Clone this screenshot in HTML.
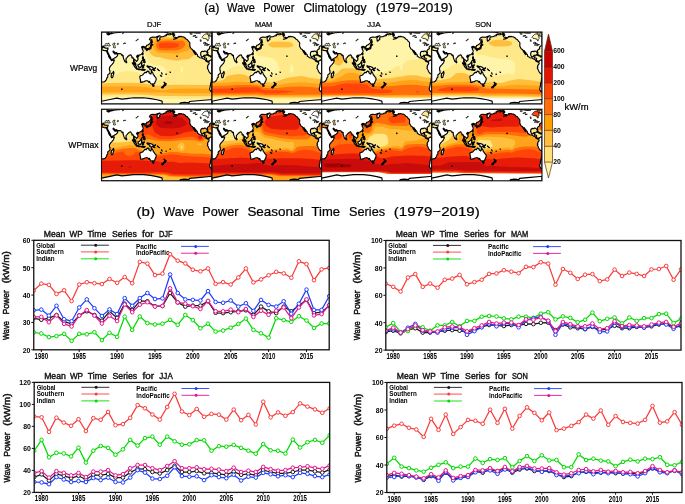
<!DOCTYPE html>
<html><head><meta charset="utf-8"><title>Wave Power</title>
<style>
html,body{margin:0;padding:0;background:#fff;}
body{width:685px;height:504px;overflow:hidden;font-family:"Liberation Sans",sans-serif;}
svg{will-change:transform;display:block;font-family:"Liberation Sans",sans-serif;fill:#000;}
</style></head><body>
<svg width="685" height="504" viewBox="0 0 685 504">
<rect width="685" height="504" fill="#fff"/>
<g style="filter:opacity(0.999)"><text x="204.2" y="12.1" font-size="12" font-weight="normal" textLength="15.3" lengthAdjust="spacingAndGlyphs" stroke="#000" stroke-width="0.22">(a)</text><text x="227.1" y="12.1" font-size="12" font-weight="normal" textLength="27.9" lengthAdjust="spacingAndGlyphs" stroke="#000" stroke-width="0.22">Wave</text><text x="263.2" y="12.1" font-size="12" font-weight="normal" textLength="31.1" lengthAdjust="spacingAndGlyphs" stroke="#000" stroke-width="0.22">Power</text><text x="303.4" y="12.1" font-size="12" font-weight="normal" textLength="63.1" lengthAdjust="spacingAndGlyphs" stroke="#000" stroke-width="0.22">Climatology</text><text x="375.7" y="12.1" font-size="12" font-weight="normal" textLength="77.1" lengthAdjust="spacingAndGlyphs" stroke="#000" stroke-width="0.22">(1979&#8722;2019)</text><text x="147.1" y="27.1" font-size="8" font-weight="normal" textLength="14.2" lengthAdjust="spacingAndGlyphs" stroke="#000" stroke-width="0.22">DJF</text><text x="255" y="27.1" font-size="8" font-weight="normal" textLength="17.3" lengthAdjust="spacingAndGlyphs" stroke="#000" stroke-width="0.22">MAM</text><text x="366.9" y="27.1" font-size="8" font-weight="normal" textLength="13.8" lengthAdjust="spacingAndGlyphs" stroke="#000" stroke-width="0.22">JJA</text><text x="475.3" y="27.1" font-size="8" font-weight="normal" textLength="16.2" lengthAdjust="spacingAndGlyphs" stroke="#000" stroke-width="0.22">SON</text><text x="70" y="71.2" font-size="8.5" font-weight="normal" textLength="27.1" lengthAdjust="spacingAndGlyphs" stroke="#000" stroke-width="0.22">WPavg</text><text x="68.3" y="148.1" font-size="8.5" font-weight="normal" textLength="30.2" lengthAdjust="spacingAndGlyphs" stroke="#000" stroke-width="0.22">WPmax</text><text x="553.2" y="164.2" font-size="7.6" font-weight="bold" textLength="7.7" lengthAdjust="spacingAndGlyphs">20</text><text x="553.2" y="148.4" font-size="7.6" font-weight="bold" textLength="7.7" lengthAdjust="spacingAndGlyphs">40</text><text x="553.2" y="132.5" font-size="7.6" font-weight="bold" textLength="7.7" lengthAdjust="spacingAndGlyphs">60</text><text x="553.2" y="116.69999999999999" font-size="7.6" font-weight="bold" textLength="7.7" lengthAdjust="spacingAndGlyphs">80</text><text x="553.2" y="100.8" font-size="7.6" font-weight="bold" textLength="11.5" lengthAdjust="spacingAndGlyphs">100</text><text x="553.2" y="85.0" font-size="7.6" font-weight="bold" textLength="11.5" lengthAdjust="spacingAndGlyphs">200</text><text x="553.2" y="69.1" font-size="7.6" font-weight="bold" textLength="11.5" lengthAdjust="spacingAndGlyphs">400</text><text x="553.2" y="53.300000000000004" font-size="7.6" font-weight="bold" textLength="11.5" lengthAdjust="spacingAndGlyphs">600</text><text x="564.5" y="109.8" font-size="8.7" font-weight="normal" textLength="24.1" lengthAdjust="spacingAndGlyphs" stroke="#000" stroke-width="0.22">kW/m</text><text x="136.6" y="215.8" font-size="13" font-weight="normal" textLength="18.4" lengthAdjust="spacingAndGlyphs" stroke="#000" stroke-width="0.22">(b)</text><text x="163.6" y="215.8" font-size="13" font-weight="normal" textLength="30.8" lengthAdjust="spacingAndGlyphs" stroke="#000" stroke-width="0.22">Wave</text><text x="202.3" y="215.8" font-size="13" font-weight="normal" textLength="36.2" lengthAdjust="spacingAndGlyphs" stroke="#000" stroke-width="0.22">Power</text><text x="247.4" y="215.8" font-size="13" font-weight="normal" textLength="56.0" lengthAdjust="spacingAndGlyphs" stroke="#000" stroke-width="0.22">Seasonal</text><text x="311.6" y="215.8" font-size="13" font-weight="normal" textLength="28.4" lengthAdjust="spacingAndGlyphs" stroke="#000" stroke-width="0.22">Time</text><text x="349.1" y="215.8" font-size="13" font-weight="normal" textLength="36.0" lengthAdjust="spacingAndGlyphs" stroke="#000" stroke-width="0.22">Series</text><text x="393.8" y="215.8" font-size="13" font-weight="normal" textLength="85.9" lengthAdjust="spacingAndGlyphs" stroke="#000" stroke-width="0.22">(1979&#8722;2019)</text><text x="22.75" y="352.7" font-size="8" font-weight="bold" textLength="7.7" lengthAdjust="spacingAndGlyphs">20</text><text x="22.75" y="325.32" font-size="8" font-weight="bold" textLength="7.7" lengthAdjust="spacingAndGlyphs">30</text><text x="22.75" y="297.95" font-size="8" font-weight="bold" textLength="7.7" lengthAdjust="spacingAndGlyphs">40</text><text x="22.75" y="270.57" font-size="8" font-weight="bold" textLength="7.7" lengthAdjust="spacingAndGlyphs">50</text><text x="22.75" y="243.2" font-size="8" font-weight="bold" textLength="7.7" lengthAdjust="spacingAndGlyphs">60</text><text x="34.53" y="358.8" font-size="8.5" font-weight="bold" textLength="13.6" lengthAdjust="spacingAndGlyphs">1980</text><text x="72.4" y="358.8" font-size="8.5" font-weight="bold" textLength="13.6" lengthAdjust="spacingAndGlyphs">1985</text><text x="110.28" y="358.8" font-size="8.5" font-weight="bold" textLength="13.6" lengthAdjust="spacingAndGlyphs">1990</text><text x="148.16" y="358.8" font-size="8.5" font-weight="bold" textLength="13.6" lengthAdjust="spacingAndGlyphs">1995</text><text x="186.04" y="358.8" font-size="8.5" font-weight="bold" textLength="13.6" lengthAdjust="spacingAndGlyphs">2000</text><text x="223.92" y="358.8" font-size="8.5" font-weight="bold" textLength="13.6" lengthAdjust="spacingAndGlyphs">2005</text><text x="261.79" y="358.8" font-size="8.5" font-weight="bold" textLength="13.6" lengthAdjust="spacingAndGlyphs">2010</text><text x="299.67" y="358.8" font-size="8.5" font-weight="bold" textLength="13.6" lengthAdjust="spacingAndGlyphs">2015</text><text x="43.7" y="236.6" font-size="8.8" font-weight="normal" textLength="21.6" lengthAdjust="spacingAndGlyphs" stroke="#1a1a1a" stroke-width="0.4">Mean</text><text x="69.5" y="236.6" font-size="8.8" font-weight="normal" textLength="13.1" lengthAdjust="spacingAndGlyphs" stroke="#1a1a1a" stroke-width="0.4">WP</text><text x="87.4" y="236.6" font-size="8.8" font-weight="normal" textLength="18.9" lengthAdjust="spacingAndGlyphs" stroke="#1a1a1a" stroke-width="0.4">Time</text><text x="112.0" y="236.6" font-size="8.8" font-weight="normal" textLength="24.8" lengthAdjust="spacingAndGlyphs" stroke="#1a1a1a" stroke-width="0.4">Series</text><text x="142.0" y="236.6" font-size="8.8" font-weight="normal" textLength="11.6" lengthAdjust="spacingAndGlyphs" stroke="#1a1a1a" stroke-width="0.4">for</text><text x="158.9" y="236.6" font-size="8.8" font-weight="normal" textLength="13.6" lengthAdjust="spacingAndGlyphs" stroke="#1a1a1a" stroke-width="0.4">DJF</text><text transform="translate(9.30,340.05) rotate(-90)" font-size="9.6" textLength="18.9" lengthAdjust="spacingAndGlyphs" stroke="#1a1a1a" stroke-width="0.5">Wave</text><text transform="translate(9.30,314.45) rotate(-90)" font-size="9.6" textLength="24.4" lengthAdjust="spacingAndGlyphs" stroke="#1a1a1a" stroke-width="0.5">Power</text><text transform="translate(9.30,283.35) rotate(-90)" font-size="9.6" textLength="32.2" lengthAdjust="spacingAndGlyphs" stroke="#1a1a1a" stroke-width="0.5">(kW/m)</text><text x="36.2" y="247.5" font-size="6.3" font-weight="bold" textLength="18.8" lengthAdjust="spacingAndGlyphs">Global</text><text x="36.2" y="254.2" font-size="6.3" font-weight="bold" textLength="27.6" lengthAdjust="spacingAndGlyphs">Southern</text><text x="36.2" y="261.1" font-size="6.3" font-weight="bold" textLength="18.4" lengthAdjust="spacingAndGlyphs">Indian</text><text x="135.9" y="248.6" font-size="6.3" font-weight="bold" textLength="21.0" lengthAdjust="spacingAndGlyphs">Pacific</text><text x="135.9" y="255.4" font-size="6.3" font-weight="bold" textLength="33.5" lengthAdjust="spacingAndGlyphs">IndoPacific</text><text x="374.8" y="353.0" font-size="8" font-weight="bold" textLength="7.7" lengthAdjust="spacingAndGlyphs">20</text><text x="374.8" y="325.6" font-size="8" font-weight="bold" textLength="7.7" lengthAdjust="spacingAndGlyphs">40</text><text x="374.8" y="298.2" font-size="8" font-weight="bold" textLength="7.7" lengthAdjust="spacingAndGlyphs">60</text><text x="374.8" y="270.8" font-size="8" font-weight="bold" textLength="7.7" lengthAdjust="spacingAndGlyphs">80</text><text x="370.95" y="243.4" font-size="8" font-weight="bold" textLength="11.6" lengthAdjust="spacingAndGlyphs">100</text><text x="386.38" y="359.1" font-size="8.5" font-weight="bold" textLength="13.6" lengthAdjust="spacingAndGlyphs">1980</text><text x="423.28" y="359.1" font-size="8.5" font-weight="bold" textLength="13.6" lengthAdjust="spacingAndGlyphs">1985</text><text x="460.18" y="359.1" font-size="8.5" font-weight="bold" textLength="13.6" lengthAdjust="spacingAndGlyphs">1990</text><text x="497.08" y="359.1" font-size="8.5" font-weight="bold" textLength="13.6" lengthAdjust="spacingAndGlyphs">1995</text><text x="533.98" y="359.1" font-size="8.5" font-weight="bold" textLength="13.6" lengthAdjust="spacingAndGlyphs">2000</text><text x="570.88" y="359.1" font-size="8.5" font-weight="bold" textLength="13.6" lengthAdjust="spacingAndGlyphs">2005</text><text x="607.78" y="359.1" font-size="8.5" font-weight="bold" textLength="13.6" lengthAdjust="spacingAndGlyphs">2010</text><text x="644.68" y="359.1" font-size="8.5" font-weight="bold" textLength="13.6" lengthAdjust="spacingAndGlyphs">2015</text><text x="395.75" y="236.8" font-size="8.8" font-weight="normal" textLength="21.6" lengthAdjust="spacingAndGlyphs" stroke="#1a1a1a" stroke-width="0.4">Mean</text><text x="421.55" y="236.8" font-size="8.8" font-weight="normal" textLength="13.1" lengthAdjust="spacingAndGlyphs" stroke="#1a1a1a" stroke-width="0.4">WP</text><text x="439.45" y="236.8" font-size="8.8" font-weight="normal" textLength="18.9" lengthAdjust="spacingAndGlyphs" stroke="#1a1a1a" stroke-width="0.4">Time</text><text x="464.05" y="236.8" font-size="8.8" font-weight="normal" textLength="24.8" lengthAdjust="spacingAndGlyphs" stroke="#1a1a1a" stroke-width="0.4">Series</text><text x="494.05" y="236.8" font-size="8.8" font-weight="normal" textLength="11.6" lengthAdjust="spacingAndGlyphs" stroke="#1a1a1a" stroke-width="0.4">for</text><text x="510.95" y="236.8" font-size="8.8" font-weight="normal" textLength="17.3" lengthAdjust="spacingAndGlyphs" stroke="#1a1a1a" stroke-width="0.4">MAM</text><text transform="translate(359.85,340.30) rotate(-90)" font-size="9.6" textLength="18.9" lengthAdjust="spacingAndGlyphs" stroke="#1a1a1a" stroke-width="0.5">Wave</text><text transform="translate(359.85,314.70) rotate(-90)" font-size="9.6" textLength="24.4" lengthAdjust="spacingAndGlyphs" stroke="#1a1a1a" stroke-width="0.5">Power</text><text transform="translate(359.85,283.60) rotate(-90)" font-size="9.6" textLength="32.2" lengthAdjust="spacingAndGlyphs" stroke="#1a1a1a" stroke-width="0.5">(kW/m)</text><text x="388.25" y="247.7" font-size="6.3" font-weight="bold" textLength="18.8" lengthAdjust="spacingAndGlyphs">Global</text><text x="388.25" y="254.4" font-size="6.3" font-weight="bold" textLength="27.6" lengthAdjust="spacingAndGlyphs">Southern</text><text x="388.25" y="261.3" font-size="6.3" font-weight="bold" textLength="18.4" lengthAdjust="spacingAndGlyphs">Indian</text><text x="487.95" y="248.8" font-size="6.3" font-weight="bold" textLength="21.0" lengthAdjust="spacingAndGlyphs">Pacific</text><text x="487.95" y="255.6" font-size="6.3" font-weight="bold" textLength="33.5" lengthAdjust="spacingAndGlyphs">IndoPacific</text><text x="23.2" y="495.3" font-size="8" font-weight="bold" textLength="7.7" lengthAdjust="spacingAndGlyphs">20</text><text x="23.2" y="473.3" font-size="8" font-weight="bold" textLength="7.7" lengthAdjust="spacingAndGlyphs">40</text><text x="23.2" y="451.3" font-size="8" font-weight="bold" textLength="7.7" lengthAdjust="spacingAndGlyphs">60</text><text x="23.2" y="429.3" font-size="8" font-weight="bold" textLength="7.7" lengthAdjust="spacingAndGlyphs">80</text><text x="19.35" y="407.3" font-size="8" font-weight="bold" textLength="11.6" lengthAdjust="spacingAndGlyphs">100</text><text x="19.35" y="385.3" font-size="8" font-weight="bold" textLength="11.6" lengthAdjust="spacingAndGlyphs">120</text><text x="34.79" y="501.4" font-size="8.5" font-weight="bold" textLength="13.6" lengthAdjust="spacingAndGlyphs">1980</text><text x="71.73" y="501.4" font-size="8.5" font-weight="bold" textLength="13.6" lengthAdjust="spacingAndGlyphs">1985</text><text x="108.66" y="501.4" font-size="8.5" font-weight="bold" textLength="13.6" lengthAdjust="spacingAndGlyphs">1990</text><text x="145.6" y="501.4" font-size="8.5" font-weight="bold" textLength="13.6" lengthAdjust="spacingAndGlyphs">1995</text><text x="182.54" y="501.4" font-size="8.5" font-weight="bold" textLength="13.6" lengthAdjust="spacingAndGlyphs">2000</text><text x="219.48" y="501.4" font-size="8.5" font-weight="bold" textLength="13.6" lengthAdjust="spacingAndGlyphs">2005</text><text x="256.41" y="501.4" font-size="8.5" font-weight="bold" textLength="13.6" lengthAdjust="spacingAndGlyphs">2010</text><text x="293.35" y="501.4" font-size="8.5" font-weight="bold" textLength="13.6" lengthAdjust="spacingAndGlyphs">2015</text><text x="44.15" y="378.7" font-size="8.8" font-weight="normal" textLength="21.6" lengthAdjust="spacingAndGlyphs" stroke="#1a1a1a" stroke-width="0.4">Mean</text><text x="69.95" y="378.7" font-size="8.8" font-weight="normal" textLength="13.1" lengthAdjust="spacingAndGlyphs" stroke="#1a1a1a" stroke-width="0.4">WP</text><text x="87.85" y="378.7" font-size="8.8" font-weight="normal" textLength="18.9" lengthAdjust="spacingAndGlyphs" stroke="#1a1a1a" stroke-width="0.4">Time</text><text x="112.45" y="378.7" font-size="8.8" font-weight="normal" textLength="24.8" lengthAdjust="spacingAndGlyphs" stroke="#1a1a1a" stroke-width="0.4">Series</text><text x="142.45" y="378.7" font-size="8.8" font-weight="normal" textLength="11.6" lengthAdjust="spacingAndGlyphs" stroke="#1a1a1a" stroke-width="0.4">for</text><text x="159.35" y="378.7" font-size="8.8" font-weight="normal" textLength="13.4" lengthAdjust="spacingAndGlyphs" stroke="#1a1a1a" stroke-width="0.4">JJA</text><text transform="translate(9.75,482.40) rotate(-90)" font-size="9.6" textLength="18.9" lengthAdjust="spacingAndGlyphs" stroke="#1a1a1a" stroke-width="0.5">Wave</text><text transform="translate(9.75,456.80) rotate(-90)" font-size="9.6" textLength="24.4" lengthAdjust="spacingAndGlyphs" stroke="#1a1a1a" stroke-width="0.5">Power</text><text transform="translate(9.75,425.70) rotate(-90)" font-size="9.6" textLength="32.2" lengthAdjust="spacingAndGlyphs" stroke="#1a1a1a" stroke-width="0.5">(kW/m)</text><text x="36.65" y="389.6" font-size="6.3" font-weight="bold" textLength="18.8" lengthAdjust="spacingAndGlyphs">Global</text><text x="36.65" y="396.3" font-size="6.3" font-weight="bold" textLength="27.6" lengthAdjust="spacingAndGlyphs">Southern</text><text x="36.65" y="403.2" font-size="6.3" font-weight="bold" textLength="18.4" lengthAdjust="spacingAndGlyphs">Indian</text><text x="136.35" y="390.7" font-size="6.3" font-weight="bold" textLength="21.0" lengthAdjust="spacingAndGlyphs">Pacific</text><text x="136.35" y="397.5" font-size="6.3" font-weight="bold" textLength="33.5" lengthAdjust="spacingAndGlyphs">IndoPacific</text><text x="375.8" y="495.4" font-size="8" font-weight="bold" textLength="7.7" lengthAdjust="spacingAndGlyphs">20</text><text x="375.8" y="467.9" font-size="8" font-weight="bold" textLength="7.7" lengthAdjust="spacingAndGlyphs">40</text><text x="375.8" y="440.4" font-size="8" font-weight="bold" textLength="7.7" lengthAdjust="spacingAndGlyphs">60</text><text x="375.8" y="412.9" font-size="8" font-weight="bold" textLength="7.7" lengthAdjust="spacingAndGlyphs">80</text><text x="371.95" y="385.4" font-size="8" font-weight="bold" textLength="11.6" lengthAdjust="spacingAndGlyphs">100</text><text x="387.38" y="501.5" font-size="8.5" font-weight="bold" textLength="13.6" lengthAdjust="spacingAndGlyphs">1980</text><text x="424.28" y="501.5" font-size="8.5" font-weight="bold" textLength="13.6" lengthAdjust="spacingAndGlyphs">1985</text><text x="461.18" y="501.5" font-size="8.5" font-weight="bold" textLength="13.6" lengthAdjust="spacingAndGlyphs">1990</text><text x="498.08" y="501.5" font-size="8.5" font-weight="bold" textLength="13.6" lengthAdjust="spacingAndGlyphs">1995</text><text x="534.98" y="501.5" font-size="8.5" font-weight="bold" textLength="13.6" lengthAdjust="spacingAndGlyphs">2000</text><text x="571.88" y="501.5" font-size="8.5" font-weight="bold" textLength="13.6" lengthAdjust="spacingAndGlyphs">2005</text><text x="608.78" y="501.5" font-size="8.5" font-weight="bold" textLength="13.6" lengthAdjust="spacingAndGlyphs">2010</text><text x="645.68" y="501.5" font-size="8.5" font-weight="bold" textLength="13.6" lengthAdjust="spacingAndGlyphs">2015</text><text x="396.75" y="378.8" font-size="8.8" font-weight="normal" textLength="21.6" lengthAdjust="spacingAndGlyphs" stroke="#1a1a1a" stroke-width="0.4">Mean</text><text x="422.55" y="378.8" font-size="8.8" font-weight="normal" textLength="13.1" lengthAdjust="spacingAndGlyphs" stroke="#1a1a1a" stroke-width="0.4">WP</text><text x="440.45" y="378.8" font-size="8.8" font-weight="normal" textLength="18.9" lengthAdjust="spacingAndGlyphs" stroke="#1a1a1a" stroke-width="0.4">Time</text><text x="465.05" y="378.8" font-size="8.8" font-weight="normal" textLength="24.8" lengthAdjust="spacingAndGlyphs" stroke="#1a1a1a" stroke-width="0.4">Series</text><text x="495.05" y="378.8" font-size="8.8" font-weight="normal" textLength="11.6" lengthAdjust="spacingAndGlyphs" stroke="#1a1a1a" stroke-width="0.4">for</text><text x="511.95" y="378.8" font-size="8.8" font-weight="normal" textLength="16.0" lengthAdjust="spacingAndGlyphs" stroke="#1a1a1a" stroke-width="0.4">SON</text><text transform="translate(360.85,482.50) rotate(-90)" font-size="9.6" textLength="18.9" lengthAdjust="spacingAndGlyphs" stroke="#1a1a1a" stroke-width="0.5">Wave</text><text transform="translate(360.85,456.90) rotate(-90)" font-size="9.6" textLength="24.4" lengthAdjust="spacingAndGlyphs" stroke="#1a1a1a" stroke-width="0.5">Power</text><text transform="translate(360.85,425.80) rotate(-90)" font-size="9.6" textLength="32.2" lengthAdjust="spacingAndGlyphs" stroke="#1a1a1a" stroke-width="0.5">(kW/m)</text><text x="389.25" y="389.7" font-size="6.3" font-weight="bold" textLength="18.8" lengthAdjust="spacingAndGlyphs">Global</text><text x="389.25" y="396.4" font-size="6.3" font-weight="bold" textLength="27.6" lengthAdjust="spacingAndGlyphs">Southern</text><text x="389.25" y="403.3" font-size="6.3" font-weight="bold" textLength="18.4" lengthAdjust="spacingAndGlyphs">Indian</text><text x="488.95" y="390.8" font-size="6.3" font-weight="bold" textLength="21.0" lengthAdjust="spacingAndGlyphs">Pacific</text><text x="488.95" y="397.6" font-size="6.3" font-weight="bold" textLength="33.5" lengthAdjust="spacingAndGlyphs">IndoPacific</text></g>











<defs><path id="land" d="M58.9,43.3 60.2,44.3 60.0,44.4 58.9,43.5ZM55.9,37.0 57.3,38.2 57.9,38.6 57.1,38.3ZM60.0,40.8 60.4,41.5 60.7,42.1 60.2,41.3ZM64.4,42.0 64.9,42.0 64.9,42.3 64.4,42.3ZM52.6,36.2 53.6,36.0 54.1,35.7 53.8,36.5 52.8,36.6ZM68.5,40.1 69.0,40.3 68.6,40.3ZM20.0,57.0 20.7,57.1 20.5,57.5 20.1,57.4ZM0.0,0.0 4.5,0.0 5.3,0.3 6.5,0.5 8.6,1.4 8.6,1.8 7.4,1.8 6.1,1.7 5.3,1.6 5.9,2.4 7.0,2.9 7.4,2.6 8.4,2.5 8.2,1.9 9.0,1.7 9.8,1.8 9.9,1.0 9.6,0.7 10.6,1.0 10.8,1.5 11.5,1.2 13.5,0.7 15.1,0.7 16.6,0.2 18.4,0.4 19.2,0.0 61.4,0.0 63.8,0.1 65.5,0.5 67.1,1.0 68.8,1.4 69.7,1.9 69.6,2.2 68.6,2.7 67.1,2.6 65.9,2.1 64.9,2.5 64.5,2.7 65.1,3.6 63.0,3.9 61.4,4.8 58.9,4.9 58.5,5.8 58.1,6.7 58.5,7.2 57.3,8.2 56.7,8.9 55.9,9.1 55.7,7.7 55.5,6.2 56.9,4.6 58.5,3.8 57.3,4.1 55.7,4.6 54.0,5.3 51.2,5.1 49.5,5.5 48.3,6.7 47.9,7.7 49.5,8.0 49.3,9.6 49.1,10.6 47.9,12.0 46.2,13.1 45.2,13.3 44.8,14.4 44.0,14.7 44.7,15.8 44.7,16.7 43.6,17.1 43.5,16.1 43.0,15.4 42.8,14.5 41.5,14.9 41.7,14.2 40.5,14.8 40.0,15.1 40.5,15.7 41.9,15.7 41.0,16.3 40.6,16.9 41.3,18.0 41.7,19.0 41.5,19.9 40.8,21.2 39.9,22.2 38.6,22.9 37.0,23.4 36.7,23.9 36.2,23.2 35.5,23.8 35.1,24.5 35.6,25.4 36.4,26.4 36.5,27.6 35.8,28.6 34.8,29.5 34.7,28.8 33.9,28.1 33.1,27.5 32.9,27.2 32.7,28.1 32.5,29.0 32.9,30.1 33.6,30.6 34.1,31.4 34.2,32.4 34.5,32.9 33.8,32.6 33.3,32.2 32.9,31.0 32.7,30.4 32.0,29.8 32.1,28.8 32.2,27.8 31.8,26.4 31.6,25.7 30.9,26.0 30.4,25.9 30.5,24.7 29.7,23.7 29.3,22.8 28.6,23.0 28.0,23.2 27.4,23.4 27.2,24.0 26.6,24.2 25.5,25.6 24.6,26.3 24.6,27.4 24.5,28.7 24.1,29.2 23.5,29.7 23.0,28.9 22.5,27.6 22.0,26.2 21.7,25.0 21.6,24.0 21.6,23.3 20.7,23.6 20.1,22.9 20.5,22.7 19.8,22.3 19.2,21.7 18.2,21.5 17.0,21.6 15.6,21.3 15.1,20.6 14.8,20.6 14.1,20.8 13.3,20.4 12.6,19.7 11.9,19.1 11.5,19.3 11.8,20.3 12.4,20.9 12.8,21.1 12.9,21.6 13.3,22.0 14.1,22.0 14.9,21.0 14.9,21.8 15.8,22.3 16.3,22.8 15.8,23.8 15.4,24.5 14.4,25.2 13.2,25.9 11.9,26.8 10.2,27.5 9.6,27.5 9.3,26.6 9.2,25.7 8.5,24.5 7.8,23.3 7.2,22.0 6.3,20.4 6.1,19.4 5.9,20.2 5.4,19.9 5.2,19.2 5.2,19.5 5.6,20.6 6.3,22.1 7.0,23.3 7.1,24.5 7.6,25.0 8.1,26.3 8.7,26.6 9.5,27.7 9.5,28.1 10.0,28.6 11.1,28.2 12.8,27.9 12.6,29.0 12.1,30.2 11.5,31.4 10.6,32.4 9.6,33.4 8.8,34.4 8.2,35.3 7.9,36.0 8.0,37.0 7.9,37.9 8.4,38.6 8.4,39.8 8.5,40.8 7.8,41.8 7.0,42.2 6.2,43.2 6.3,44.2 6.3,45.1 5.3,46.0 5.2,46.8 4.9,47.5 4.3,48.5 3.5,49.3 2.7,49.9 1.2,50.0 0.0,50.3 0.0,18.0 0.8,17.9 1.3,18.0 2.0,18.4 3.7,18.8 4.5,18.5 5.1,18.6 5.9,18.6 6.1,17.9 6.5,16.8 6.6,16.0 5.7,16.1 4.9,16.2 4.3,15.9 3.7,16.1 3.1,15.8 2.7,15.1 2.6,14.6 2.5,14.3 2.0,14.0 1.4,14.2 1.1,14.3 1.3,14.9 1.6,15.4 1.2,15.6 1.1,16.1 0.7,15.8 0.5,15.2 0.0,14.6ZM72.4,0.0 110.5,0.0 110.5,13.6 109.7,13.8 108.9,14.2 108.2,14.9 108.0,15.8 108.2,16.7 107.2,17.3 106.4,18.0 105.9,18.7 106.0,19.4 106.4,20.6 106.3,21.4 106.0,21.5 105.6,21.1 105.3,20.2 104.8,19.7 104.4,19.2 103.5,19.1 102.7,19.1 102.3,19.6 101.1,19.3 100.3,19.5 99.4,20.4 99.2,21.6 99.2,23.0 99.9,24.5 100.5,24.8 101.5,24.7 102.1,24.2 102.3,23.4 103.5,23.4 103.3,24.7 103.1,25.2 102.9,25.9 103.1,26.0 104.0,26.0 105.1,26.4 104.9,27.4 104.9,28.3 105.2,28.8 105.8,29.3 106.4,29.0 106.8,29.0 107.5,29.5 107.8,29.3 108.2,28.5 108.7,28.3 109.5,27.9 109.7,28.3 109.9,27.7 110.5,27.8 110.5,60.1 109.3,59.3 108.7,58.6 108.3,57.6 108.2,56.2 108.6,55.2 108.9,53.8 109.0,52.3 109.3,50.9 109.8,49.4 109.9,48.0 110.1,46.6 110.3,45.1 110.4,43.7 110.4,42.4 109.7,41.9 108.5,41.0 107.8,40.1 107.2,38.9 106.6,37.4 105.9,36.5 105.9,35.8 106.4,35.2 106.0,34.7 106.1,34.1 106.4,33.4 106.9,32.6 107.6,31.8 107.5,31.2 107.4,30.2 107.0,29.8 106.6,29.4 106.2,30.1 105.6,29.6 105.0,29.5 104.2,28.8 104.0,28.1 103.3,27.4 102.3,27.1 101.3,26.5 100.3,25.8 99.7,26.0 98.4,25.7 97.6,25.1 96.6,24.5 96.0,24.0 96.1,23.3 95.8,22.6 94.9,21.6 94.3,20.6 93.3,19.7 92.9,18.7 92.3,18.6 92.9,19.9 93.5,20.9 94.3,22.0 94.2,22.6 93.3,21.8 93.1,21.1 92.3,20.2 91.7,19.0 91.2,18.0 90.8,17.4 89.8,17.0 89.3,16.1 89.0,15.5 88.3,14.2 88.3,13.0 88.4,11.4 88.2,10.4 88.0,10.1 87.0,9.4 86.6,8.6 85.7,7.5 84.7,7.2 83.9,6.2 83.1,5.5 81.9,4.9 80.6,4.8 79.4,4.4 78.6,4.7 77.6,4.9 77.8,4.3 77.1,4.6 76.5,5.3 75.7,6.0 74.5,6.8 72.4,7.3 72.0,7.2 73.3,6.7 74.5,6.1 74.9,5.5 74.3,5.4 72.8,5.3 72.0,4.6 71.6,3.6 73.1,3.4 73.3,2.7 72.2,2.6 71.2,2.6 70.4,2.1 72.0,1.8 72.8,1.7 71.8,1.2 70.9,0.8 72.4,0.1ZM38.3,44.2 38.5,46.1 38.9,48.0 39.2,49.0 38.9,50.1 40.1,50.4 41.3,49.9 42.6,49.7 43.4,49.1 44.6,48.8 45.6,48.7 46.7,49.3 47.3,50.3 48.1,49.4 48.3,50.6 49.0,51.1 49.4,51.8 50.5,52.2 51.2,51.9 51.7,52.4 52.4,51.8 53.2,51.5 53.3,50.6 53.7,49.8 54.3,48.7 54.7,47.3 54.5,45.8 53.6,44.9 53.0,44.2 52.6,43.2 51.8,42.7 51.6,41.8 51.3,40.8 50.7,40.5 50.4,39.4 50.1,38.7 49.8,39.6 49.7,40.8 49.4,42.0 48.9,42.0 48.2,41.3 47.4,40.8 47.5,39.5 47.1,39.4 46.0,39.1 45.4,39.5 44.9,40.7 44.3,40.7 43.8,40.3 43.2,40.6 42.6,41.4 41.9,42.0 41.5,42.7 40.5,43.2 39.6,43.5 38.7,44.1ZM51.0,53.1 51.8,53.3 52.5,53.2 52.5,53.9 52.2,54.3 51.6,54.5 51.3,54.0ZM45.4,34.0 46.0,33.8 46.7,34.0 46.9,34.8 47.3,35.2 48.1,34.4 49.5,34.8 51.0,35.4 51.5,36.1 52.2,36.5 52.0,36.9 52.6,37.7 53.4,38.5 53.0,38.6 52.2,38.4 51.6,37.5 50.7,37.3 50.3,38.0 49.5,38.0 48.7,37.5 48.3,37.6 48.6,37.0 48.3,36.2 47.3,35.8 46.5,35.4 46.2,34.9 46.6,34.7 45.8,34.6 45.4,34.2ZM36.4,32.9 37.0,32.8 37.4,32.4 38.1,32.1 38.9,31.2 39.6,30.3 40.0,30.6 40.6,31.1 40.1,31.5 40.0,32.4 40.5,33.1 39.9,33.8 39.5,34.6 39.3,35.4 38.7,35.5 38.1,35.1 37.4,35.1 36.9,34.9 36.8,34.2 36.4,33.5ZM30.8,30.9 31.7,31.1 32.3,31.9 33.1,32.5 34.0,33.3 34.4,34.1 35.2,35.0 35.1,36.4 34.6,36.3 33.7,35.5 33.1,34.6 32.4,33.5 31.9,32.4 31.1,31.7ZM34.9,36.7 36.0,36.7 37.1,36.7 37.9,36.9 38.7,37.3 38.6,37.7 37.2,37.6 36.0,37.3 35.4,37.2 34.9,36.9ZM39.1,37.5 40.5,37.6 42.2,37.6 43.0,37.6 43.8,37.6 43.0,38.2 42.4,38.5 40.9,38.2 39.7,37.9 39.1,37.8ZM40.7,36.2 41.1,35.0 40.7,34.1 40.9,33.2 41.7,33.1 43.0,32.9 42.8,33.4 41.3,33.4 41.3,34.2 42.3,34.0 41.6,34.5 41.9,35.2 42.3,36.0 41.7,35.9 41.3,34.9 41.1,36.2ZM41.1,24.7 41.8,24.8 41.9,25.8 41.5,26.4 41.9,26.8 42.6,27.4 42.4,27.5 41.7,27.0 41.2,27.0 41.0,26.5 40.9,25.8 41.1,25.2ZM41.7,30.2 42.4,29.5 43.2,28.9 43.6,29.8 43.5,30.6 43.1,30.9 42.6,30.5 42.2,30.0ZM41.7,27.9 42.6,28.1 43.2,27.6 43.2,28.7 42.4,29.1 41.9,28.8ZM39.8,29.5 40.7,28.6 40.8,28.2 40.4,28.8ZM41.3,21.5 41.7,21.6 41.5,22.3 41.3,23.0 41.0,22.6 41.0,22.0ZM36.3,24.4 36.7,24.0 37.2,24.2 37.0,24.7 36.5,24.9ZM24.5,28.9 24.8,29.3 25.3,30.0 25.2,30.5 24.7,30.8 24.5,30.2 24.4,29.6ZM12.0,39.4 12.4,41.0 12.2,41.8 11.7,43.2 11.3,45.1 10.8,45.7 10.2,45.8 9.7,44.9 9.6,43.9 9.9,43.0 9.8,41.8 10.6,41.2 11.4,40.6 11.8,39.6ZM45.0,17.7 44.9,17.9 45.1,18.6 45.5,18.6 45.8,17.8 46.2,17.9 46.7,17.5 47.4,17.5 47.8,17.1 48.5,17.0 49.0,16.8 49.4,16.5 49.5,15.4 49.9,14.6 49.7,13.7 49.2,13.8 49.1,14.4 49.0,15.0 48.5,15.6 47.9,15.7 47.7,16.1 47.4,16.5 46.2,16.6 45.4,17.1 45.3,17.3ZM49.1,13.7 49.5,13.2 50.4,13.4 51.4,12.8 50.9,12.5 50.3,12.2 49.8,11.8 49.8,12.7 49.2,12.8 49.1,13.3ZM49.9,11.5 50.5,11.3 50.3,10.1 51.0,10.1 50.3,8.9 50.5,8.2 50.2,7.5 49.9,8.2 49.8,9.6 49.9,10.6ZM62.5,50.2 63.1,50.5 63.6,51.2 63.8,51.6 64.7,51.6 64.8,52.1 64.3,52.6 64.2,53.0 63.6,53.6 63.4,53.4 63.5,52.9 62.9,52.5 63.3,51.9 63.3,51.4 62.6,50.4ZM62.5,53.0 63.1,53.4 63.0,53.8 62.5,54.5 61.9,54.9 61.7,55.6 61.2,56.0 60.6,55.9 60.0,55.6 60.6,54.8 61.6,54.2 62.0,53.7 62.2,53.2ZM104.4,23.1 105.4,22.6 106.4,22.5 107.6,23.3 108.8,23.9 107.4,24.0 107.0,23.7 106.0,23.2 105.2,22.9ZM108.7,24.7 109.1,24.1 110.5,24.1 110.5,24.9 109.7,24.8 109.1,24.9ZM75.3,24.2 75.5,23.9 75.8,24.2 75.5,24.5ZM0.0,72.0 0.0,69.3 8.5,67.5 15.3,66.1 20.3,67.1 25.3,66.6 32.0,65.8 42.0,65.8 49.0,66.6 55.5,67.8 60.5,69.1 61.0,72.0ZM78.0,72.0 79.0,70.8 83.0,70.3 87.5,70.8 88.0,69.5 99.0,68.5 108.5,67.7 110.5,67.5 110.5,72.0Z"/><path id="water" d="M88.4,1.7 90.0,1.4 90.9,1.9 89.6,2.4 88.8,2.2ZM91.3,4.3 92.5,3.5 94.5,3.6 93.3,4.1 92.1,4.4ZM93.5,5.4 94.9,5.0 95.8,5.1 94.5,5.5ZM98.6,7.8 99.0,9.4 99.7,9.4 99.5,7.8ZM3.3,13.8 4.7,13.8 5.5,13.4 6.5,13.8 7.6,13.9 8.8,13.7 8.7,13.1 7.8,12.5 7.2,12.0 7.6,11.1 6.3,11.5 6.1,12.1 5.5,12.2 5.3,11.5 4.5,11.3 4.0,11.9 3.5,12.7ZM11.9,15.6 12.7,15.9 13.9,15.8 13.8,14.9 13.5,14.4 13.7,13.9 13.4,13.4 13.1,13.0 12.7,12.2 13.5,11.9 13.5,11.1 12.7,11.0 11.9,11.3 11.3,12.0 11.3,13.0 11.7,13.4 12.1,14.2 11.9,14.9ZM15.8,12.6 16.4,12.7 17.0,12.2 16.9,11.4 16.2,11.2 15.8,11.8ZM21.9,11.9 22.9,11.4 24.1,11.4 24.1,11.1 22.9,11.1 22.0,11.4ZM34.4,8.9 35.2,8.6 36.2,7.9 36.8,7.0 36.5,6.8 35.8,7.7 35.0,8.3 34.3,8.7ZM101.5,11.1 102.3,11.0 103.1,10.2 104.6,10.8 104.4,11.3 103.3,11.3 102.3,11.3ZM103.2,13.5 103.7,13.6 104.0,12.5 104.4,11.6 103.7,11.6 103.3,12.5ZM104.7,11.6 105.8,11.6 106.4,12.1 105.7,12.9 105.3,12.8 105.4,12.2 104.8,12.2ZM105.0,13.6 105.8,13.7 106.8,13.1 106.6,13.0 105.6,13.2 105.1,13.4ZM106.5,12.8 107.4,12.8 108.0,12.5 107.7,12.4 106.7,12.6Z"/><path id="watern" d="M21.3,0.0 22.1,0.0 22.1,1.2 20.9,1.7 21.5,0.7ZM87.2,0.0 92.1,0.0 94.9,0.7 99.0,0.8 99.0,1.2 94.1,1.2 91.3,0.6 88.4,0.3ZM105.6,0.0 108.5,0.0 108.9,1.4 107.6,2.2 106.0,1.7ZM107.2,3.6 108.9,4.3 110.5,4.7 110.5,3.8 108.9,3.1 107.2,2.9ZM104.4,1.9 103.1,2.4 101.1,4.3 100.5,5.4 101.3,6.2 103.1,6.5 105.4,7.1 105.8,8.2 106.2,9.0 106.8,8.6 106.8,7.4 107.6,6.5 107.4,5.0 107.2,3.6 106.0,2.6 105.6,1.9Z"/><clipPath id="mclip"><rect x="0" y="0" width="110.5" height="72"/></clipPath></defs>
<g transform="translate(101.5,32.0) scale(1.0000,1.0000)"><g clip-path="url(#mclip)"><rect width="110.5" height="72.0" fill="#FFF5AA"/><path fill="#FFE888" fill-rule="evenodd" d="M40.0,0.0 106.2,0.0 106.2,12.5 106.1,14.0 105.6,14.5 105.0,14.7 102.5,14.9 100.5,15.2 100.0,15.5 99.6,16.0 99.3,17.5 99.3,22.5 99.5,23.5 100.0,24.1 102.5,24.8 103.0,25.2 103.7,26.5 105.0,27.8 106.0,29.3 107.0,29.7 110.5,29.8 110.5,66.9 64.0,66.9 53.5,66.3 47.0,65.1 38.0,64.7 0.0,64.6 0.0,47.5 3.4,47.0 7.5,46.0 8.3,45.5 10.0,43.9 11.5,43.1 20.0,40.1 23.5,39.3 25.5,39.0 31.5,39.4 35.5,40.1 36.5,40.4 37.5,41.1 42.0,45.7 43.0,46.4 48.0,47.6 52.0,49.2 53.0,49.4 54.0,49.3 57.0,48.1 61.5,47.3 62.9,46.5 63.5,45.6 64.6,43.0 64.9,41.5 65.0,40.0 64.4,38.0 63.0,35.7 61.5,34.4 60.0,33.8 58.5,33.5 55.0,33.4 53.0,33.2 51.5,32.6 49.5,31.2 47.6,29.5 46.5,28.0 45.7,26.5 44.7,23.5 44.2,22.5 43.5,21.6 41.0,19.5 40.4,18.5 40.0,16.5ZM80.0,34.6 79.5,35.3 79.3,36.0 79.1,38.5 79.5,40.3 80.0,41.0 80.5,41.0 81.0,40.5 81.4,39.5 81.5,37.0 81.0,35.1 80.5,34.6Z"/><path fill="#FFBF3C" fill-rule="evenodd" d="M46.3,0.0 61.0,0.0 61.1,3.0 61.3,3.5 62.0,4.2 63.0,4.6 64.5,5.0 70.0,5.4 73.5,5.0 75.2,4.5 75.7,4.0 75.9,3.5 76.0,0.0 93.3,0.0 93.4,15.0 93.2,21.0 92.8,22.5 92.0,23.5 88.5,26.3 87.4,27.0 86.0,27.3 81.0,27.5 76.0,28.7 73.7,28.5 64.5,26.9 58.5,25.3 54.0,25.0 52.5,24.5 50.4,23.0 48.8,21.5 48.0,20.2 46.8,17.0 46.3,13.5ZM11.7,51.0 24.5,50.7 36.5,51.0 47.0,52.2 52.5,53.4 54.0,53.5 59.5,53.4 71.5,52.8 110.5,52.9 110.5,64.2 65.5,64.1 53.5,63.8 47.5,63.0 37.0,62.4 0.0,62.4 0.0,51.2Z"/><path fill="#FFA418" fill-rule="evenodd" d="M83.5,4.0 84.0,3.5 84.5,3.5 85.5,4.7 86.5,6.3 87.3,10.0 88.7,13.5 88.7,15.0 88.0,17.0 87.0,18.5 86.0,19.1 82.0,19.7 78.0,21.2 75.5,21.7 58.5,20.7 56.0,20.0 54.0,18.7 52.7,17.0 51.3,14.0 51.2,12.5 52.0,11.0 53.1,10.0 55.5,8.3 57.0,7.3 58.0,6.9 59.0,6.8 64.5,7.1 76.2,7.0 78.9,6.5 80.4,6.0 82.3,5.0ZM17.2,54.5 26.0,54.2 36.5,54.5 42.0,54.9 47.5,55.6 53.0,57.3 59.0,58.2 63.5,58.0 70.0,57.0 77.0,56.7 91.5,56.6 110.5,56.7 110.5,61.3 71.0,61.3 64.0,60.6 59.0,60.4 52.5,60.8 37.0,60.2 0.0,60.2 0.0,54.6Z"/><path fill="#FF6E0A" fill-rule="evenodd" d="M69.0,8.5 76.0,8.8 80.5,8.6 81.5,8.7 82.6,9.5 83.4,11.0 83.6,12.0 83.4,13.5 82.4,15.0 80.4,16.5 77.0,18.0 75.0,18.4 65.5,18.6 58.5,18.3 57.5,18.0 56.6,17.5 55.3,16.0 54.5,14.0 54.5,12.5 55.5,10.7 57.0,9.4 58.0,9.0 59.0,8.8Z"/><path fill="#FF4608" fill-rule="evenodd" d="M67.3,10.5 70.5,10.5 76.0,11.4 77.0,12.0 77.3,12.5 77.3,13.5 76.7,14.5 75.5,15.3 71.7,16.0 69.5,16.2 64.0,16.3 59.0,16.0 58.0,15.6 57.3,14.5 57.1,13.5 57.3,12.5 57.9,11.5 58.5,11.1 60.0,10.8Z"/><use href="#land" fill="#fff" stroke="#000" stroke-width="1.15" stroke-linejoin="round"/><use href="#water" fill="#FFF5AA" stroke="#000" stroke-width="0.75"/><use href="#watern" fill="#FFF5AA" stroke="#000" stroke-width="0.75"/></g></g>
<rect x="101.5" y="32.0" width="110.5" height="72.0" fill="none" stroke="#111" stroke-width="1.1"/>
<g transform="translate(212.0,32.0) scale(0.9919,1.0000)"><g clip-path="url(#mclip)"><rect width="110.5" height="72.0" fill="#FFF5AA"/><path fill="#FFE888" fill-rule="evenodd" d="M43.3,0.0 106.2,0.0 106.2,12.5 106.1,14.0 105.6,14.5 105.0,14.7 100.5,14.8 99.9,15.0 99.3,15.5 98.8,17.0 98.8,22.5 99.0,23.5 99.5,24.3 100.5,24.7 102.5,24.9 103.0,25.3 103.6,26.5 105.0,27.8 106.0,29.3 107.0,29.7 110.5,29.8 110.5,67.3 54.5,67.3 52.5,67.1 47.2,66.0 45.0,65.8 0.0,65.8 0.0,45.0 2.2,45.5 5.0,45.6 6.2,45.5 7.0,44.6 8.3,42.0 9.5,40.8 11.5,39.8 15.7,38.5 18.5,36.3 21.0,35.1 24.0,34.2 26.0,34.0 32.0,34.9 35.0,35.9 36.5,36.8 38.2,38.5 41.0,40.4 42.5,41.7 43.9,43.5 45.8,47.0 46.5,47.6 53.0,46.4 60.5,46.1 61.5,45.5 64.0,43.1 68.1,41.0 68.7,40.5 68.9,40.0 68.8,39.5 67.5,36.2 66.2,31.0 65.1,29.5 63.0,27.6 61.5,26.7 60.5,26.3 53.5,24.7 46.5,23.9 45.5,23.3 45.0,22.7 44.3,20.0 43.4,14.0ZM80.0,32.4 79.3,33.0 78.7,34.5 78.3,36.5 78.3,38.0 78.4,39.0 78.8,40.0 79.5,40.8 80.5,41.0 81.3,40.5 81.9,39.5 82.2,38.5 82.2,36.5 81.9,34.5 81.5,33.4 81.0,32.7 80.5,32.4Z"/><path fill="#FFBF3C" fill-rule="evenodd" d="M60.3,10.0 62.0,9.7 69.5,9.6 78.0,10.1 79.5,10.5 81.1,11.5 81.9,12.5 82.1,13.5 81.7,14.0 80.9,14.5 79.0,15.1 77.5,15.4 70.0,15.6 61.5,15.5 60.0,15.1 58.5,14.3 57.3,13.5 56.6,12.5 56.7,12.0 57.5,11.3ZM22.9,42.5 26.0,42.1 31.5,42.5 33.0,42.7 38.5,45.8 41.2,48.5 42.4,49.5 44.0,50.2 46.0,50.6 48.5,50.6 53.5,50.1 60.0,50.6 61.5,50.6 65.1,49.5 70.5,47.4 77.5,45.5 80.5,45.3 83.5,44.7 89.5,44.0 91.5,44.2 99.0,45.7 110.5,47.6 110.5,65.5 54.5,65.5 45.0,64.6 0.0,64.6 0.0,49.1 6.5,49.0 9.3,48.5 11.0,47.9 12.5,47.0 14.9,44.5 16.0,43.7Z"/><path fill="#FFA418" fill-rule="evenodd" d="M20.5,50.0 26.0,49.7 36.5,50.1 42.5,51.6 49.5,52.4 54.0,53.3 60.5,53.8 64.0,53.4 78.0,50.9 88.5,50.3 91.0,50.3 99.5,50.9 110.5,51.9 110.5,64.2 54.5,64.2 45.0,63.6 0.0,63.6 0.0,51.1 9.5,50.9Z"/><path fill="#FF6E0A" fill-rule="evenodd" d="M19.7,53.5 25.0,53.1 32.5,53.0 38.0,53.1 45.5,53.5 48.5,54.1 53.0,55.9 59.5,56.3 62.5,56.2 78.0,54.8 89.0,54.6 98.5,55.0 110.5,55.9 110.5,62.4 78.5,62.7 67.5,63.0 53.5,63.0 45.0,62.3 0.0,62.5 0.0,54.0 14.5,53.8Z"/><path fill="#FF4608" fill-rule="evenodd" d="M27.0,55.5 33.5,55.3 45.0,55.3 46.5,55.6 50.5,57.7 53.0,58.3 71.0,58.4 84.3,59.5 79.0,59.9 72.0,61.0 68.0,61.3 53.5,61.4 47.5,60.3 45.5,60.1 37.5,60.6 26.0,60.8 0.0,60.7 0.0,56.7 15.5,56.4Z"/><use href="#land" fill="#fff" stroke="#000" stroke-width="1.15" stroke-linejoin="round"/><use href="#water" fill="#FFF5AA" stroke="#000" stroke-width="0.75"/><use href="#watern" fill="#FFF5AA" stroke="#000" stroke-width="0.75"/></g></g>
<rect x="212.0" y="32.0" width="109.6" height="72.0" fill="none" stroke="#111" stroke-width="1.1"/>
<g transform="translate(321.6,32.0) scale(0.9955,1.0000)"><g clip-path="url(#mclip)"><rect width="110.5" height="72.0" fill="#FFF5AA"/><path fill="#FFE888" fill-rule="evenodd" d="M0.0,0.0 19.7,0.0 19.8,11.5 20.0,13.5 20.7,15.5 21.5,16.4 22.5,17.1 25.0,18.2 29.0,19.4 30.5,20.3 31.2,21.0 32.3,22.5 33.2,24.5 33.8,26.5 34.5,30.7 35.4,31.5 37.0,32.3 40.2,34.5 41.7,37.0 43.5,39.2 46.0,44.0 46.5,44.5 47.5,44.4 50.1,43.0 53.0,41.9 63.5,39.5 69.2,38.0 70.5,37.4 74.5,34.7 77.0,33.6 78.0,33.7 78.3,34.0 79.5,37.9 80.0,38.5 80.5,38.5 81.0,37.7 81.2,37.0 81.6,33.0 82.2,31.5 83.0,30.6 84.0,29.9 86.0,28.8 87.5,28.2 96.5,27.2 98.0,26.7 100.0,25.5 102.0,25.0 102.5,25.1 103.0,25.4 103.6,26.5 105.0,27.8 106.0,29.3 107.0,29.7 110.5,29.8 110.5,72.0 0.0,72.0ZM100.0,0.0 106.2,0.0 106.2,13.0 106.1,14.0 105.5,14.6 104.0,14.7 102.0,14.5 100.6,14.0 100.2,13.5 100.0,12.5Z"/><path fill="#FFBF3C" fill-rule="evenodd" d="M14.5,21.0 16.0,20.8 17.0,20.9 19.0,21.8 21.3,24.0 22.3,25.5 22.7,26.5 22.7,28.0 22.0,29.5 20.0,32.4 19.5,32.9 18.5,33.4 17.5,33.5 16.0,33.4 14.0,32.5 11.7,30.5 10.5,28.5 10.3,27.5 10.3,26.0 11.0,23.8 12.5,22.0ZM21.4,36.5 25.0,36.3 32.5,36.5 34.0,36.8 37.0,37.9 38.5,38.9 41.5,42.0 42.6,43.5 43.7,45.5 44.5,46.5 45.5,47.1 47.0,47.5 53.5,47.6 62.0,46.5 69.5,46.2 77.0,44.8 80.5,44.6 83.5,43.8 87.5,43.3 96.5,43.6 103.0,45.2 110.5,46.0 110.5,65.5 54.5,65.5 45.0,64.5 0.0,64.5 0.0,45.3 2.0,46.0 5.5,46.5 7.6,46.5 10.0,44.8 12.3,43.5 14.5,41.8 16.5,40.5 20.0,37.1Z"/><path fill="#FFA418" fill-rule="evenodd" d="M15.3,25.5 16.0,25.1 16.5,25.1 17.5,25.6 18.0,26.5 18.0,27.0 17.5,28.0 17.0,28.3 16.0,28.3 15.0,27.7 14.7,27.0 14.7,26.5ZM26.2,41.0 32.0,40.8 33.5,41.0 38.0,43.0 40.5,45.0 42.5,47.2 44.0,48.3 45.5,48.8 49.5,49.6 53.5,50.8 70.0,50.4 78.0,48.9 87.5,48.0 96.5,48.3 103.0,49.5 110.5,50.0 110.5,64.3 54.5,64.3 45.0,63.7 0.0,63.7 0.0,48.9 7.5,49.2 10.0,48.8 17.8,45.5 21.4,43.5 24.5,41.5Z"/><path fill="#FF6E0A" fill-rule="evenodd" d="M23.7,48.5 26.0,48.3 32.5,48.3 38.5,48.6 43.0,49.9 48.0,51.2 49.8,52.0 52.5,53.7 54.0,54.1 63.5,54.3 72.0,53.9 79.0,53.2 87.5,52.7 96.5,52.9 103.0,53.9 110.5,54.4 110.5,62.7 96.5,63.0 78.5,62.7 70.5,63.1 61.0,63.2 53.5,63.2 45.0,62.9 0.0,62.9 0.0,50.8 7.5,50.9 10.0,50.7Z"/><path fill="#FF4608" fill-rule="evenodd" d="M24.4,51.5 37.5,51.4 44.5,52.5 46.0,53.0 48.0,54.9 49.0,55.6 52.0,56.8 54.0,57.1 63.5,57.5 69.0,58.0 70.6,58.5 71.2,59.0 71.3,59.5 71.0,60.0 69.5,60.6 66.7,61.0 61.5,61.3 0.0,61.4 0.0,54.4 12.0,54.3 14.0,53.8 17.5,52.4ZM94.8,59.5 96.0,59.2 97.0,59.1 98.2,59.5 98.2,60.0 97.2,60.5 96.1,60.5 94.7,60.0Z"/><path fill="#fff" d="M0.0,73.0 0.0,65.3 20.0,64.8 45.0,64.6 55.0,65.0 61.0,65.8 75.0,66.6 95.0,66.6 110.5,66.4 110.5,73.0Z"/><use href="#land" fill="#fff" stroke="#000" stroke-width="1.15" stroke-linejoin="round"/><use href="#water" fill="#FFF5AA" stroke="#000" stroke-width="0.75"/><use href="#watern" fill="#FFF5AA" stroke="#000" stroke-width="0.75"/></g></g>
<rect x="321.6" y="32.0" width="110.0" height="72.0" fill="none" stroke="#111" stroke-width="1.1"/>
<g transform="translate(431.6,32.0) scale(0.9991,1.0000)"><g clip-path="url(#mclip)"><rect width="110.5" height="72.0" fill="#FFF5AA"/><path fill="#FFE888" fill-rule="evenodd" d="M44.0,0.0 106.2,0.0 106.2,12.5 106.1,14.0 105.6,14.5 105.0,14.7 100.5,14.8 99.8,15.0 99.2,15.5 98.8,17.0 98.8,22.5 98.9,23.5 99.5,24.3 100.5,24.7 102.5,24.9 103.0,25.3 103.6,26.5 105.0,27.8 106.0,29.3 107.0,29.7 110.5,29.8 110.5,72.0 0.0,72.0 0.0,41.9 6.5,41.9 8.0,41.5 10.2,39.5 11.5,38.6 16.1,36.5 20.0,33.6 23.0,32.2 25.0,31.7 27.0,32.0 32.0,33.3 35.5,34.9 36.8,36.0 38.4,38.0 41.5,39.8 43.0,41.1 44.1,42.5 46.0,46.5 47.0,46.9 55.5,45.2 66.8,43.5 76.5,41.4 77.5,41.4 79.5,42.4 80.5,42.4 81.5,41.9 82.3,41.0 82.9,40.0 83.5,38.0 83.8,32.0 83.2,30.5 82.1,29.5 81.0,28.8 79.5,28.3 75.0,27.3 61.5,25.8 55.4,24.0 50.5,22.8 49.5,22.8 46.5,23.5 45.4,23.0 45.0,22.5 44.8,21.5 44.1,14.5Z"/><path fill="#FFBF3C" fill-rule="evenodd" d="M63.6,8.0 70.0,7.7 77.1,9.0 78.9,9.5 79.8,10.0 80.4,10.5 80.7,11.5 80.5,12.1 79.7,13.0 78.0,13.9 76.0,14.3 69.5,14.6 63.0,14.4 61.5,14.1 58.9,13.0 57.5,12.0 57.2,11.5 57.1,11.0 57.4,10.5 59.0,9.4 61.0,8.4ZM26.5,41.0 32.0,40.9 33.5,41.3 38.0,43.5 40.6,47.0 42.1,48.5 44.0,49.5 46.5,50.2 54.0,50.6 62.0,50.3 70.0,51.0 77.5,48.8 85.5,47.3 87.5,47.1 101.5,48.4 110.5,49.9 110.5,65.1 86.5,64.6 51.0,64.6 49.5,64.4 46.0,63.5 44.5,63.4 0.0,63.4 0.0,48.4 8.0,48.2 17.5,46.4 18.8,46.0 19.7,45.5 21.7,43.5 24.0,41.7 25.0,41.3Z"/><path fill="#FFA418" fill-rule="evenodd" d="M32.7,50.0 37.5,49.6 41.7,51.0 49.5,52.4 54.0,53.7 61.0,54.2 70.0,54.3 78.5,53.3 87.0,52.8 110.5,54.1 110.5,63.8 86.0,63.3 52.5,63.2 50.5,63.1 47.0,62.5 45.0,62.3 0.0,62.3 0.0,51.3 8.0,51.2 17.5,50.3Z"/><path fill="#FF6E0A" fill-rule="evenodd" d="M14.2,53.0 18.0,52.7 38.5,52.7 47.5,53.9 49.5,54.5 53.0,56.2 55.0,56.5 110.5,57.6 110.5,62.3 78.0,61.4 54.5,61.6 47.5,61.1 16.0,61.2 7.0,61.1 0.0,60.7 0.0,54.1 8.0,53.8Z"/><path fill="#FF4608" fill-rule="evenodd" d="M16.6,55.0 25.5,54.8 38.5,54.8 45.5,55.7 46.4,56.0 47.1,56.5 47.6,57.5 47.4,58.0 46.8,58.5 45.5,59.0 37.0,59.5 15.5,59.4 8.5,59.0 6.9,58.5 6.4,58.0 6.6,57.5 8.0,56.9Z"/><path fill="#fff" d="M0.0,73.0 0.0,65.1 30.0,64.8 50.0,65.0 58.0,65.9 70.0,66.5 95.0,66.5 110.5,66.5 110.5,73.0Z"/><use href="#land" fill="#fff" stroke="#000" stroke-width="1.15" stroke-linejoin="round"/><use href="#water" fill="#FFF5AA" stroke="#000" stroke-width="0.75"/><use href="#watern" fill="#FFF5AA" stroke="#000" stroke-width="0.75"/></g></g>
<rect x="431.6" y="32.0" width="110.4" height="72.0" fill="none" stroke="#111" stroke-width="1.1"/>
<g transform="translate(101.5,109.2) scale(1.0000,0.9944)"><g clip-path="url(#mclip)"><rect width="110.5" height="72.0" fill="#FFF5AA"/><path fill="#FFE888" fill-rule="evenodd" d="M0.0,0.0 110.5,0.0 110.5,72.0 0.0,72.0Z"/><path fill="#FFBF3C" fill-rule="evenodd" d="M0.0,0.0 6.1,0.0 6.1,23.0 7.0,28.5 8.0,32.0 8.9,33.0 10.0,33.3 12.5,33.5 18.5,33.6 32.8,32.0 34.0,31.7 34.5,31.2 35.3,23.0 35.3,0.0 110.5,0.0 110.5,72.0 0.0,72.0ZM40.0,34.4 39.5,35.0 39.5,35.5 40.0,36.5 41.0,37.7 41.5,37.9 42.0,37.8 42.5,37.4 43.0,36.5 43.1,35.5 42.8,35.0 41.5,34.3 40.5,34.2ZM80.0,36.6 79.5,37.2 79.3,38.0 79.5,38.8 80.0,39.5 80.5,39.5 80.9,38.0 80.5,36.8Z"/><path fill="#FFA418" fill-rule="evenodd" d="M0.0,0.0 3.6,0.0 3.6,22.0 4.0,27.0 4.9,33.5 6.0,35.7 7.5,37.5 9.5,38.6 11.0,39.1 12.0,39.2 21.0,37.5 27.5,36.0 30.0,35.9 34.0,36.6 36.0,37.2 37.5,38.1 39.7,40.0 41.0,40.8 48.5,42.0 50.0,41.8 51.5,41.4 52.5,40.8 53.2,40.0 53.3,39.5 53.0,38.5 51.3,36.0 50.1,35.0 46.0,32.9 42.7,32.0 38.0,31.3 37.0,30.7 36.2,29.5 36.0,28.0 36.2,0.0 110.5,0.0 110.5,21.8 108.0,21.7 106.9,21.0 106.4,20.0 106.2,16.5 106.0,16.0 105.5,15.6 104.5,15.4 100.5,15.9 100.0,16.5 99.8,18.5 99.9,22.0 100.2,23.0 101.0,23.5 102.5,23.8 103.4,24.5 104.2,26.0 105.4,27.5 106.0,29.0 106.5,29.5 107.5,29.8 110.5,30.2 110.5,68.6 87.0,68.6 72.5,68.2 67.5,67.8 61.5,66.4 53.0,66.4 50.5,66.6 48.2,67.0 46.3,68.0 45.5,68.7 44.5,69.0 44.5,72.0 0.0,72.0ZM80.0,33.5 78.7,34.0 76.5,36.0 75.8,37.0 75.7,38.0 76.3,39.0 79.0,41.5 79.9,42.0 80.5,42.1 81.5,41.6 82.4,40.5 82.9,39.5 83.1,38.0 82.8,36.0 82.0,34.5 81.0,33.6ZM96.0,34.5 95.6,35.0 95.9,35.5 98.0,36.4 99.5,36.4 100.4,36.0 100.7,35.5 100.4,35.0 99.0,34.5 97.5,34.4Z"/><path fill="#FF6E0A" fill-rule="evenodd" d="M0.0,0.0 1.2,0.0 1.2,23.0 1.7,34.0 2.2,36.5 3.1,39.0 4.0,40.5 5.5,41.8 7.0,42.5 8.5,42.5 12.5,41.9 19.5,40.1 28.0,38.9 29.5,38.9 34.0,39.3 36.0,39.9 40.5,42.7 44.2,44.5 47.0,46.6 48.0,47.0 52.5,46.0 58.0,45.1 69.0,42.8 70.5,42.7 77.0,43.2 80.5,44.1 83.5,43.9 88.0,44.5 100.5,44.9 110.5,45.5 110.5,67.9 87.0,67.9 71.0,67.4 68.5,67.1 63.5,65.9 61.0,65.6 0.0,65.5ZM37.0,0.0 99.5,0.0 99.4,13.0 98.6,15.5 98.4,16.5 98.5,22.0 98.7,23.0 99.4,24.0 101.8,25.0 102.5,25.5 103.7,28.0 103.7,29.0 103.4,30.0 102.7,31.0 101.5,31.9 100.5,32.3 99.0,32.5 97.5,32.3 94.0,31.5 92.0,31.2 80.5,30.9 70.0,32.2 58.0,32.1 53.5,31.6 47.5,30.3 41.0,30.2 39.0,30.0 38.0,29.7 37.3,29.0 37.0,27.5ZM106.3,0.0 110.5,0.0 110.5,21.0 108.5,20.9 107.8,20.5 107.5,20.0 107.3,16.5 106.5,14.0 106.4,13.0Z"/><path fill="#FF4608" fill-rule="evenodd" d="M38.6,0.0 96.0,0.0 96.0,19.5 96.3,23.0 96.5,23.6 97.0,24.1 100.5,25.8 101.4,26.5 102.0,28.0 101.7,29.5 101.0,30.4 100.1,31.0 99.0,31.2 98.0,31.2 96.4,30.5 93.5,28.2 91.5,27.8 89.0,27.7 78.5,28.6 70.0,30.1 59.0,30.1 57.0,29.8 53.5,28.7 47.5,25.6 46.5,25.6 45.0,25.9 41.5,27.2 40.5,27.1 40.0,26.6 39.5,25.6 39.0,24.0 38.7,21.5ZM107.9,0.0 110.5,0.0 110.5,19.9 109.0,19.7 108.6,19.0 108.5,16.0 107.9,13.5ZM20.3,42.5 21.1,42.5 22.0,42.8 23.3,45.0 24.5,45.9 26.0,46.5 27.5,46.7 29.5,46.6 31.3,46.0 32.7,45.0 34.0,42.9 34.5,42.7 35.5,42.9 37.0,43.5 44.0,48.5 46.0,49.4 47.5,49.7 49.5,49.5 54.0,48.0 62.0,46.3 70.0,45.4 77.2,46.0 80.5,46.7 86.5,47.3 99.0,47.9 110.5,48.8 110.5,67.2 87.0,67.2 71.0,66.7 69.3,66.5 64.5,65.2 61.0,64.8 0.0,64.7 0.0,46.8 8.0,45.8 12.5,44.2 17.0,43.4Z"/><path fill="#E61C08" fill-rule="evenodd" d="M53.8,0.0 92.6,0.0 92.7,16.0 92.5,20.0 92.2,21.5 91.5,22.1 87.0,22.6 85.0,23.0 82.5,23.7 78.3,25.5 70.0,27.2 62.0,26.9 59.0,26.6 58.0,26.2 54.0,23.8 53.0,22.8 51.5,19.5 50.1,14.5 50.1,12.0 50.6,8.0 51.3,6.5 53.0,4.5 53.6,3.5ZM97.1,27.0 97.5,26.7 98.5,26.6 99.8,27.0 100.5,28.0 100.3,29.0 100.0,29.5 99.0,29.9 98.5,29.9 97.5,29.5 97.0,29.0 96.7,28.0ZM16.7,51.5 28.5,51.3 39.5,51.4 47.0,52.1 55.0,52.4 62.0,53.4 70.0,52.5 78.5,54.0 88.0,53.6 110.5,54.5 110.5,65.7 87.5,65.7 71.5,65.3 70.0,65.0 68.0,64.2 66.5,63.9 61.0,63.3 54.0,63.4 47.5,63.7 29.0,63.8 0.0,63.6 0.0,51.9Z"/><path fill="#C80C0C" fill-rule="evenodd" d="M64.5,6.5 69.0,6.1 70.5,6.1 80.0,8.7 81.9,10.0 84.4,12.5 85.3,14.0 85.2,15.0 84.9,15.5 83.4,16.5 79.9,18.0 77.5,18.6 71.0,19.4 69.0,19.5 62.0,19.0 59.0,18.6 57.5,18.0 55.4,16.0 54.7,15.0 54.4,14.0 54.6,12.5 55.8,10.0 57.0,8.4 58.3,7.5 60.5,7.0ZM27.5,57.5 28.5,57.3 29.4,57.5 30.1,58.0 30.0,58.5 29.0,59.0 27.5,58.8 26.9,58.5 26.7,58.0Z"/><path fill="#A80000" fill-rule="evenodd" d="M64.3,12.5 66.5,12.3 69.0,12.4 70.5,12.9 71.0,13.5 70.7,14.0 69.5,14.5 67.0,14.7 64.0,14.4 62.7,14.0 62.3,13.5 62.7,13.0Z"/><use href="#land" fill="#fff" stroke="#000" stroke-width="1.15" stroke-linejoin="round"/><use href="#water" fill="#FFE888" stroke="#000" stroke-width="0.75"/><use href="#watern" fill="#fff" stroke="#000" stroke-width="0.75"/></g></g>
<rect x="101.5" y="109.2" width="110.5" height="71.6" fill="none" stroke="#111" stroke-width="1.1"/>
<g transform="translate(212.0,109.2) scale(0.9919,0.9944)"><g clip-path="url(#mclip)"><rect width="110.5" height="72.0" fill="#FFF5AA"/><path fill="#FFE888" fill-rule="evenodd" d="M0.0,0.0 110.5,0.0 110.5,72.0 0.0,72.0Z"/><path fill="#FFBF3C" fill-rule="evenodd" d="M32.6,0.0 110.5,0.0 110.5,22.0 108.0,21.9 107.0,21.3 106.5,20.0 106.3,16.5 106.0,16.1 105.5,15.8 102.0,15.9 101.0,16.0 100.5,16.2 100.0,17.5 100.0,20.5 100.1,22.5 100.5,23.3 101.0,23.5 103.0,23.9 103.5,24.2 104.5,25.7 105.8,27.0 106.8,28.5 107.5,28.7 110.5,28.8 110.5,72.0 0.0,72.0 0.0,39.0 1.4,38.5 2.3,38.0 3.3,37.0 5.0,34.5 6.5,33.2 7.5,32.7 19.5,31.5 27.2,30.5 29.0,30.1 29.8,29.5 31.8,25.5 32.6,22.5ZM38.0,31.5 37.6,32.0 37.6,32.5 38.5,33.8 39.5,34.5 42.5,35.2 44.0,35.8 45.0,37.0 46.0,39.0 47.5,40.4 48.5,40.6 49.5,40.5 51.9,39.5 52.4,39.0 52.4,38.0 50.6,34.5 49.1,32.5 48.0,31.6 46.5,31.2 41.0,31.0 39.0,31.1ZM80.0,37.4 80.0,38.2 80.5,38.1 80.5,37.4Z"/><path fill="#FFA418" fill-rule="evenodd" d="M39.1,0.0 110.5,0.0 110.5,21.2 108.5,21.2 108.0,21.0 107.5,20.5 107.3,19.5 107.1,16.0 106.5,15.2 106.0,14.8 105.0,14.5 101.5,14.9 100.5,15.1 99.9,15.5 99.3,16.5 99.2,20.5 99.3,22.5 99.5,23.6 100.0,24.2 100.5,24.4 102.6,25.0 103.1,25.5 103.5,26.5 104.9,28.0 105.8,29.5 107.0,30.0 110.5,30.2 110.5,72.0 0.0,72.0 0.0,40.7 2.0,40.3 4.4,39.5 9.0,37.1 15.0,35.4 20.0,34.4 27.5,33.5 31.5,34.0 35.0,34.6 36.5,35.2 39.5,38.0 44.5,41.3 47.0,43.3 48.0,43.7 51.5,42.3 55.0,41.3 59.5,40.4 72.5,39.6 76.5,39.1 77.5,39.3 79.5,40.9 80.5,41.1 81.0,40.9 81.8,40.0 82.6,37.5 82.7,35.5 82.2,34.0 81.5,33.1 81.0,32.8 80.0,32.6 78.0,33.1 77.0,33.2 69.0,31.8 59.5,29.6 53.5,28.7 52.0,28.0 50.6,27.0 48.0,23.8 47.0,23.0 41.9,22.0 40.5,21.5 40.0,21.1 39.5,19.9 39.1,15.5Z"/><path fill="#FF6E0A" fill-rule="evenodd" d="M45.0,0.0 100.9,0.0 100.9,13.0 100.7,13.5 99.0,15.1 98.6,16.0 98.5,17.0 98.6,23.5 99.0,24.7 100.0,26.0 99.9,27.0 99.0,28.3 98.0,29.2 96.5,29.9 95.0,30.4 83.5,30.4 70.0,29.3 60.5,27.2 54.0,26.1 53.0,25.7 52.0,24.9 51.0,23.7 48.5,18.3 47.5,16.9 45.6,15.0 45.1,14.0ZM106.8,0.0 110.5,0.0 110.5,20.5 109.0,20.4 108.3,20.0 108.1,19.0 107.9,16.0 106.9,13.5ZM24.6,36.0 28.5,35.8 32.1,36.5 36.0,37.6 37.0,38.2 39.0,40.2 42.3,42.5 45.9,46.0 47.5,46.8 48.5,46.6 50.5,44.8 52.0,43.9 57.7,42.0 59.5,41.6 69.5,41.2 75.5,41.3 77.5,41.5 79.5,42.3 80.5,42.5 81.5,42.2 82.7,41.5 85.2,38.5 86.0,37.9 87.0,37.7 94.5,37.1 102.0,37.1 104.0,37.3 107.0,38.2 110.5,39.6 110.5,67.4 70.0,67.4 66.5,67.1 59.5,66.0 53.0,65.9 48.9,66.5 46.8,67.5 45.0,68.9 44.5,69.0 44.5,72.0 0.0,72.0 0.0,42.4 3.0,42.0 6.0,41.4 11.5,39.0 18.0,37.0 20.5,36.5Z"/><path fill="#FF4608" fill-rule="evenodd" d="M51.6,0.0 96.8,0.0 96.7,21.5 96.6,23.0 96.0,24.5 95.0,25.7 93.5,26.3 86.5,26.8 81.5,27.3 70.0,26.3 65.0,25.1 58.3,24.0 54.5,23.1 53.5,22.7 52.5,21.7 51.7,20.0 49.9,15.0 49.6,13.5 50.0,8.0 51.5,3.5ZM26.5,38.5 28.1,38.5 31.0,39.2 35.5,40.0 39.0,43.0 41.5,46.2 42.9,47.5 44.8,48.5 47.5,49.1 48.5,49.0 49.6,48.5 53.0,45.4 57.0,44.4 59.5,43.4 61.0,43.1 70.5,42.8 77.0,43.4 80.5,44.3 84.0,43.2 87.0,41.7 95.0,40.7 102.5,41.7 107.0,43.3 110.5,44.1 110.5,66.6 70.5,66.6 67.5,66.3 61.0,65.3 58.5,65.1 46.5,65.3 0.0,65.3 0.0,44.4 5.5,44.3 7.5,44.1 9.0,43.6 12.0,41.9 16.5,40.8 20.0,39.3 21.3,39.0Z"/><path fill="#E61C08" fill-rule="evenodd" d="M81.8,0.0 89.3,0.0 89.2,14.0 88.6,16.0 87.5,18.5 86.9,19.5 86.0,20.2 85.0,20.5 82.5,20.7 70.5,20.7 60.5,19.8 59.0,19.4 56.4,18.0 55.0,16.9 54.0,15.7 53.5,14.7 53.2,13.5 53.3,12.0 54.2,10.5 56.1,9.0 58.0,8.0 60.0,7.3 68.5,6.0 80.5,5.4 81.2,5.0 81.6,4.0ZM21.6,49.0 28.0,48.8 36.0,48.9 41.5,50.2 47.5,50.8 50.5,50.4 53.0,49.2 54.0,49.0 60.5,49.9 70.0,49.4 88.0,49.4 102.0,50.1 110.5,51.0 110.5,65.8 70.5,65.8 62.5,64.6 58.5,64.3 47.0,64.5 0.0,64.5 0.0,49.9 9.0,49.8Z"/><path fill="#C80C0C" fill-rule="evenodd" d="M40.9,54.5 48.0,54.1 53.5,55.8 59.5,56.8 70.0,56.1 81.0,56.4 86.5,56.7 102.0,57.9 110.5,58.3 110.5,64.1 102.5,64.4 71.5,64.5 70.0,64.4 65.5,63.6 59.0,63.1 53.0,63.1 46.5,63.3 0.0,63.2 0.0,56.6 7.5,56.5 20.5,55.1 35.5,55.0Z"/><use href="#land" fill="#fff" stroke="#000" stroke-width="1.15" stroke-linejoin="round"/><use href="#water" fill="#FFE888" stroke="#000" stroke-width="0.75"/><use href="#watern" fill="#fff" stroke="#000" stroke-width="0.75"/></g></g>
<rect x="212.0" y="109.2" width="109.6" height="71.6" fill="none" stroke="#111" stroke-width="1.1"/>
<g transform="translate(321.6,109.2) scale(0.9955,0.9944)"><g clip-path="url(#mclip)"><rect width="110.5" height="72.0" fill="#FFF5AA"/><path fill="#FFE888" fill-rule="evenodd" d="M0.0,0.0 110.5,0.0 110.5,72.0 0.0,72.0Z"/><path fill="#FFBF3C" fill-rule="evenodd" d="M0.6,0.0 107.0,0.0 107.0,13.0 106.8,14.5 106.5,15.0 105.5,15.5 101.0,15.6 99.9,16.0 99.6,17.0 99.5,22.0 99.7,23.0 100.0,23.6 101.0,24.0 102.5,24.1 103.5,24.5 104.4,26.0 105.6,27.0 106.5,28.5 107.5,28.9 110.5,28.9 110.5,72.0 0.0,72.0 0.0,38.4 0.5,37.5 0.6,36.0ZM53.5,24.8 48.2,28.0 46.5,30.9 45.5,31.8 43.6,33.0 43.4,33.5 44.6,35.5 46.1,39.0 47.0,40.4 48.0,41.2 49.0,41.0 51.0,40.0 53.0,39.3 63.5,37.0 65.3,36.0 66.3,35.0 67.0,34.0 67.1,33.0 65.9,27.5 65.4,26.5 65.0,26.0 63.5,25.2 61.5,24.7 55.0,24.6Z"/><path fill="#FFA418" fill-rule="evenodd" d="M1.8,0.0 103.0,0.0 103.0,11.5 98.5,11.5 98.0,11.9 97.5,12.7 96.7,15.0 96.3,19.5 95.9,21.0 95.0,21.3 93.5,21.5 84.5,21.5 78.1,20.5 69.0,19.8 66.0,19.2 61.0,17.7 54.5,17.7 54.0,17.9 53.5,18.6 52.1,22.5 51.5,23.5 50.4,24.5 48.6,25.5 45.0,26.5 44.0,27.3 42.8,29.0 42.3,29.5 41.0,30.1 38.5,30.5 37.5,30.9 36.7,31.5 36.5,32.5 37.1,33.5 40.0,35.7 41.8,38.0 44.5,40.5 47.0,44.2 47.5,44.6 48.0,44.7 48.5,44.5 51.0,42.4 53.0,41.3 56.0,40.3 60.5,39.3 70.5,37.4 76.0,37.0 77.5,37.1 79.0,38.0 80.0,38.3 80.5,38.1 81.1,37.5 82.4,34.5 83.0,33.6 84.0,32.9 85.5,32.3 95.0,31.3 100.1,30.0 103.5,28.9 106.0,30.3 110.5,30.4 110.5,72.0 0.0,72.0 0.0,40.1 0.9,39.5 1.5,38.5 1.8,36.5Z"/><path fill="#FF6E0A" fill-rule="evenodd" d="M3.0,0.0 7.9,0.0 7.9,11.0 8.1,15.0 8.8,18.0 9.3,19.0 10.0,19.9 10.5,20.2 11.5,20.4 14.5,19.9 19.0,20.1 21.0,20.5 24.0,21.5 24.5,21.5 25.0,21.2 25.5,20.5 26.1,19.0 26.5,17.0 26.8,12.5 26.8,0.0 90.0,0.0 90.0,13.0 89.4,14.5 87.5,16.0 86.0,16.7 84.5,17.0 70.5,16.6 61.5,14.7 55.0,14.0 54.0,14.1 52.5,15.1 51.3,16.5 50.9,17.5 50.0,21.5 49.1,23.0 48.0,23.8 47.0,24.0 46.0,24.0 43.0,23.5 41.3,22.5 39.0,20.4 38.5,20.3 37.0,21.1 35.5,22.7 34.7,25.0 32.4,30.0 32.3,31.5 32.9,32.5 34.0,33.5 36.5,35.5 38.5,36.6 39.5,37.4 40.9,39.5 43.0,41.5 45.4,45.5 46.5,46.3 47.5,46.6 48.5,46.6 49.5,46.1 51.5,44.0 53.0,43.1 58.5,41.2 61.5,40.5 70.5,39.1 76.0,39.5 79.5,40.2 80.5,40.1 81.5,39.4 83.0,37.3 83.8,36.5 85.0,35.9 86.0,35.6 95.0,34.9 102.5,35.1 104.5,35.4 110.5,37.1 110.5,65.7 70.5,65.7 66.5,65.3 62.5,64.2 60.5,64.0 0.0,63.9 0.0,41.7 1.0,41.2 2.0,40.3 2.7,39.0 2.9,37.5 2.8,26.5Z"/><path fill="#FF4608" fill-rule="evenodd" d="M46.4,0.0 49.2,0.0 49.2,4.5 49.5,8.5 49.2,13.0 49.0,14.5 48.5,15.8 48.0,16.8 47.5,17.3 47.0,16.6 46.4,14.0ZM81.4,3.5 81.5,3.2 82.5,4.1 83.5,5.7 84.0,7.1 84.3,9.0 84.4,11.0 84.1,12.5 83.7,13.0 81.6,13.5 79.0,13.7 71.0,13.9 70.0,13.7 69.0,13.2 67.5,11.5 67.1,10.5 67.1,9.5 67.6,8.5 69.0,7.3 70.5,6.8 75.5,6.4 77.6,6.0 79.6,5.0ZM28.9,23.0 29.5,23.1 30.0,23.8 30.4,25.0 30.5,26.0 30.4,27.0 30.0,28.4 29.5,29.1 29.0,29.4 28.5,29.3 27.9,28.5 27.5,27.5 27.3,26.5 27.5,25.2 28.0,24.0 28.5,23.2ZM14.7,23.5 16.0,23.4 18.0,23.7 19.5,24.5 20.2,25.5 20.5,26.5 20.3,28.0 19.7,29.0 18.5,30.0 17.0,30.6 15.5,30.6 14.5,30.3 13.5,29.7 12.3,28.5 11.7,27.0 12.0,25.5 13.0,24.3ZM5.0,25.0 5.0,24.9 5.3,25.5 5.5,26.5 5.4,27.5 5.0,28.6 4.7,27.0ZM26.6,35.0 29.0,34.7 32.0,35.3 33.0,35.8 35.0,37.4 38.0,38.5 41.0,42.2 43.2,46.0 45.0,47.2 47.5,47.9 49.0,47.7 50.5,47.1 51.4,46.5 53.0,44.9 53.8,44.5 58.5,43.7 62.5,42.2 70.0,41.0 79.5,42.2 80.5,42.2 81.5,41.8 85.5,39.4 94.5,37.6 96.0,37.6 102.5,37.9 107.5,39.2 110.5,39.6 110.5,65.1 70.5,65.1 68.0,64.7 63.0,63.6 60.5,63.4 0.0,63.3 0.0,43.3 1.5,42.9 3.0,42.0 5.5,38.9 11.0,38.7 12.5,38.1 15.5,36.3 18.0,35.6Z"/><path fill="#E61C08" fill-rule="evenodd" d="M26.2,44.5 32.5,44.2 37.5,45.1 39.0,45.6 41.6,47.5 43.0,48.2 45.5,48.9 48.0,49.2 51.0,48.9 53.5,47.8 54.5,47.6 56.5,48.0 60.5,49.3 62.0,49.5 70.5,47.5 85.5,46.5 102.5,46.9 110.5,47.7 110.5,64.5 71.0,64.5 69.0,64.2 64.5,63.1 60.5,62.8 0.0,62.8 0.0,46.4 8.9,46.0 17.5,45.1Z"/><path fill="#C80C0C" fill-rule="evenodd" d="M21.8,50.0 25.5,49.8 31.5,49.8 38.5,50.2 48.1,52.0 49.5,52.5 53.5,54.6 61.5,56.3 63.5,56.1 70.0,55.2 78.0,54.8 85.0,54.1 110.5,56.4 110.5,63.4 71.5,63.5 70.0,63.3 66.0,62.3 60.5,61.8 28.0,62.1 0.0,62.0 0.0,50.7Z"/><path fill="#A80000" fill-rule="evenodd" d="M5.0,54.5 17.5,54.5 24.5,55.3 28.5,55.4 29.5,55.9 29.7,56.5 29.5,57.3 29.0,58.0 27.5,58.5 5.0,58.6 4.0,58.4 3.3,58.0 2.4,57.0 2.3,56.5 2.5,56.0 3.5,55.0Z"/><path fill="#fff" d="M0.0,73.0 0.0,63.6 20.0,63.4 45.0,63.3 57.0,63.4 62.0,64.3 66.0,65.2 110.5,65.2 110.5,73.0Z"/><use href="#land" fill="#fff" stroke="#000" stroke-width="1.15" stroke-linejoin="round"/><use href="#water" fill="#FFE888" stroke="#000" stroke-width="0.75"/><use href="#watern" fill="#FFE888" stroke="#000" stroke-width="0.75"/></g></g>
<rect x="321.6" y="109.2" width="110.0" height="71.6" fill="none" stroke="#111" stroke-width="1.1"/>
<g transform="translate(431.6,109.2) scale(0.9991,0.9944)"><g clip-path="url(#mclip)"><rect width="110.5" height="72.0" fill="#FFF5AA"/><path fill="#FFE888" fill-rule="evenodd" d="M0.0,0.0 110.5,0.0 110.5,72.0 0.0,72.0Z"/><path fill="#FFBF3C" fill-rule="evenodd" d="M22.6,0.0 110.5,0.0 110.5,22.2 108.5,22.1 107.5,21.8 107.0,21.5 106.7,21.0 106.4,20.0 106.2,16.5 105.8,16.0 105.0,15.7 101.5,15.9 100.5,16.2 100.1,17.0 100.0,20.5 100.1,22.5 100.5,23.4 102.5,23.8 103.5,24.2 104.5,25.9 105.7,27.0 106.7,28.5 107.5,28.8 110.5,28.8 110.5,72.0 0.0,72.0 0.0,38.9 3.6,38.0 9.0,35.8 10.0,35.3 13.0,33.2 16.5,31.5 18.1,30.0 21.7,24.5 22.4,23.0 22.6,21.5ZM48.0,30.9 44.9,33.0 44.7,33.5 45.7,35.5 46.6,39.0 47.2,40.0 48.0,40.6 49.0,40.7 53.0,39.6 58.5,38.7 60.1,38.0 60.8,37.5 61.1,37.0 60.9,36.0 59.8,33.5 59.0,32.1 58.2,31.5 57.0,31.2 53.5,31.1 49.5,30.7Z"/><path fill="#FFA418" fill-rule="evenodd" d="M27.7,0.0 110.5,0.0 110.5,21.4 108.5,21.3 107.5,20.8 107.2,20.0 106.9,16.0 106.0,14.8 105.0,14.3 104.5,14.3 101.0,14.9 99.8,15.5 99.4,16.0 99.2,17.0 99.2,21.0 99.3,23.0 99.7,24.0 100.5,24.5 102.5,25.1 103.5,26.9 104.6,28.0 105.5,29.5 106.0,29.9 107.0,30.2 110.5,30.3 110.5,72.0 0.0,72.0 0.0,40.5 9.5,38.4 17.0,35.2 24.6,33.5 25.7,33.0 26.6,32.0 27.1,31.0 27.4,30.0 27.7,24.5ZM52.0,28.0 46.0,28.5 40.5,30.2 35.5,30.5 34.5,30.9 34.3,31.5 34.9,33.0 35.8,34.0 37.0,34.8 40.0,36.2 41.0,36.9 45.5,41.5 47.0,43.3 48.0,44.0 49.0,43.8 52.5,42.3 56.0,41.4 76.0,38.4 77.5,38.5 79.5,39.8 80.5,39.9 81.1,39.5 81.8,38.5 83.7,34.5 83.7,33.0 83.3,32.0 82.9,31.5 81.5,30.5 80.0,30.0 69.5,28.2 57.5,27.8Z"/><path fill="#FF6E0A" fill-rule="evenodd" d="M39.4,0.0 100.5,0.0 100.5,12.5 100.2,13.5 98.9,15.0 98.5,16.5 98.4,23.0 98.8,25.5 98.6,26.0 98.0,26.5 96.5,27.3 94.5,27.8 88.0,27.2 76.5,25.8 70.0,25.3 54.5,25.3 53.0,25.6 49.9,26.5 48.0,26.8 45.5,26.6 43.5,26.1 42.1,25.0 39.6,21.0 39.4,20.5ZM106.5,0.0 110.5,0.0 110.5,20.8 108.5,20.7 107.8,20.0 107.6,16.0 106.6,13.5ZM25.3,35.5 29.5,35.2 32.5,35.3 38.0,37.4 39.0,38.0 43.0,41.8 46.2,46.0 47.0,46.5 48.0,46.8 49.0,46.5 52.5,44.4 55.0,43.6 58.0,43.1 62.0,42.7 71.0,41.4 77.0,40.9 78.0,41.0 79.5,41.5 80.5,41.5 81.5,41.0 83.0,39.8 84.0,39.3 87.0,38.5 91.0,37.8 95.5,37.4 102.5,37.5 104.5,37.8 107.0,38.6 110.5,40.4 110.5,72.0 0.0,72.0 0.0,42.0 2.5,41.6 10.0,40.0 12.0,39.4 17.0,37.4 22.4,36.0Z"/><path fill="#FF4608" fill-rule="evenodd" d="M44.9,0.0 96.2,0.0 96.2,21.0 95.9,23.0 95.0,23.9 94.0,24.1 86.5,23.3 77.5,22.8 70.0,22.6 54.5,22.6 52.5,23.0 49.0,24.8 48.0,25.0 47.0,24.7 46.0,24.0 45.4,23.0 44.9,21.5 44.6,19.5 44.9,12.5ZM107.9,0.0 110.5,0.0 110.5,19.8 109.0,19.5 108.8,19.0 108.6,16.0 108.0,13.9ZM24.3,38.0 26.5,37.7 32.0,37.9 37.0,39.5 37.8,40.0 41.0,43.0 42.9,46.0 43.9,47.0 46.0,48.0 48.0,48.4 49.0,48.2 50.5,47.8 53.0,46.3 54.5,45.8 62.5,45.1 71.0,43.6 77.0,43.3 80.5,43.7 83.2,42.5 86.5,41.5 94.5,40.2 96.5,40.1 103.0,40.8 106.5,42.5 110.5,43.4 110.5,64.5 86.0,64.5 47.5,63.9 33.5,63.9 24.0,63.1 0.0,63.1 0.0,43.7 4.5,43.3 7.5,42.8 14.0,41.1 17.5,39.6 22.0,38.7Z"/><path fill="#E61C08" fill-rule="evenodd" d="M57.0,0.0 89.2,0.0 89.2,12.5 89.0,14.0 88.7,15.0 88.0,16.2 87.3,17.0 86.5,17.5 85.5,17.6 77.5,17.5 59.0,18.4 55.0,18.0 52.0,17.5 51.0,17.2 50.5,16.8 50.1,16.0 49.7,12.5 49.8,10.0 50.4,7.5 51.0,6.4 52.0,5.2 55.7,2.0 56.0,1.6 56.3,1.5 56.5,1.1 57.0,1.0ZM28.9,47.0 33.0,46.8 36.0,47.2 39.0,47.9 43.5,49.4 48.0,50.0 54.0,49.5 62.0,50.5 70.5,49.5 87.5,48.6 102.5,49.4 110.5,50.6 110.5,63.6 86.5,63.6 61.5,63.2 34.0,63.1 24.5,62.2 0.0,62.2 0.0,49.0 9.5,48.7 17.0,47.8Z"/><path fill="#C80C0C" fill-rule="evenodd" d="M67.1,9.5 70.0,9.4 71.2,10.0 71.4,10.5 71.2,11.0 70.5,11.5 69.0,11.9 61.5,12.1 60.3,12.0 59.3,11.5 59.5,11.0 60.5,10.5ZM16.5,53.5 18.5,53.3 47.0,53.2 48.5,53.5 52.5,56.2 53.5,56.7 54.5,56.8 63.0,57.1 78.5,58.1 95.0,58.4 110.5,59.4 110.5,62.1 78.5,62.1 61.5,61.8 34.0,61.6 24.5,60.7 0.0,60.7 0.0,56.5 8.5,56.5 10.0,56.4Z"/><path fill="#fff" d="M0.0,73.0 0.0,63.8 25.0,63.8 33.0,64.4 110.5,65.0 110.5,73.0Z"/><use href="#land" fill="#fff" stroke="#000" stroke-width="1.15" stroke-linejoin="round"/><use href="#water" fill="#FFE888" stroke="#000" stroke-width="0.75"/><use href="#watern" fill="#FF4608" stroke="#000" stroke-width="0.75"/></g></g>
<rect x="431.6" y="109.2" width="110.4" height="71.6" fill="none" stroke="#111" stroke-width="1.1"/>
<polygon points="544.5,162.1 552.5,162.1 548.5,178" fill="#FFF5AA"/>
<rect x="544.5" y="146.3" width="8.0" height="15.799999999999983" fill="#FFE178"/>
<rect x="544.5" y="130.4" width="8.0" height="15.900000000000006" fill="#FFBE3C"/>
<rect x="544.5" y="114.6" width="8.0" height="15.800000000000011" fill="#FFA000"/>
<rect x="544.5" y="98.7" width="8.0" height="15.899999999999991" fill="#FF6E0A"/>
<rect x="544.5" y="82.9" width="8.0" height="15.799999999999997" fill="#FF4600"/>
<rect x="544.5" y="67" width="8.0" height="15.900000000000006" fill="#E61400"/>
<rect x="544.5" y="51.2" width="8.0" height="15.799999999999997" fill="#C80000"/>
<polygon points="544.5,51.2 552.5,51.2 548.5,34" fill="#AA0000"/>
<line x1="544.5" x2="552.5" y1="162.1" y2="162.1" stroke="#5a2a10" stroke-width="0.7"/>
<line x1="544.5" x2="552.5" y1="146.3" y2="146.3" stroke="#5a2a10" stroke-width="0.7"/>
<line x1="544.5" x2="552.5" y1="130.4" y2="130.4" stroke="#5a2a10" stroke-width="0.7"/>
<line x1="544.5" x2="552.5" y1="114.6" y2="114.6" stroke="#5a2a10" stroke-width="0.7"/>
<line x1="544.5" x2="552.5" y1="98.7" y2="98.7" stroke="#5a2a10" stroke-width="0.7"/>
<line x1="544.5" x2="552.5" y1="82.9" y2="82.9" stroke="#5a2a10" stroke-width="0.7"/>
<line x1="544.5" x2="552.5" y1="67" y2="67" stroke="#5a2a10" stroke-width="0.7"/>
<line x1="544.5" x2="552.5" y1="51.2" y2="51.2" stroke="#5a2a10" stroke-width="0.7"/>
<polygon points="544.5,162.1 548.5,178 552.5,162.1 552.5,51.2 548.5,34 544.5,51.2" fill="none" stroke="#5a2a10" stroke-width="0.7"/>
















<clipPath id="clipDJF"><rect x="33.75" y="240.3" width="295.45" height="109.5"/></clipPath>
<g clip-path="url(#clipDJF)"><polyline fill="none" stroke="#1a1a1a" stroke-width="1.25" points="33.8,318.2 41.3,319.8 48.9,318.2 56.5,315.0 64.1,321.6 71.6,323.9 79.2,315.4 86.8,311.3 94.4,315.0 101.9,320.7 109.5,311.3 117.1,317.9 124.7,303.7 132.2,310.3 139.8,300.9 147.4,301.3 155.0,306.2 162.5,306.0 170.1,293.0 177.7,302.4 185.3,306.6 192.8,305.6 200.4,305.6 208.0,301.3 215.6,312.8 223.1,313.1 230.7,312.2 238.3,311.3 245.9,310.3 253.4,315.0 261.0,306.6 268.6,311.3 276.2,313.1 283.7,306.6 291.3,311.3 298.9,305.6 306.5,299.9 314.0,313.1 321.6,312.2 329.2,305.6"/><circle cx="33.8" cy="318.2" r="1.8" fill="#fff" stroke="#1a1a1a" stroke-width="1.0"/><circle cx="41.3" cy="319.8" r="1.8" fill="#fff" stroke="#1a1a1a" stroke-width="1.0"/><circle cx="48.9" cy="318.2" r="1.8" fill="#fff" stroke="#1a1a1a" stroke-width="1.0"/><circle cx="56.5" cy="315.0" r="1.8" fill="#fff" stroke="#1a1a1a" stroke-width="1.0"/><circle cx="64.1" cy="321.6" r="1.8" fill="#fff" stroke="#1a1a1a" stroke-width="1.0"/><circle cx="71.6" cy="323.9" r="1.8" fill="#fff" stroke="#1a1a1a" stroke-width="1.0"/><circle cx="79.2" cy="315.4" r="1.8" fill="#fff" stroke="#1a1a1a" stroke-width="1.0"/><circle cx="86.8" cy="311.3" r="1.8" fill="#fff" stroke="#1a1a1a" stroke-width="1.0"/><circle cx="94.4" cy="315.0" r="1.8" fill="#fff" stroke="#1a1a1a" stroke-width="1.0"/><circle cx="101.9" cy="320.7" r="1.8" fill="#fff" stroke="#1a1a1a" stroke-width="1.0"/><circle cx="109.5" cy="311.3" r="1.8" fill="#fff" stroke="#1a1a1a" stroke-width="1.0"/><circle cx="117.1" cy="317.9" r="1.8" fill="#fff" stroke="#1a1a1a" stroke-width="1.0"/><circle cx="124.7" cy="303.7" r="1.8" fill="#fff" stroke="#1a1a1a" stroke-width="1.0"/><circle cx="132.2" cy="310.3" r="1.8" fill="#fff" stroke="#1a1a1a" stroke-width="1.0"/><circle cx="139.8" cy="300.9" r="1.8" fill="#fff" stroke="#1a1a1a" stroke-width="1.0"/><circle cx="147.4" cy="301.3" r="1.8" fill="#fff" stroke="#1a1a1a" stroke-width="1.0"/><circle cx="155.0" cy="306.2" r="1.8" fill="#fff" stroke="#1a1a1a" stroke-width="1.0"/><circle cx="162.5" cy="306.0" r="1.8" fill="#fff" stroke="#1a1a1a" stroke-width="1.0"/><circle cx="170.1" cy="293.0" r="1.8" fill="#fff" stroke="#1a1a1a" stroke-width="1.0"/><circle cx="177.7" cy="302.4" r="1.8" fill="#fff" stroke="#1a1a1a" stroke-width="1.0"/><circle cx="185.3" cy="306.6" r="1.8" fill="#fff" stroke="#1a1a1a" stroke-width="1.0"/><circle cx="192.8" cy="305.6" r="1.8" fill="#fff" stroke="#1a1a1a" stroke-width="1.0"/><circle cx="200.4" cy="305.6" r="1.8" fill="#fff" stroke="#1a1a1a" stroke-width="1.0"/><circle cx="208.0" cy="301.3" r="1.8" fill="#fff" stroke="#1a1a1a" stroke-width="1.0"/><circle cx="215.6" cy="312.8" r="1.8" fill="#fff" stroke="#1a1a1a" stroke-width="1.0"/><circle cx="223.1" cy="313.1" r="1.8" fill="#fff" stroke="#1a1a1a" stroke-width="1.0"/><circle cx="230.7" cy="312.2" r="1.8" fill="#fff" stroke="#1a1a1a" stroke-width="1.0"/><circle cx="238.3" cy="311.3" r="1.8" fill="#fff" stroke="#1a1a1a" stroke-width="1.0"/><circle cx="245.9" cy="310.3" r="1.8" fill="#fff" stroke="#1a1a1a" stroke-width="1.0"/><circle cx="253.4" cy="315.0" r="1.8" fill="#fff" stroke="#1a1a1a" stroke-width="1.0"/><circle cx="261.0" cy="306.6" r="1.8" fill="#fff" stroke="#1a1a1a" stroke-width="1.0"/><circle cx="268.6" cy="311.3" r="1.8" fill="#fff" stroke="#1a1a1a" stroke-width="1.0"/><circle cx="276.2" cy="313.1" r="1.8" fill="#fff" stroke="#1a1a1a" stroke-width="1.0"/><circle cx="283.7" cy="306.6" r="1.8" fill="#fff" stroke="#1a1a1a" stroke-width="1.0"/><circle cx="291.3" cy="311.3" r="1.8" fill="#fff" stroke="#1a1a1a" stroke-width="1.0"/><circle cx="298.9" cy="305.6" r="1.8" fill="#fff" stroke="#1a1a1a" stroke-width="1.0"/><circle cx="306.5" cy="299.9" r="1.8" fill="#fff" stroke="#1a1a1a" stroke-width="1.0"/><circle cx="314.0" cy="313.1" r="1.8" fill="#fff" stroke="#1a1a1a" stroke-width="1.0"/><circle cx="321.6" cy="312.2" r="1.8" fill="#fff" stroke="#1a1a1a" stroke-width="1.0"/><circle cx="329.2" cy="305.6" r="1.8" fill="#fff" stroke="#1a1a1a" stroke-width="1.0"/><polyline fill="none" stroke="#FA3C3C" stroke-width="1.25" points="33.8,290.5 41.3,283.6 48.9,284.9 56.5,293.9 64.1,290.3 71.6,301.1 79.2,284.5 86.8,282.2 94.4,283.2 101.9,284.1 109.5,279.0 117.1,282.8 124.7,277.1 132.2,283.2 139.8,261.9 147.4,263.6 155.0,275.1 162.5,273.6 170.1,254.2 177.7,260.7 185.3,263.4 192.8,269.8 200.4,271.3 208.0,268.5 215.6,283.9 223.1,282.1 230.7,284.5 238.3,277.5 245.9,268.5 253.4,282.4 261.0,279.4 268.6,275.3 276.2,271.9 283.7,273.4 291.3,277.7 298.9,261.3 306.5,264.1 314.0,280.2 321.6,269.4 329.2,267.9"/><circle cx="33.8" cy="290.5" r="1.8" fill="#fff" stroke="#FA3C3C" stroke-width="1.0"/><circle cx="41.3" cy="283.6" r="1.8" fill="#fff" stroke="#FA3C3C" stroke-width="1.0"/><circle cx="48.9" cy="284.9" r="1.8" fill="#fff" stroke="#FA3C3C" stroke-width="1.0"/><circle cx="56.5" cy="293.9" r="1.8" fill="#fff" stroke="#FA3C3C" stroke-width="1.0"/><circle cx="64.1" cy="290.3" r="1.8" fill="#fff" stroke="#FA3C3C" stroke-width="1.0"/><circle cx="71.6" cy="301.1" r="1.8" fill="#fff" stroke="#FA3C3C" stroke-width="1.0"/><circle cx="79.2" cy="284.5" r="1.8" fill="#fff" stroke="#FA3C3C" stroke-width="1.0"/><circle cx="86.8" cy="282.2" r="1.8" fill="#fff" stroke="#FA3C3C" stroke-width="1.0"/><circle cx="94.4" cy="283.2" r="1.8" fill="#fff" stroke="#FA3C3C" stroke-width="1.0"/><circle cx="101.9" cy="284.1" r="1.8" fill="#fff" stroke="#FA3C3C" stroke-width="1.0"/><circle cx="109.5" cy="279.0" r="1.8" fill="#fff" stroke="#FA3C3C" stroke-width="1.0"/><circle cx="117.1" cy="282.8" r="1.8" fill="#fff" stroke="#FA3C3C" stroke-width="1.0"/><circle cx="124.7" cy="277.1" r="1.8" fill="#fff" stroke="#FA3C3C" stroke-width="1.0"/><circle cx="132.2" cy="283.2" r="1.8" fill="#fff" stroke="#FA3C3C" stroke-width="1.0"/><circle cx="139.8" cy="261.9" r="1.8" fill="#fff" stroke="#FA3C3C" stroke-width="1.0"/><circle cx="147.4" cy="263.6" r="1.8" fill="#fff" stroke="#FA3C3C" stroke-width="1.0"/><circle cx="155.0" cy="275.1" r="1.8" fill="#fff" stroke="#FA3C3C" stroke-width="1.0"/><circle cx="162.5" cy="273.6" r="1.8" fill="#fff" stroke="#FA3C3C" stroke-width="1.0"/><circle cx="170.1" cy="254.2" r="1.8" fill="#fff" stroke="#FA3C3C" stroke-width="1.0"/><circle cx="177.7" cy="260.7" r="1.8" fill="#fff" stroke="#FA3C3C" stroke-width="1.0"/><circle cx="185.3" cy="263.4" r="1.8" fill="#fff" stroke="#FA3C3C" stroke-width="1.0"/><circle cx="192.8" cy="269.8" r="1.8" fill="#fff" stroke="#FA3C3C" stroke-width="1.0"/><circle cx="200.4" cy="271.3" r="1.8" fill="#fff" stroke="#FA3C3C" stroke-width="1.0"/><circle cx="208.0" cy="268.5" r="1.8" fill="#fff" stroke="#FA3C3C" stroke-width="1.0"/><circle cx="215.6" cy="283.9" r="1.8" fill="#fff" stroke="#FA3C3C" stroke-width="1.0"/><circle cx="223.1" cy="282.1" r="1.8" fill="#fff" stroke="#FA3C3C" stroke-width="1.0"/><circle cx="230.7" cy="284.5" r="1.8" fill="#fff" stroke="#FA3C3C" stroke-width="1.0"/><circle cx="238.3" cy="277.5" r="1.8" fill="#fff" stroke="#FA3C3C" stroke-width="1.0"/><circle cx="245.9" cy="268.5" r="1.8" fill="#fff" stroke="#FA3C3C" stroke-width="1.0"/><circle cx="253.4" cy="282.4" r="1.8" fill="#fff" stroke="#FA3C3C" stroke-width="1.0"/><circle cx="261.0" cy="279.4" r="1.8" fill="#fff" stroke="#FA3C3C" stroke-width="1.0"/><circle cx="268.6" cy="275.3" r="1.8" fill="#fff" stroke="#FA3C3C" stroke-width="1.0"/><circle cx="276.2" cy="271.9" r="1.8" fill="#fff" stroke="#FA3C3C" stroke-width="1.0"/><circle cx="283.7" cy="273.4" r="1.8" fill="#fff" stroke="#FA3C3C" stroke-width="1.0"/><circle cx="291.3" cy="277.7" r="1.8" fill="#fff" stroke="#FA3C3C" stroke-width="1.0"/><circle cx="298.9" cy="261.3" r="1.8" fill="#fff" stroke="#FA3C3C" stroke-width="1.0"/><circle cx="306.5" cy="264.1" r="1.8" fill="#fff" stroke="#FA3C3C" stroke-width="1.0"/><circle cx="314.0" cy="280.2" r="1.8" fill="#fff" stroke="#FA3C3C" stroke-width="1.0"/><circle cx="321.6" cy="269.4" r="1.8" fill="#fff" stroke="#FA3C3C" stroke-width="1.0"/><circle cx="329.2" cy="267.9" r="1.8" fill="#fff" stroke="#FA3C3C" stroke-width="1.0"/><polyline fill="none" stroke="#00DC00" stroke-width="1.25" points="33.8,332.4 41.3,333.5 48.9,337.1 56.5,336.1 64.1,333.9 71.6,340.9 79.2,333.9 86.8,334.3 94.4,332.2 101.9,340.1 109.5,332.8 117.1,336.9 124.7,316.7 132.2,329.9 139.8,316.5 147.4,323.1 155.0,324.5 162.5,323.7 170.1,319.9 177.7,324.8 185.3,315.0 192.8,320.1 200.4,328.2 208.0,323.7 215.6,331.6 223.1,330.5 230.7,327.7 238.3,323.9 245.9,318.6 253.4,329.9 261.0,333.3 268.6,337.6 276.2,318.2 283.7,320.1 291.3,321.8 298.9,316.2 306.5,320.5 314.0,327.9 321.6,323.5 329.2,323.5"/><circle cx="33.8" cy="332.4" r="1.8" fill="#fff" stroke="#00DC00" stroke-width="1.0"/><circle cx="41.3" cy="333.5" r="1.8" fill="#fff" stroke="#00DC00" stroke-width="1.0"/><circle cx="48.9" cy="337.1" r="1.8" fill="#fff" stroke="#00DC00" stroke-width="1.0"/><circle cx="56.5" cy="336.1" r="1.8" fill="#fff" stroke="#00DC00" stroke-width="1.0"/><circle cx="64.1" cy="333.9" r="1.8" fill="#fff" stroke="#00DC00" stroke-width="1.0"/><circle cx="71.6" cy="340.9" r="1.8" fill="#fff" stroke="#00DC00" stroke-width="1.0"/><circle cx="79.2" cy="333.9" r="1.8" fill="#fff" stroke="#00DC00" stroke-width="1.0"/><circle cx="86.8" cy="334.3" r="1.8" fill="#fff" stroke="#00DC00" stroke-width="1.0"/><circle cx="94.4" cy="332.2" r="1.8" fill="#fff" stroke="#00DC00" stroke-width="1.0"/><circle cx="101.9" cy="340.1" r="1.8" fill="#fff" stroke="#00DC00" stroke-width="1.0"/><circle cx="109.5" cy="332.8" r="1.8" fill="#fff" stroke="#00DC00" stroke-width="1.0"/><circle cx="117.1" cy="336.9" r="1.8" fill="#fff" stroke="#00DC00" stroke-width="1.0"/><circle cx="124.7" cy="316.7" r="1.8" fill="#fff" stroke="#00DC00" stroke-width="1.0"/><circle cx="132.2" cy="329.9" r="1.8" fill="#fff" stroke="#00DC00" stroke-width="1.0"/><circle cx="139.8" cy="316.5" r="1.8" fill="#fff" stroke="#00DC00" stroke-width="1.0"/><circle cx="147.4" cy="323.1" r="1.8" fill="#fff" stroke="#00DC00" stroke-width="1.0"/><circle cx="155.0" cy="324.5" r="1.8" fill="#fff" stroke="#00DC00" stroke-width="1.0"/><circle cx="162.5" cy="323.7" r="1.8" fill="#fff" stroke="#00DC00" stroke-width="1.0"/><circle cx="170.1" cy="319.9" r="1.8" fill="#fff" stroke="#00DC00" stroke-width="1.0"/><circle cx="177.7" cy="324.8" r="1.8" fill="#fff" stroke="#00DC00" stroke-width="1.0"/><circle cx="185.3" cy="315.0" r="1.8" fill="#fff" stroke="#00DC00" stroke-width="1.0"/><circle cx="192.8" cy="320.1" r="1.8" fill="#fff" stroke="#00DC00" stroke-width="1.0"/><circle cx="200.4" cy="328.2" r="1.8" fill="#fff" stroke="#00DC00" stroke-width="1.0"/><circle cx="208.0" cy="323.7" r="1.8" fill="#fff" stroke="#00DC00" stroke-width="1.0"/><circle cx="215.6" cy="331.6" r="1.8" fill="#fff" stroke="#00DC00" stroke-width="1.0"/><circle cx="223.1" cy="330.5" r="1.8" fill="#fff" stroke="#00DC00" stroke-width="1.0"/><circle cx="230.7" cy="327.7" r="1.8" fill="#fff" stroke="#00DC00" stroke-width="1.0"/><circle cx="238.3" cy="323.9" r="1.8" fill="#fff" stroke="#00DC00" stroke-width="1.0"/><circle cx="245.9" cy="318.6" r="1.8" fill="#fff" stroke="#00DC00" stroke-width="1.0"/><circle cx="253.4" cy="329.9" r="1.8" fill="#fff" stroke="#00DC00" stroke-width="1.0"/><circle cx="261.0" cy="333.3" r="1.8" fill="#fff" stroke="#00DC00" stroke-width="1.0"/><circle cx="268.6" cy="337.6" r="1.8" fill="#fff" stroke="#00DC00" stroke-width="1.0"/><circle cx="276.2" cy="318.2" r="1.8" fill="#fff" stroke="#00DC00" stroke-width="1.0"/><circle cx="283.7" cy="320.1" r="1.8" fill="#fff" stroke="#00DC00" stroke-width="1.0"/><circle cx="291.3" cy="321.8" r="1.8" fill="#fff" stroke="#00DC00" stroke-width="1.0"/><circle cx="298.9" cy="316.2" r="1.8" fill="#fff" stroke="#00DC00" stroke-width="1.0"/><circle cx="306.5" cy="320.5" r="1.8" fill="#fff" stroke="#00DC00" stroke-width="1.0"/><circle cx="314.0" cy="327.9" r="1.8" fill="#fff" stroke="#00DC00" stroke-width="1.0"/><circle cx="321.6" cy="323.5" r="1.8" fill="#fff" stroke="#00DC00" stroke-width="1.0"/><circle cx="329.2" cy="323.5" r="1.8" fill="#fff" stroke="#00DC00" stroke-width="1.0"/><polyline fill="none" stroke="#1E3CFF" stroke-width="1.25" points="33.8,310.3 41.3,309.6 48.9,315.6 56.5,305.8 64.1,319.2 71.6,321.2 79.2,307.5 86.8,299.4 94.4,308.2 101.9,316.0 109.5,309.4 117.1,314.1 124.7,298.1 132.2,305.8 139.8,298.1 147.4,293.0 155.0,299.0 162.5,298.4 170.1,274.5 177.7,293.0 185.3,299.4 192.8,299.9 200.4,300.5 208.0,291.1 215.6,302.0 223.1,302.8 230.7,300.5 238.3,306.6 245.9,303.2 253.4,310.9 261.0,299.9 268.6,304.9 276.2,306.6 283.7,301.3 291.3,313.7 298.9,303.7 306.5,289.6 314.0,309.9 321.6,309.9 329.2,296.2"/><circle cx="33.8" cy="310.3" r="1.8" fill="#fff" stroke="#1E3CFF" stroke-width="1.0"/><circle cx="41.3" cy="309.6" r="1.8" fill="#fff" stroke="#1E3CFF" stroke-width="1.0"/><circle cx="48.9" cy="315.6" r="1.8" fill="#fff" stroke="#1E3CFF" stroke-width="1.0"/><circle cx="56.5" cy="305.8" r="1.8" fill="#fff" stroke="#1E3CFF" stroke-width="1.0"/><circle cx="64.1" cy="319.2" r="1.8" fill="#fff" stroke="#1E3CFF" stroke-width="1.0"/><circle cx="71.6" cy="321.2" r="1.8" fill="#fff" stroke="#1E3CFF" stroke-width="1.0"/><circle cx="79.2" cy="307.5" r="1.8" fill="#fff" stroke="#1E3CFF" stroke-width="1.0"/><circle cx="86.8" cy="299.4" r="1.8" fill="#fff" stroke="#1E3CFF" stroke-width="1.0"/><circle cx="94.4" cy="308.2" r="1.8" fill="#fff" stroke="#1E3CFF" stroke-width="1.0"/><circle cx="101.9" cy="316.0" r="1.8" fill="#fff" stroke="#1E3CFF" stroke-width="1.0"/><circle cx="109.5" cy="309.4" r="1.8" fill="#fff" stroke="#1E3CFF" stroke-width="1.0"/><circle cx="117.1" cy="314.1" r="1.8" fill="#fff" stroke="#1E3CFF" stroke-width="1.0"/><circle cx="124.7" cy="298.1" r="1.8" fill="#fff" stroke="#1E3CFF" stroke-width="1.0"/><circle cx="132.2" cy="305.8" r="1.8" fill="#fff" stroke="#1E3CFF" stroke-width="1.0"/><circle cx="139.8" cy="298.1" r="1.8" fill="#fff" stroke="#1E3CFF" stroke-width="1.0"/><circle cx="147.4" cy="293.0" r="1.8" fill="#fff" stroke="#1E3CFF" stroke-width="1.0"/><circle cx="155.0" cy="299.0" r="1.8" fill="#fff" stroke="#1E3CFF" stroke-width="1.0"/><circle cx="162.5" cy="298.4" r="1.8" fill="#fff" stroke="#1E3CFF" stroke-width="1.0"/><circle cx="170.1" cy="274.5" r="1.8" fill="#fff" stroke="#1E3CFF" stroke-width="1.0"/><circle cx="177.7" cy="293.0" r="1.8" fill="#fff" stroke="#1E3CFF" stroke-width="1.0"/><circle cx="185.3" cy="299.4" r="1.8" fill="#fff" stroke="#1E3CFF" stroke-width="1.0"/><circle cx="192.8" cy="299.9" r="1.8" fill="#fff" stroke="#1E3CFF" stroke-width="1.0"/><circle cx="200.4" cy="300.5" r="1.8" fill="#fff" stroke="#1E3CFF" stroke-width="1.0"/><circle cx="208.0" cy="291.1" r="1.8" fill="#fff" stroke="#1E3CFF" stroke-width="1.0"/><circle cx="215.6" cy="302.0" r="1.8" fill="#fff" stroke="#1E3CFF" stroke-width="1.0"/><circle cx="223.1" cy="302.8" r="1.8" fill="#fff" stroke="#1E3CFF" stroke-width="1.0"/><circle cx="230.7" cy="300.5" r="1.8" fill="#fff" stroke="#1E3CFF" stroke-width="1.0"/><circle cx="238.3" cy="306.6" r="1.8" fill="#fff" stroke="#1E3CFF" stroke-width="1.0"/><circle cx="245.9" cy="303.2" r="1.8" fill="#fff" stroke="#1E3CFF" stroke-width="1.0"/><circle cx="253.4" cy="310.9" r="1.8" fill="#fff" stroke="#1E3CFF" stroke-width="1.0"/><circle cx="261.0" cy="299.9" r="1.8" fill="#fff" stroke="#1E3CFF" stroke-width="1.0"/><circle cx="268.6" cy="304.9" r="1.8" fill="#fff" stroke="#1E3CFF" stroke-width="1.0"/><circle cx="276.2" cy="306.6" r="1.8" fill="#fff" stroke="#1E3CFF" stroke-width="1.0"/><circle cx="283.7" cy="301.3" r="1.8" fill="#fff" stroke="#1E3CFF" stroke-width="1.0"/><circle cx="291.3" cy="313.7" r="1.8" fill="#fff" stroke="#1E3CFF" stroke-width="1.0"/><circle cx="298.9" cy="303.7" r="1.8" fill="#fff" stroke="#1E3CFF" stroke-width="1.0"/><circle cx="306.5" cy="289.6" r="1.8" fill="#fff" stroke="#1E3CFF" stroke-width="1.0"/><circle cx="314.0" cy="309.9" r="1.8" fill="#fff" stroke="#1E3CFF" stroke-width="1.0"/><circle cx="321.6" cy="309.9" r="1.8" fill="#fff" stroke="#1E3CFF" stroke-width="1.0"/><circle cx="329.2" cy="296.2" r="1.8" fill="#fff" stroke="#1E3CFF" stroke-width="1.0"/><polyline fill="none" stroke="#E6148C" stroke-width="1.25" points="33.8,316.9 41.3,316.9 48.9,322.2 56.5,315.4 64.1,323.9 71.6,326.5 79.2,315.6 86.8,310.1 94.4,315.6 101.9,323.5 109.5,315.8 117.1,321.1 124.7,304.5 132.2,312.2 139.8,304.7 147.4,302.2 155.0,306.6 162.5,306.0 170.1,288.3 177.7,302.4 185.3,303.7 192.8,306.2 200.4,309.0 208.0,300.9 215.6,311.3 223.1,311.3 230.7,309.6 238.3,312.2 245.9,309.0 253.4,316.9 261.0,310.7 268.6,314.8 276.2,310.7 283.7,307.5 291.3,318.2 298.9,307.5 306.5,299.4 314.0,315.4 321.6,314.1 329.2,305.0"/><circle cx="33.8" cy="316.9" r="1.8" fill="#fff" stroke="#E6148C" stroke-width="1.0"/><circle cx="41.3" cy="316.9" r="1.8" fill="#fff" stroke="#E6148C" stroke-width="1.0"/><circle cx="48.9" cy="322.2" r="1.8" fill="#fff" stroke="#E6148C" stroke-width="1.0"/><circle cx="56.5" cy="315.4" r="1.8" fill="#fff" stroke="#E6148C" stroke-width="1.0"/><circle cx="64.1" cy="323.9" r="1.8" fill="#fff" stroke="#E6148C" stroke-width="1.0"/><circle cx="71.6" cy="326.5" r="1.8" fill="#fff" stroke="#E6148C" stroke-width="1.0"/><circle cx="79.2" cy="315.6" r="1.8" fill="#fff" stroke="#E6148C" stroke-width="1.0"/><circle cx="86.8" cy="310.1" r="1.8" fill="#fff" stroke="#E6148C" stroke-width="1.0"/><circle cx="94.4" cy="315.6" r="1.8" fill="#fff" stroke="#E6148C" stroke-width="1.0"/><circle cx="101.9" cy="323.5" r="1.8" fill="#fff" stroke="#E6148C" stroke-width="1.0"/><circle cx="109.5" cy="315.8" r="1.8" fill="#fff" stroke="#E6148C" stroke-width="1.0"/><circle cx="117.1" cy="321.1" r="1.8" fill="#fff" stroke="#E6148C" stroke-width="1.0"/><circle cx="124.7" cy="304.5" r="1.8" fill="#fff" stroke="#E6148C" stroke-width="1.0"/><circle cx="132.2" cy="312.2" r="1.8" fill="#fff" stroke="#E6148C" stroke-width="1.0"/><circle cx="139.8" cy="304.7" r="1.8" fill="#fff" stroke="#E6148C" stroke-width="1.0"/><circle cx="147.4" cy="302.2" r="1.8" fill="#fff" stroke="#E6148C" stroke-width="1.0"/><circle cx="155.0" cy="306.6" r="1.8" fill="#fff" stroke="#E6148C" stroke-width="1.0"/><circle cx="162.5" cy="306.0" r="1.8" fill="#fff" stroke="#E6148C" stroke-width="1.0"/><circle cx="170.1" cy="288.3" r="1.8" fill="#fff" stroke="#E6148C" stroke-width="1.0"/><circle cx="177.7" cy="302.4" r="1.8" fill="#fff" stroke="#E6148C" stroke-width="1.0"/><circle cx="185.3" cy="303.7" r="1.8" fill="#fff" stroke="#E6148C" stroke-width="1.0"/><circle cx="192.8" cy="306.2" r="1.8" fill="#fff" stroke="#E6148C" stroke-width="1.0"/><circle cx="200.4" cy="309.0" r="1.8" fill="#fff" stroke="#E6148C" stroke-width="1.0"/><circle cx="208.0" cy="300.9" r="1.8" fill="#fff" stroke="#E6148C" stroke-width="1.0"/><circle cx="215.6" cy="311.3" r="1.8" fill="#fff" stroke="#E6148C" stroke-width="1.0"/><circle cx="223.1" cy="311.3" r="1.8" fill="#fff" stroke="#E6148C" stroke-width="1.0"/><circle cx="230.7" cy="309.6" r="1.8" fill="#fff" stroke="#E6148C" stroke-width="1.0"/><circle cx="238.3" cy="312.2" r="1.8" fill="#fff" stroke="#E6148C" stroke-width="1.0"/><circle cx="245.9" cy="309.0" r="1.8" fill="#fff" stroke="#E6148C" stroke-width="1.0"/><circle cx="253.4" cy="316.9" r="1.8" fill="#fff" stroke="#E6148C" stroke-width="1.0"/><circle cx="261.0" cy="310.7" r="1.8" fill="#fff" stroke="#E6148C" stroke-width="1.0"/><circle cx="268.6" cy="314.8" r="1.8" fill="#fff" stroke="#E6148C" stroke-width="1.0"/><circle cx="276.2" cy="310.7" r="1.8" fill="#fff" stroke="#E6148C" stroke-width="1.0"/><circle cx="283.7" cy="307.5" r="1.8" fill="#fff" stroke="#E6148C" stroke-width="1.0"/><circle cx="291.3" cy="318.2" r="1.8" fill="#fff" stroke="#E6148C" stroke-width="1.0"/><circle cx="298.9" cy="307.5" r="1.8" fill="#fff" stroke="#E6148C" stroke-width="1.0"/><circle cx="306.5" cy="299.4" r="1.8" fill="#fff" stroke="#E6148C" stroke-width="1.0"/><circle cx="314.0" cy="315.4" r="1.8" fill="#fff" stroke="#E6148C" stroke-width="1.0"/><circle cx="321.6" cy="314.1" r="1.8" fill="#fff" stroke="#E6148C" stroke-width="1.0"/><circle cx="329.2" cy="305.0" r="1.8" fill="#fff" stroke="#E6148C" stroke-width="1.0"/></g>
<rect x="33.75" y="240.3" width="295.45" height="109.5" fill="none" stroke="#111" stroke-width="1.3"/>
<line x1="31.35" x2="33.75" y1="349.80" y2="349.80" stroke="#111" stroke-width="1"/>

<line x1="31.35" x2="33.75" y1="322.43" y2="322.43" stroke="#111" stroke-width="1"/>

<line x1="31.35" x2="33.75" y1="295.05" y2="295.05" stroke="#111" stroke-width="1"/>

<line x1="31.35" x2="33.75" y1="267.68" y2="267.68" stroke="#111" stroke-width="1"/>

<line x1="31.35" x2="33.75" y1="240.30" y2="240.30" stroke="#111" stroke-width="1"/>

<line x1="41.33" x2="41.33" y1="349.8" y2="352.0" stroke="#111" stroke-width="1"/>

<line x1="79.20" x2="79.20" y1="349.8" y2="352.0" stroke="#111" stroke-width="1"/>

<line x1="117.08" x2="117.08" y1="349.8" y2="352.0" stroke="#111" stroke-width="1"/>

<line x1="154.96" x2="154.96" y1="349.8" y2="352.0" stroke="#111" stroke-width="1"/>

<line x1="192.84" x2="192.84" y1="349.8" y2="352.0" stroke="#111" stroke-width="1"/>

<line x1="230.72" x2="230.72" y1="349.8" y2="352.0" stroke="#111" stroke-width="1"/>

<line x1="268.59" x2="268.59" y1="349.8" y2="352.0" stroke="#111" stroke-width="1"/>

<line x1="306.47" x2="306.47" y1="349.8" y2="352.0" stroke="#111" stroke-width="1"/>











<line x1="80.90" x2="108.90" y1="245.20" y2="245.20" stroke="#1a1a1a" stroke-width="0.9"/>
<circle cx="95.70" cy="245.20" r="1.5" fill="#1a1a1a"/>

<line x1="80.90" x2="108.90" y1="251.90" y2="251.90" stroke="#FA3C3C" stroke-width="0.9"/>
<circle cx="95.70" cy="251.90" r="1.5" fill="#FA3C3C"/>

<line x1="80.90" x2="108.90" y1="258.80" y2="258.80" stroke="#00DC00" stroke-width="0.9"/>
<circle cx="95.70" cy="258.80" r="1.5" fill="#00DC00"/>

<line x1="181.00" x2="208.80" y1="246.40" y2="246.40" stroke="#1E3CFF" stroke-width="0.9"/>
<circle cx="195.70" cy="246.40" r="1.5" fill="#1E3CFF"/>

<line x1="181.00" x2="208.80" y1="253.20" y2="253.20" stroke="#E6148C" stroke-width="0.9"/>
<circle cx="195.70" cy="253.20" r="1.5" fill="#E6148C"/>
<clipPath id="clipMAM"><rect x="385.8" y="240.5" width="295.2" height="109.60000000000002"/></clipPath>
<g clip-path="url(#clipMAM)"><polyline fill="none" stroke="#1a1a1a" stroke-width="1.25" points="385.8,332.0 393.2,330.7 400.6,333.3 407.9,330.1 415.3,328.2 422.7,332.6 430.1,332.6 437.5,332.0 444.8,330.7 452.2,330.1 459.6,330.7 467.0,332.0 474.4,330.1 481.7,326.9 489.1,325.0 496.5,325.4 503.9,326.0 511.3,325.0 518.6,325.4 526.0,323.9 533.4,324.1 540.8,322.8 548.2,322.6 555.5,330.1 562.9,324.5 570.3,327.3 577.7,328.2 585.1,329.2 592.4,326.9 599.8,330.1 607.2,329.2 614.6,325.8 622.0,328.2 629.3,328.2 636.7,326.9 644.1,327.3 651.5,326.3 658.9,324.5 666.2,323.5 673.6,327.3 681.0,326.0"/><circle cx="385.8" cy="332.0" r="1.8" fill="#fff" stroke="#1a1a1a" stroke-width="1.0"/><circle cx="393.2" cy="330.7" r="1.8" fill="#fff" stroke="#1a1a1a" stroke-width="1.0"/><circle cx="400.6" cy="333.3" r="1.8" fill="#fff" stroke="#1a1a1a" stroke-width="1.0"/><circle cx="407.9" cy="330.1" r="1.8" fill="#fff" stroke="#1a1a1a" stroke-width="1.0"/><circle cx="415.3" cy="328.2" r="1.8" fill="#fff" stroke="#1a1a1a" stroke-width="1.0"/><circle cx="422.7" cy="332.6" r="1.8" fill="#fff" stroke="#1a1a1a" stroke-width="1.0"/><circle cx="430.1" cy="332.6" r="1.8" fill="#fff" stroke="#1a1a1a" stroke-width="1.0"/><circle cx="437.5" cy="332.0" r="1.8" fill="#fff" stroke="#1a1a1a" stroke-width="1.0"/><circle cx="444.8" cy="330.7" r="1.8" fill="#fff" stroke="#1a1a1a" stroke-width="1.0"/><circle cx="452.2" cy="330.1" r="1.8" fill="#fff" stroke="#1a1a1a" stroke-width="1.0"/><circle cx="459.6" cy="330.7" r="1.8" fill="#fff" stroke="#1a1a1a" stroke-width="1.0"/><circle cx="467.0" cy="332.0" r="1.8" fill="#fff" stroke="#1a1a1a" stroke-width="1.0"/><circle cx="474.4" cy="330.1" r="1.8" fill="#fff" stroke="#1a1a1a" stroke-width="1.0"/><circle cx="481.7" cy="326.9" r="1.8" fill="#fff" stroke="#1a1a1a" stroke-width="1.0"/><circle cx="489.1" cy="325.0" r="1.8" fill="#fff" stroke="#1a1a1a" stroke-width="1.0"/><circle cx="496.5" cy="325.4" r="1.8" fill="#fff" stroke="#1a1a1a" stroke-width="1.0"/><circle cx="503.9" cy="326.0" r="1.8" fill="#fff" stroke="#1a1a1a" stroke-width="1.0"/><circle cx="511.3" cy="325.0" r="1.8" fill="#fff" stroke="#1a1a1a" stroke-width="1.0"/><circle cx="518.6" cy="325.4" r="1.8" fill="#fff" stroke="#1a1a1a" stroke-width="1.0"/><circle cx="526.0" cy="323.9" r="1.8" fill="#fff" stroke="#1a1a1a" stroke-width="1.0"/><circle cx="533.4" cy="324.1" r="1.8" fill="#fff" stroke="#1a1a1a" stroke-width="1.0"/><circle cx="540.8" cy="322.8" r="1.8" fill="#fff" stroke="#1a1a1a" stroke-width="1.0"/><circle cx="548.2" cy="322.6" r="1.8" fill="#fff" stroke="#1a1a1a" stroke-width="1.0"/><circle cx="555.5" cy="330.1" r="1.8" fill="#fff" stroke="#1a1a1a" stroke-width="1.0"/><circle cx="562.9" cy="324.5" r="1.8" fill="#fff" stroke="#1a1a1a" stroke-width="1.0"/><circle cx="570.3" cy="327.3" r="1.8" fill="#fff" stroke="#1a1a1a" stroke-width="1.0"/><circle cx="577.7" cy="328.2" r="1.8" fill="#fff" stroke="#1a1a1a" stroke-width="1.0"/><circle cx="585.1" cy="329.2" r="1.8" fill="#fff" stroke="#1a1a1a" stroke-width="1.0"/><circle cx="592.4" cy="326.9" r="1.8" fill="#fff" stroke="#1a1a1a" stroke-width="1.0"/><circle cx="599.8" cy="330.1" r="1.8" fill="#fff" stroke="#1a1a1a" stroke-width="1.0"/><circle cx="607.2" cy="329.2" r="1.8" fill="#fff" stroke="#1a1a1a" stroke-width="1.0"/><circle cx="614.6" cy="325.8" r="1.8" fill="#fff" stroke="#1a1a1a" stroke-width="1.0"/><circle cx="622.0" cy="328.2" r="1.8" fill="#fff" stroke="#1a1a1a" stroke-width="1.0"/><circle cx="629.3" cy="328.2" r="1.8" fill="#fff" stroke="#1a1a1a" stroke-width="1.0"/><circle cx="636.7" cy="326.9" r="1.8" fill="#fff" stroke="#1a1a1a" stroke-width="1.0"/><circle cx="644.1" cy="327.3" r="1.8" fill="#fff" stroke="#1a1a1a" stroke-width="1.0"/><circle cx="651.5" cy="326.3" r="1.8" fill="#fff" stroke="#1a1a1a" stroke-width="1.0"/><circle cx="658.9" cy="324.5" r="1.8" fill="#fff" stroke="#1a1a1a" stroke-width="1.0"/><circle cx="666.2" cy="323.5" r="1.8" fill="#fff" stroke="#1a1a1a" stroke-width="1.0"/><circle cx="673.6" cy="327.3" r="1.8" fill="#fff" stroke="#1a1a1a" stroke-width="1.0"/><circle cx="681.0" cy="326.0" r="1.8" fill="#fff" stroke="#1a1a1a" stroke-width="1.0"/><polyline fill="none" stroke="#FA3C3C" stroke-width="1.25" points="385.8,283.6 393.2,286.8 400.6,291.5 407.9,277.5 415.3,274.1 422.7,286.9 430.1,283.6 437.5,287.7 444.8,279.8 452.2,278.6 459.6,274.9 467.0,284.3 474.4,282.1 481.7,279.8 489.1,273.9 496.5,273.4 503.9,270.2 511.3,271.7 518.6,273.2 526.0,266.8 533.4,267.1 540.8,262.2 548.2,263.6 555.5,284.7 562.9,269.0 570.3,272.8 577.7,279.0 585.1,274.7 592.4,274.1 599.8,281.1 607.2,279.4 614.6,269.6 622.0,276.0 629.3,272.6 636.7,273.9 644.1,276.0 651.5,269.4 658.9,269.0 666.2,266.0 673.6,279.8 681.0,269.4"/><circle cx="385.8" cy="283.6" r="1.8" fill="#fff" stroke="#FA3C3C" stroke-width="1.0"/><circle cx="393.2" cy="286.8" r="1.8" fill="#fff" stroke="#FA3C3C" stroke-width="1.0"/><circle cx="400.6" cy="291.5" r="1.8" fill="#fff" stroke="#FA3C3C" stroke-width="1.0"/><circle cx="407.9" cy="277.5" r="1.8" fill="#fff" stroke="#FA3C3C" stroke-width="1.0"/><circle cx="415.3" cy="274.1" r="1.8" fill="#fff" stroke="#FA3C3C" stroke-width="1.0"/><circle cx="422.7" cy="286.9" r="1.8" fill="#fff" stroke="#FA3C3C" stroke-width="1.0"/><circle cx="430.1" cy="283.6" r="1.8" fill="#fff" stroke="#FA3C3C" stroke-width="1.0"/><circle cx="437.5" cy="287.7" r="1.8" fill="#fff" stroke="#FA3C3C" stroke-width="1.0"/><circle cx="444.8" cy="279.8" r="1.8" fill="#fff" stroke="#FA3C3C" stroke-width="1.0"/><circle cx="452.2" cy="278.6" r="1.8" fill="#fff" stroke="#FA3C3C" stroke-width="1.0"/><circle cx="459.6" cy="274.9" r="1.8" fill="#fff" stroke="#FA3C3C" stroke-width="1.0"/><circle cx="467.0" cy="284.3" r="1.8" fill="#fff" stroke="#FA3C3C" stroke-width="1.0"/><circle cx="474.4" cy="282.1" r="1.8" fill="#fff" stroke="#FA3C3C" stroke-width="1.0"/><circle cx="481.7" cy="279.8" r="1.8" fill="#fff" stroke="#FA3C3C" stroke-width="1.0"/><circle cx="489.1" cy="273.9" r="1.8" fill="#fff" stroke="#FA3C3C" stroke-width="1.0"/><circle cx="496.5" cy="273.4" r="1.8" fill="#fff" stroke="#FA3C3C" stroke-width="1.0"/><circle cx="503.9" cy="270.2" r="1.8" fill="#fff" stroke="#FA3C3C" stroke-width="1.0"/><circle cx="511.3" cy="271.7" r="1.8" fill="#fff" stroke="#FA3C3C" stroke-width="1.0"/><circle cx="518.6" cy="273.2" r="1.8" fill="#fff" stroke="#FA3C3C" stroke-width="1.0"/><circle cx="526.0" cy="266.8" r="1.8" fill="#fff" stroke="#FA3C3C" stroke-width="1.0"/><circle cx="533.4" cy="267.1" r="1.8" fill="#fff" stroke="#FA3C3C" stroke-width="1.0"/><circle cx="540.8" cy="262.2" r="1.8" fill="#fff" stroke="#FA3C3C" stroke-width="1.0"/><circle cx="548.2" cy="263.6" r="1.8" fill="#fff" stroke="#FA3C3C" stroke-width="1.0"/><circle cx="555.5" cy="284.7" r="1.8" fill="#fff" stroke="#FA3C3C" stroke-width="1.0"/><circle cx="562.9" cy="269.0" r="1.8" fill="#fff" stroke="#FA3C3C" stroke-width="1.0"/><circle cx="570.3" cy="272.8" r="1.8" fill="#fff" stroke="#FA3C3C" stroke-width="1.0"/><circle cx="577.7" cy="279.0" r="1.8" fill="#fff" stroke="#FA3C3C" stroke-width="1.0"/><circle cx="585.1" cy="274.7" r="1.8" fill="#fff" stroke="#FA3C3C" stroke-width="1.0"/><circle cx="592.4" cy="274.1" r="1.8" fill="#fff" stroke="#FA3C3C" stroke-width="1.0"/><circle cx="599.8" cy="281.1" r="1.8" fill="#fff" stroke="#FA3C3C" stroke-width="1.0"/><circle cx="607.2" cy="279.4" r="1.8" fill="#fff" stroke="#FA3C3C" stroke-width="1.0"/><circle cx="614.6" cy="269.6" r="1.8" fill="#fff" stroke="#FA3C3C" stroke-width="1.0"/><circle cx="622.0" cy="276.0" r="1.8" fill="#fff" stroke="#FA3C3C" stroke-width="1.0"/><circle cx="629.3" cy="272.6" r="1.8" fill="#fff" stroke="#FA3C3C" stroke-width="1.0"/><circle cx="636.7" cy="273.9" r="1.8" fill="#fff" stroke="#FA3C3C" stroke-width="1.0"/><circle cx="644.1" cy="276.0" r="1.8" fill="#fff" stroke="#FA3C3C" stroke-width="1.0"/><circle cx="651.5" cy="269.4" r="1.8" fill="#fff" stroke="#FA3C3C" stroke-width="1.0"/><circle cx="658.9" cy="269.0" r="1.8" fill="#fff" stroke="#FA3C3C" stroke-width="1.0"/><circle cx="666.2" cy="266.0" r="1.8" fill="#fff" stroke="#FA3C3C" stroke-width="1.0"/><circle cx="673.6" cy="279.8" r="1.8" fill="#fff" stroke="#FA3C3C" stroke-width="1.0"/><circle cx="681.0" cy="269.4" r="1.8" fill="#fff" stroke="#FA3C3C" stroke-width="1.0"/><polyline fill="none" stroke="#00DC00" stroke-width="1.25" points="385.8,327.3 393.2,323.1 400.6,332.2 407.9,331.1 415.3,325.0 422.7,327.3 430.1,330.7 437.5,325.4 444.8,325.4 452.2,322.0 459.6,326.3 467.0,320.9 474.4,320.9 481.7,316.7 489.1,316.0 496.5,316.5 503.9,318.4 511.3,319.4 518.6,316.7 526.0,316.7 533.4,317.9 540.8,313.7 548.2,312.2 555.5,319.4 562.9,316.4 570.3,317.9 577.7,322.2 585.1,319.8 592.4,312.6 599.8,321.2 607.2,318.8 614.6,317.5 622.0,323.5 629.3,317.5 636.7,320.9 644.1,318.1 651.5,318.1 658.9,314.1 666.2,313.7 673.6,323.1 681.0,318.8"/><circle cx="385.8" cy="327.3" r="1.8" fill="#fff" stroke="#00DC00" stroke-width="1.0"/><circle cx="393.2" cy="323.1" r="1.8" fill="#fff" stroke="#00DC00" stroke-width="1.0"/><circle cx="400.6" cy="332.2" r="1.8" fill="#fff" stroke="#00DC00" stroke-width="1.0"/><circle cx="407.9" cy="331.1" r="1.8" fill="#fff" stroke="#00DC00" stroke-width="1.0"/><circle cx="415.3" cy="325.0" r="1.8" fill="#fff" stroke="#00DC00" stroke-width="1.0"/><circle cx="422.7" cy="327.3" r="1.8" fill="#fff" stroke="#00DC00" stroke-width="1.0"/><circle cx="430.1" cy="330.7" r="1.8" fill="#fff" stroke="#00DC00" stroke-width="1.0"/><circle cx="437.5" cy="325.4" r="1.8" fill="#fff" stroke="#00DC00" stroke-width="1.0"/><circle cx="444.8" cy="325.4" r="1.8" fill="#fff" stroke="#00DC00" stroke-width="1.0"/><circle cx="452.2" cy="322.0" r="1.8" fill="#fff" stroke="#00DC00" stroke-width="1.0"/><circle cx="459.6" cy="326.3" r="1.8" fill="#fff" stroke="#00DC00" stroke-width="1.0"/><circle cx="467.0" cy="320.9" r="1.8" fill="#fff" stroke="#00DC00" stroke-width="1.0"/><circle cx="474.4" cy="320.9" r="1.8" fill="#fff" stroke="#00DC00" stroke-width="1.0"/><circle cx="481.7" cy="316.7" r="1.8" fill="#fff" stroke="#00DC00" stroke-width="1.0"/><circle cx="489.1" cy="316.0" r="1.8" fill="#fff" stroke="#00DC00" stroke-width="1.0"/><circle cx="496.5" cy="316.5" r="1.8" fill="#fff" stroke="#00DC00" stroke-width="1.0"/><circle cx="503.9" cy="318.4" r="1.8" fill="#fff" stroke="#00DC00" stroke-width="1.0"/><circle cx="511.3" cy="319.4" r="1.8" fill="#fff" stroke="#00DC00" stroke-width="1.0"/><circle cx="518.6" cy="316.7" r="1.8" fill="#fff" stroke="#00DC00" stroke-width="1.0"/><circle cx="526.0" cy="316.7" r="1.8" fill="#fff" stroke="#00DC00" stroke-width="1.0"/><circle cx="533.4" cy="317.9" r="1.8" fill="#fff" stroke="#00DC00" stroke-width="1.0"/><circle cx="540.8" cy="313.7" r="1.8" fill="#fff" stroke="#00DC00" stroke-width="1.0"/><circle cx="548.2" cy="312.2" r="1.8" fill="#fff" stroke="#00DC00" stroke-width="1.0"/><circle cx="555.5" cy="319.4" r="1.8" fill="#fff" stroke="#00DC00" stroke-width="1.0"/><circle cx="562.9" cy="316.4" r="1.8" fill="#fff" stroke="#00DC00" stroke-width="1.0"/><circle cx="570.3" cy="317.9" r="1.8" fill="#fff" stroke="#00DC00" stroke-width="1.0"/><circle cx="577.7" cy="322.2" r="1.8" fill="#fff" stroke="#00DC00" stroke-width="1.0"/><circle cx="585.1" cy="319.8" r="1.8" fill="#fff" stroke="#00DC00" stroke-width="1.0"/><circle cx="592.4" cy="312.6" r="1.8" fill="#fff" stroke="#00DC00" stroke-width="1.0"/><circle cx="599.8" cy="321.2" r="1.8" fill="#fff" stroke="#00DC00" stroke-width="1.0"/><circle cx="607.2" cy="318.8" r="1.8" fill="#fff" stroke="#00DC00" stroke-width="1.0"/><circle cx="614.6" cy="317.5" r="1.8" fill="#fff" stroke="#00DC00" stroke-width="1.0"/><circle cx="622.0" cy="323.5" r="1.8" fill="#fff" stroke="#00DC00" stroke-width="1.0"/><circle cx="629.3" cy="317.5" r="1.8" fill="#fff" stroke="#00DC00" stroke-width="1.0"/><circle cx="636.7" cy="320.9" r="1.8" fill="#fff" stroke="#00DC00" stroke-width="1.0"/><circle cx="644.1" cy="318.1" r="1.8" fill="#fff" stroke="#00DC00" stroke-width="1.0"/><circle cx="651.5" cy="318.1" r="1.8" fill="#fff" stroke="#00DC00" stroke-width="1.0"/><circle cx="658.9" cy="314.1" r="1.8" fill="#fff" stroke="#00DC00" stroke-width="1.0"/><circle cx="666.2" cy="313.7" r="1.8" fill="#fff" stroke="#00DC00" stroke-width="1.0"/><circle cx="673.6" cy="323.1" r="1.8" fill="#fff" stroke="#00DC00" stroke-width="1.0"/><circle cx="681.0" cy="318.8" r="1.8" fill="#fff" stroke="#00DC00" stroke-width="1.0"/><polyline fill="none" stroke="#1E3CFF" stroke-width="1.25" points="385.8,331.1 393.2,329.2 400.6,332.6 407.9,327.7 415.3,323.9 422.7,330.7 430.1,332.0 437.5,332.6 444.8,329.2 452.2,327.7 459.6,327.3 467.0,334.8 474.4,331.1 481.7,327.3 489.1,323.5 496.5,326.3 503.9,323.5 511.3,323.5 518.6,327.3 526.0,320.1 533.4,318.2 540.8,316.9 548.2,321.2 555.5,334.8 562.9,323.5 570.3,325.4 577.7,326.9 585.1,328.8 592.4,326.3 599.8,332.0 607.2,331.4 614.6,322.6 622.0,326.9 629.3,326.9 636.7,326.3 644.1,327.7 651.5,325.4 658.9,323.9 666.2,324.5 673.6,328.8 681.0,324.5"/><circle cx="385.8" cy="331.1" r="1.8" fill="#fff" stroke="#1E3CFF" stroke-width="1.0"/><circle cx="393.2" cy="329.2" r="1.8" fill="#fff" stroke="#1E3CFF" stroke-width="1.0"/><circle cx="400.6" cy="332.6" r="1.8" fill="#fff" stroke="#1E3CFF" stroke-width="1.0"/><circle cx="407.9" cy="327.7" r="1.8" fill="#fff" stroke="#1E3CFF" stroke-width="1.0"/><circle cx="415.3" cy="323.9" r="1.8" fill="#fff" stroke="#1E3CFF" stroke-width="1.0"/><circle cx="422.7" cy="330.7" r="1.8" fill="#fff" stroke="#1E3CFF" stroke-width="1.0"/><circle cx="430.1" cy="332.0" r="1.8" fill="#fff" stroke="#1E3CFF" stroke-width="1.0"/><circle cx="437.5" cy="332.6" r="1.8" fill="#fff" stroke="#1E3CFF" stroke-width="1.0"/><circle cx="444.8" cy="329.2" r="1.8" fill="#fff" stroke="#1E3CFF" stroke-width="1.0"/><circle cx="452.2" cy="327.7" r="1.8" fill="#fff" stroke="#1E3CFF" stroke-width="1.0"/><circle cx="459.6" cy="327.3" r="1.8" fill="#fff" stroke="#1E3CFF" stroke-width="1.0"/><circle cx="467.0" cy="334.8" r="1.8" fill="#fff" stroke="#1E3CFF" stroke-width="1.0"/><circle cx="474.4" cy="331.1" r="1.8" fill="#fff" stroke="#1E3CFF" stroke-width="1.0"/><circle cx="481.7" cy="327.3" r="1.8" fill="#fff" stroke="#1E3CFF" stroke-width="1.0"/><circle cx="489.1" cy="323.5" r="1.8" fill="#fff" stroke="#1E3CFF" stroke-width="1.0"/><circle cx="496.5" cy="326.3" r="1.8" fill="#fff" stroke="#1E3CFF" stroke-width="1.0"/><circle cx="503.9" cy="323.5" r="1.8" fill="#fff" stroke="#1E3CFF" stroke-width="1.0"/><circle cx="511.3" cy="323.5" r="1.8" fill="#fff" stroke="#1E3CFF" stroke-width="1.0"/><circle cx="518.6" cy="327.3" r="1.8" fill="#fff" stroke="#1E3CFF" stroke-width="1.0"/><circle cx="526.0" cy="320.1" r="1.8" fill="#fff" stroke="#1E3CFF" stroke-width="1.0"/><circle cx="533.4" cy="318.2" r="1.8" fill="#fff" stroke="#1E3CFF" stroke-width="1.0"/><circle cx="540.8" cy="316.9" r="1.8" fill="#fff" stroke="#1E3CFF" stroke-width="1.0"/><circle cx="548.2" cy="321.2" r="1.8" fill="#fff" stroke="#1E3CFF" stroke-width="1.0"/><circle cx="555.5" cy="334.8" r="1.8" fill="#fff" stroke="#1E3CFF" stroke-width="1.0"/><circle cx="562.9" cy="323.5" r="1.8" fill="#fff" stroke="#1E3CFF" stroke-width="1.0"/><circle cx="570.3" cy="325.4" r="1.8" fill="#fff" stroke="#1E3CFF" stroke-width="1.0"/><circle cx="577.7" cy="326.9" r="1.8" fill="#fff" stroke="#1E3CFF" stroke-width="1.0"/><circle cx="585.1" cy="328.8" r="1.8" fill="#fff" stroke="#1E3CFF" stroke-width="1.0"/><circle cx="592.4" cy="326.3" r="1.8" fill="#fff" stroke="#1E3CFF" stroke-width="1.0"/><circle cx="599.8" cy="332.0" r="1.8" fill="#fff" stroke="#1E3CFF" stroke-width="1.0"/><circle cx="607.2" cy="331.4" r="1.8" fill="#fff" stroke="#1E3CFF" stroke-width="1.0"/><circle cx="614.6" cy="322.6" r="1.8" fill="#fff" stroke="#1E3CFF" stroke-width="1.0"/><circle cx="622.0" cy="326.9" r="1.8" fill="#fff" stroke="#1E3CFF" stroke-width="1.0"/><circle cx="629.3" cy="326.9" r="1.8" fill="#fff" stroke="#1E3CFF" stroke-width="1.0"/><circle cx="636.7" cy="326.3" r="1.8" fill="#fff" stroke="#1E3CFF" stroke-width="1.0"/><circle cx="644.1" cy="327.7" r="1.8" fill="#fff" stroke="#1E3CFF" stroke-width="1.0"/><circle cx="651.5" cy="325.4" r="1.8" fill="#fff" stroke="#1E3CFF" stroke-width="1.0"/><circle cx="658.9" cy="323.9" r="1.8" fill="#fff" stroke="#1E3CFF" stroke-width="1.0"/><circle cx="666.2" cy="324.5" r="1.8" fill="#fff" stroke="#1E3CFF" stroke-width="1.0"/><circle cx="673.6" cy="328.8" r="1.8" fill="#fff" stroke="#1E3CFF" stroke-width="1.0"/><circle cx="681.0" cy="324.5" r="1.8" fill="#fff" stroke="#1E3CFF" stroke-width="1.0"/><polyline fill="none" stroke="#E6148C" stroke-width="1.25" points="385.8,330.7 393.2,327.7 400.6,332.6 407.9,329.2 415.3,325.4 422.7,330.1 430.1,331.4 437.5,331.4 444.8,327.3 452.2,326.5 459.6,326.9 467.0,331.4 474.4,328.2 481.7,325.4 489.1,322.0 496.5,323.5 503.9,322.6 511.3,322.6 518.6,325.0 526.0,319.4 533.4,319.8 540.8,317.5 548.2,320.7 555.5,331.1 562.9,322.0 570.3,324.1 577.7,326.3 585.1,326.3 592.4,323.5 599.8,329.2 607.2,328.2 614.6,321.2 622.0,326.0 629.3,325.0 636.7,325.4 644.1,326.3 651.5,324.5 658.9,322.6 666.2,322.0 673.6,326.9 681.0,323.1"/><circle cx="385.8" cy="330.7" r="1.8" fill="#fff" stroke="#E6148C" stroke-width="1.0"/><circle cx="393.2" cy="327.7" r="1.8" fill="#fff" stroke="#E6148C" stroke-width="1.0"/><circle cx="400.6" cy="332.6" r="1.8" fill="#fff" stroke="#E6148C" stroke-width="1.0"/><circle cx="407.9" cy="329.2" r="1.8" fill="#fff" stroke="#E6148C" stroke-width="1.0"/><circle cx="415.3" cy="325.4" r="1.8" fill="#fff" stroke="#E6148C" stroke-width="1.0"/><circle cx="422.7" cy="330.1" r="1.8" fill="#fff" stroke="#E6148C" stroke-width="1.0"/><circle cx="430.1" cy="331.4" r="1.8" fill="#fff" stroke="#E6148C" stroke-width="1.0"/><circle cx="437.5" cy="331.4" r="1.8" fill="#fff" stroke="#E6148C" stroke-width="1.0"/><circle cx="444.8" cy="327.3" r="1.8" fill="#fff" stroke="#E6148C" stroke-width="1.0"/><circle cx="452.2" cy="326.5" r="1.8" fill="#fff" stroke="#E6148C" stroke-width="1.0"/><circle cx="459.6" cy="326.9" r="1.8" fill="#fff" stroke="#E6148C" stroke-width="1.0"/><circle cx="467.0" cy="331.4" r="1.8" fill="#fff" stroke="#E6148C" stroke-width="1.0"/><circle cx="474.4" cy="328.2" r="1.8" fill="#fff" stroke="#E6148C" stroke-width="1.0"/><circle cx="481.7" cy="325.4" r="1.8" fill="#fff" stroke="#E6148C" stroke-width="1.0"/><circle cx="489.1" cy="322.0" r="1.8" fill="#fff" stroke="#E6148C" stroke-width="1.0"/><circle cx="496.5" cy="323.5" r="1.8" fill="#fff" stroke="#E6148C" stroke-width="1.0"/><circle cx="503.9" cy="322.6" r="1.8" fill="#fff" stroke="#E6148C" stroke-width="1.0"/><circle cx="511.3" cy="322.6" r="1.8" fill="#fff" stroke="#E6148C" stroke-width="1.0"/><circle cx="518.6" cy="325.0" r="1.8" fill="#fff" stroke="#E6148C" stroke-width="1.0"/><circle cx="526.0" cy="319.4" r="1.8" fill="#fff" stroke="#E6148C" stroke-width="1.0"/><circle cx="533.4" cy="319.8" r="1.8" fill="#fff" stroke="#E6148C" stroke-width="1.0"/><circle cx="540.8" cy="317.5" r="1.8" fill="#fff" stroke="#E6148C" stroke-width="1.0"/><circle cx="548.2" cy="320.7" r="1.8" fill="#fff" stroke="#E6148C" stroke-width="1.0"/><circle cx="555.5" cy="331.1" r="1.8" fill="#fff" stroke="#E6148C" stroke-width="1.0"/><circle cx="562.9" cy="322.0" r="1.8" fill="#fff" stroke="#E6148C" stroke-width="1.0"/><circle cx="570.3" cy="324.1" r="1.8" fill="#fff" stroke="#E6148C" stroke-width="1.0"/><circle cx="577.7" cy="326.3" r="1.8" fill="#fff" stroke="#E6148C" stroke-width="1.0"/><circle cx="585.1" cy="326.3" r="1.8" fill="#fff" stroke="#E6148C" stroke-width="1.0"/><circle cx="592.4" cy="323.5" r="1.8" fill="#fff" stroke="#E6148C" stroke-width="1.0"/><circle cx="599.8" cy="329.2" r="1.8" fill="#fff" stroke="#E6148C" stroke-width="1.0"/><circle cx="607.2" cy="328.2" r="1.8" fill="#fff" stroke="#E6148C" stroke-width="1.0"/><circle cx="614.6" cy="321.2" r="1.8" fill="#fff" stroke="#E6148C" stroke-width="1.0"/><circle cx="622.0" cy="326.0" r="1.8" fill="#fff" stroke="#E6148C" stroke-width="1.0"/><circle cx="629.3" cy="325.0" r="1.8" fill="#fff" stroke="#E6148C" stroke-width="1.0"/><circle cx="636.7" cy="325.4" r="1.8" fill="#fff" stroke="#E6148C" stroke-width="1.0"/><circle cx="644.1" cy="326.3" r="1.8" fill="#fff" stroke="#E6148C" stroke-width="1.0"/><circle cx="651.5" cy="324.5" r="1.8" fill="#fff" stroke="#E6148C" stroke-width="1.0"/><circle cx="658.9" cy="322.6" r="1.8" fill="#fff" stroke="#E6148C" stroke-width="1.0"/><circle cx="666.2" cy="322.0" r="1.8" fill="#fff" stroke="#E6148C" stroke-width="1.0"/><circle cx="673.6" cy="326.9" r="1.8" fill="#fff" stroke="#E6148C" stroke-width="1.0"/><circle cx="681.0" cy="323.1" r="1.8" fill="#fff" stroke="#E6148C" stroke-width="1.0"/></g>
<rect x="385.8" y="240.5" width="295.2" height="109.60000000000002" fill="none" stroke="#111" stroke-width="1.3"/>
<line x1="383.40000000000003" x2="385.8" y1="350.10" y2="350.10" stroke="#111" stroke-width="1"/>

<line x1="383.40000000000003" x2="385.8" y1="322.70" y2="322.70" stroke="#111" stroke-width="1"/>

<line x1="383.40000000000003" x2="385.8" y1="295.30" y2="295.30" stroke="#111" stroke-width="1"/>

<line x1="383.40000000000003" x2="385.8" y1="267.90" y2="267.90" stroke="#111" stroke-width="1"/>

<line x1="383.40000000000003" x2="385.8" y1="240.50" y2="240.50" stroke="#111" stroke-width="1"/>

<line x1="393.18" x2="393.18" y1="350.1" y2="352.3" stroke="#111" stroke-width="1"/>

<line x1="430.08" x2="430.08" y1="350.1" y2="352.3" stroke="#111" stroke-width="1"/>

<line x1="466.98" x2="466.98" y1="350.1" y2="352.3" stroke="#111" stroke-width="1"/>

<line x1="503.88" x2="503.88" y1="350.1" y2="352.3" stroke="#111" stroke-width="1"/>

<line x1="540.78" x2="540.78" y1="350.1" y2="352.3" stroke="#111" stroke-width="1"/>

<line x1="577.68" x2="577.68" y1="350.1" y2="352.3" stroke="#111" stroke-width="1"/>

<line x1="614.58" x2="614.58" y1="350.1" y2="352.3" stroke="#111" stroke-width="1"/>

<line x1="651.48" x2="651.48" y1="350.1" y2="352.3" stroke="#111" stroke-width="1"/>











<line x1="432.95" x2="460.95" y1="245.40" y2="245.40" stroke="#1a1a1a" stroke-width="0.9"/>
<circle cx="447.75" cy="245.40" r="1.5" fill="#1a1a1a"/>

<line x1="432.95" x2="460.95" y1="252.10" y2="252.10" stroke="#FA3C3C" stroke-width="0.9"/>
<circle cx="447.75" cy="252.10" r="1.5" fill="#FA3C3C"/>

<line x1="432.95" x2="460.95" y1="259.00" y2="259.00" stroke="#00DC00" stroke-width="0.9"/>
<circle cx="447.75" cy="259.00" r="1.5" fill="#00DC00"/>

<line x1="533.05" x2="560.85" y1="246.60" y2="246.60" stroke="#1E3CFF" stroke-width="0.9"/>
<circle cx="547.75" cy="246.60" r="1.5" fill="#1E3CFF"/>

<line x1="533.05" x2="560.85" y1="253.40" y2="253.40" stroke="#E6148C" stroke-width="0.9"/>
<circle cx="547.75" cy="253.40" r="1.5" fill="#E6148C"/>
<clipPath id="clipJJA"><rect x="34.2" y="382.4" width="295.5" height="110.0"/></clipPath>
<g clip-path="url(#clipJJA)"><polyline fill="none" stroke="#1a1a1a" stroke-width="1.25" points="34.2,477.1 41.6,474.4 49.0,480.5 56.4,473.9 63.8,475.8 71.1,478.2 78.5,475.8 85.9,479.5 93.3,474.8 100.7,475.4 108.1,473.9 115.5,477.6 122.9,477.6 130.2,472.4 137.6,468.8 145.0,469.2 152.4,472.0 159.8,473.5 167.2,470.1 174.6,465.8 181.9,472.0 189.3,472.0 196.7,471.1 204.1,473.3 211.5,472.9 218.9,473.9 226.3,474.8 233.7,471.6 241.1,474.8 248.4,473.9 255.8,475.2 263.2,470.1 270.6,472.0 278.0,473.3 285.4,473.3 292.8,472.0 300.1,470.1 307.5,470.1 314.9,471.4 322.3,472.6 329.7,469.6"/><circle cx="34.2" cy="477.1" r="1.8" fill="#fff" stroke="#1a1a1a" stroke-width="1.0"/><circle cx="41.6" cy="474.4" r="1.8" fill="#fff" stroke="#1a1a1a" stroke-width="1.0"/><circle cx="49.0" cy="480.5" r="1.8" fill="#fff" stroke="#1a1a1a" stroke-width="1.0"/><circle cx="56.4" cy="473.9" r="1.8" fill="#fff" stroke="#1a1a1a" stroke-width="1.0"/><circle cx="63.8" cy="475.8" r="1.8" fill="#fff" stroke="#1a1a1a" stroke-width="1.0"/><circle cx="71.1" cy="478.2" r="1.8" fill="#fff" stroke="#1a1a1a" stroke-width="1.0"/><circle cx="78.5" cy="475.8" r="1.8" fill="#fff" stroke="#1a1a1a" stroke-width="1.0"/><circle cx="85.9" cy="479.5" r="1.8" fill="#fff" stroke="#1a1a1a" stroke-width="1.0"/><circle cx="93.3" cy="474.8" r="1.8" fill="#fff" stroke="#1a1a1a" stroke-width="1.0"/><circle cx="100.7" cy="475.4" r="1.8" fill="#fff" stroke="#1a1a1a" stroke-width="1.0"/><circle cx="108.1" cy="473.9" r="1.8" fill="#fff" stroke="#1a1a1a" stroke-width="1.0"/><circle cx="115.5" cy="477.6" r="1.8" fill="#fff" stroke="#1a1a1a" stroke-width="1.0"/><circle cx="122.9" cy="477.6" r="1.8" fill="#fff" stroke="#1a1a1a" stroke-width="1.0"/><circle cx="130.2" cy="472.4" r="1.8" fill="#fff" stroke="#1a1a1a" stroke-width="1.0"/><circle cx="137.6" cy="468.8" r="1.8" fill="#fff" stroke="#1a1a1a" stroke-width="1.0"/><circle cx="145.0" cy="469.2" r="1.8" fill="#fff" stroke="#1a1a1a" stroke-width="1.0"/><circle cx="152.4" cy="472.0" r="1.8" fill="#fff" stroke="#1a1a1a" stroke-width="1.0"/><circle cx="159.8" cy="473.5" r="1.8" fill="#fff" stroke="#1a1a1a" stroke-width="1.0"/><circle cx="167.2" cy="470.1" r="1.8" fill="#fff" stroke="#1a1a1a" stroke-width="1.0"/><circle cx="174.6" cy="465.8" r="1.8" fill="#fff" stroke="#1a1a1a" stroke-width="1.0"/><circle cx="181.9" cy="472.0" r="1.8" fill="#fff" stroke="#1a1a1a" stroke-width="1.0"/><circle cx="189.3" cy="472.0" r="1.8" fill="#fff" stroke="#1a1a1a" stroke-width="1.0"/><circle cx="196.7" cy="471.1" r="1.8" fill="#fff" stroke="#1a1a1a" stroke-width="1.0"/><circle cx="204.1" cy="473.3" r="1.8" fill="#fff" stroke="#1a1a1a" stroke-width="1.0"/><circle cx="211.5" cy="472.9" r="1.8" fill="#fff" stroke="#1a1a1a" stroke-width="1.0"/><circle cx="218.9" cy="473.9" r="1.8" fill="#fff" stroke="#1a1a1a" stroke-width="1.0"/><circle cx="226.3" cy="474.8" r="1.8" fill="#fff" stroke="#1a1a1a" stroke-width="1.0"/><circle cx="233.7" cy="471.6" r="1.8" fill="#fff" stroke="#1a1a1a" stroke-width="1.0"/><circle cx="241.1" cy="474.8" r="1.8" fill="#fff" stroke="#1a1a1a" stroke-width="1.0"/><circle cx="248.4" cy="473.9" r="1.8" fill="#fff" stroke="#1a1a1a" stroke-width="1.0"/><circle cx="255.8" cy="475.2" r="1.8" fill="#fff" stroke="#1a1a1a" stroke-width="1.0"/><circle cx="263.2" cy="470.1" r="1.8" fill="#fff" stroke="#1a1a1a" stroke-width="1.0"/><circle cx="270.6" cy="472.0" r="1.8" fill="#fff" stroke="#1a1a1a" stroke-width="1.0"/><circle cx="278.0" cy="473.3" r="1.8" fill="#fff" stroke="#1a1a1a" stroke-width="1.0"/><circle cx="285.4" cy="473.3" r="1.8" fill="#fff" stroke="#1a1a1a" stroke-width="1.0"/><circle cx="292.8" cy="472.0" r="1.8" fill="#fff" stroke="#1a1a1a" stroke-width="1.0"/><circle cx="300.1" cy="470.1" r="1.8" fill="#fff" stroke="#1a1a1a" stroke-width="1.0"/><circle cx="307.5" cy="470.1" r="1.8" fill="#fff" stroke="#1a1a1a" stroke-width="1.0"/><circle cx="314.9" cy="471.4" r="1.8" fill="#fff" stroke="#1a1a1a" stroke-width="1.0"/><circle cx="322.3" cy="472.6" r="1.8" fill="#fff" stroke="#1a1a1a" stroke-width="1.0"/><circle cx="329.7" cy="469.6" r="1.8" fill="#fff" stroke="#1a1a1a" stroke-width="1.0"/><polyline fill="none" stroke="#FA3C3C" stroke-width="1.25" points="34.2,416.4 41.6,417.3 49.0,431.9 56.4,417.7 63.8,422.6 71.1,425.8 78.5,419.2 85.9,431.1 93.3,418.1 100.7,419.8 108.1,411.9 115.5,425.2 122.9,424.1 130.2,417.9 137.6,405.1 145.0,408.3 152.4,414.5 159.8,419.6 167.2,407.0 174.6,393.8 181.9,411.5 189.3,415.1 196.7,409.0 204.1,416.8 211.5,413.9 218.9,414.7 226.3,419.6 233.7,409.6 241.1,420.2 248.4,414.9 255.8,424.5 263.2,401.7 270.6,417.3 278.0,412.4 285.4,415.8 292.8,412.1 300.1,403.4 307.5,406.6 314.9,409.4 322.3,412.8 329.7,408.3"/><circle cx="34.2" cy="416.4" r="1.8" fill="#fff" stroke="#FA3C3C" stroke-width="1.0"/><circle cx="41.6" cy="417.3" r="1.8" fill="#fff" stroke="#FA3C3C" stroke-width="1.0"/><circle cx="49.0" cy="431.9" r="1.8" fill="#fff" stroke="#FA3C3C" stroke-width="1.0"/><circle cx="56.4" cy="417.7" r="1.8" fill="#fff" stroke="#FA3C3C" stroke-width="1.0"/><circle cx="63.8" cy="422.6" r="1.8" fill="#fff" stroke="#FA3C3C" stroke-width="1.0"/><circle cx="71.1" cy="425.8" r="1.8" fill="#fff" stroke="#FA3C3C" stroke-width="1.0"/><circle cx="78.5" cy="419.2" r="1.8" fill="#fff" stroke="#FA3C3C" stroke-width="1.0"/><circle cx="85.9" cy="431.1" r="1.8" fill="#fff" stroke="#FA3C3C" stroke-width="1.0"/><circle cx="93.3" cy="418.1" r="1.8" fill="#fff" stroke="#FA3C3C" stroke-width="1.0"/><circle cx="100.7" cy="419.8" r="1.8" fill="#fff" stroke="#FA3C3C" stroke-width="1.0"/><circle cx="108.1" cy="411.9" r="1.8" fill="#fff" stroke="#FA3C3C" stroke-width="1.0"/><circle cx="115.5" cy="425.2" r="1.8" fill="#fff" stroke="#FA3C3C" stroke-width="1.0"/><circle cx="122.9" cy="424.1" r="1.8" fill="#fff" stroke="#FA3C3C" stroke-width="1.0"/><circle cx="130.2" cy="417.9" r="1.8" fill="#fff" stroke="#FA3C3C" stroke-width="1.0"/><circle cx="137.6" cy="405.1" r="1.8" fill="#fff" stroke="#FA3C3C" stroke-width="1.0"/><circle cx="145.0" cy="408.3" r="1.8" fill="#fff" stroke="#FA3C3C" stroke-width="1.0"/><circle cx="152.4" cy="414.5" r="1.8" fill="#fff" stroke="#FA3C3C" stroke-width="1.0"/><circle cx="159.8" cy="419.6" r="1.8" fill="#fff" stroke="#FA3C3C" stroke-width="1.0"/><circle cx="167.2" cy="407.0" r="1.8" fill="#fff" stroke="#FA3C3C" stroke-width="1.0"/><circle cx="174.6" cy="393.8" r="1.8" fill="#fff" stroke="#FA3C3C" stroke-width="1.0"/><circle cx="181.9" cy="411.5" r="1.8" fill="#fff" stroke="#FA3C3C" stroke-width="1.0"/><circle cx="189.3" cy="415.1" r="1.8" fill="#fff" stroke="#FA3C3C" stroke-width="1.0"/><circle cx="196.7" cy="409.0" r="1.8" fill="#fff" stroke="#FA3C3C" stroke-width="1.0"/><circle cx="204.1" cy="416.8" r="1.8" fill="#fff" stroke="#FA3C3C" stroke-width="1.0"/><circle cx="211.5" cy="413.9" r="1.8" fill="#fff" stroke="#FA3C3C" stroke-width="1.0"/><circle cx="218.9" cy="414.7" r="1.8" fill="#fff" stroke="#FA3C3C" stroke-width="1.0"/><circle cx="226.3" cy="419.6" r="1.8" fill="#fff" stroke="#FA3C3C" stroke-width="1.0"/><circle cx="233.7" cy="409.6" r="1.8" fill="#fff" stroke="#FA3C3C" stroke-width="1.0"/><circle cx="241.1" cy="420.2" r="1.8" fill="#fff" stroke="#FA3C3C" stroke-width="1.0"/><circle cx="248.4" cy="414.9" r="1.8" fill="#fff" stroke="#FA3C3C" stroke-width="1.0"/><circle cx="255.8" cy="424.5" r="1.8" fill="#fff" stroke="#FA3C3C" stroke-width="1.0"/><circle cx="263.2" cy="401.7" r="1.8" fill="#fff" stroke="#FA3C3C" stroke-width="1.0"/><circle cx="270.6" cy="417.3" r="1.8" fill="#fff" stroke="#FA3C3C" stroke-width="1.0"/><circle cx="278.0" cy="412.4" r="1.8" fill="#fff" stroke="#FA3C3C" stroke-width="1.0"/><circle cx="285.4" cy="415.8" r="1.8" fill="#fff" stroke="#FA3C3C" stroke-width="1.0"/><circle cx="292.8" cy="412.1" r="1.8" fill="#fff" stroke="#FA3C3C" stroke-width="1.0"/><circle cx="300.1" cy="403.4" r="1.8" fill="#fff" stroke="#FA3C3C" stroke-width="1.0"/><circle cx="307.5" cy="406.6" r="1.8" fill="#fff" stroke="#FA3C3C" stroke-width="1.0"/><circle cx="314.9" cy="409.4" r="1.8" fill="#fff" stroke="#FA3C3C" stroke-width="1.0"/><circle cx="322.3" cy="412.8" r="1.8" fill="#fff" stroke="#FA3C3C" stroke-width="1.0"/><circle cx="329.7" cy="408.3" r="1.8" fill="#fff" stroke="#FA3C3C" stroke-width="1.0"/><polyline fill="none" stroke="#00DC00" stroke-width="1.25" points="34.2,450.7 41.6,439.9 49.0,457.3 56.4,452.8 63.8,453.5 71.1,456.4 78.5,447.7 85.9,462.6 93.3,450.7 100.7,446.0 108.1,447.9 115.5,454.7 122.9,449.4 130.2,439.9 137.6,445.6 145.0,438.1 152.4,436.6 159.8,444.7 167.2,436.6 174.6,441.3 181.9,444.7 189.3,444.3 196.7,440.1 204.1,440.3 211.5,450.7 218.9,446.2 226.3,446.7 233.7,444.9 241.1,447.9 248.4,450.7 255.8,453.7 263.2,444.1 270.6,450.3 278.0,450.7 285.4,453.5 292.8,439.6 300.1,447.5 307.5,442.2 314.9,439.9 322.3,442.8 329.7,435.2"/><circle cx="34.2" cy="450.7" r="1.8" fill="#fff" stroke="#00DC00" stroke-width="1.0"/><circle cx="41.6" cy="439.9" r="1.8" fill="#fff" stroke="#00DC00" stroke-width="1.0"/><circle cx="49.0" cy="457.3" r="1.8" fill="#fff" stroke="#00DC00" stroke-width="1.0"/><circle cx="56.4" cy="452.8" r="1.8" fill="#fff" stroke="#00DC00" stroke-width="1.0"/><circle cx="63.8" cy="453.5" r="1.8" fill="#fff" stroke="#00DC00" stroke-width="1.0"/><circle cx="71.1" cy="456.4" r="1.8" fill="#fff" stroke="#00DC00" stroke-width="1.0"/><circle cx="78.5" cy="447.7" r="1.8" fill="#fff" stroke="#00DC00" stroke-width="1.0"/><circle cx="85.9" cy="462.6" r="1.8" fill="#fff" stroke="#00DC00" stroke-width="1.0"/><circle cx="93.3" cy="450.7" r="1.8" fill="#fff" stroke="#00DC00" stroke-width="1.0"/><circle cx="100.7" cy="446.0" r="1.8" fill="#fff" stroke="#00DC00" stroke-width="1.0"/><circle cx="108.1" cy="447.9" r="1.8" fill="#fff" stroke="#00DC00" stroke-width="1.0"/><circle cx="115.5" cy="454.7" r="1.8" fill="#fff" stroke="#00DC00" stroke-width="1.0"/><circle cx="122.9" cy="449.4" r="1.8" fill="#fff" stroke="#00DC00" stroke-width="1.0"/><circle cx="130.2" cy="439.9" r="1.8" fill="#fff" stroke="#00DC00" stroke-width="1.0"/><circle cx="137.6" cy="445.6" r="1.8" fill="#fff" stroke="#00DC00" stroke-width="1.0"/><circle cx="145.0" cy="438.1" r="1.8" fill="#fff" stroke="#00DC00" stroke-width="1.0"/><circle cx="152.4" cy="436.6" r="1.8" fill="#fff" stroke="#00DC00" stroke-width="1.0"/><circle cx="159.8" cy="444.7" r="1.8" fill="#fff" stroke="#00DC00" stroke-width="1.0"/><circle cx="167.2" cy="436.6" r="1.8" fill="#fff" stroke="#00DC00" stroke-width="1.0"/><circle cx="174.6" cy="441.3" r="1.8" fill="#fff" stroke="#00DC00" stroke-width="1.0"/><circle cx="181.9" cy="444.7" r="1.8" fill="#fff" stroke="#00DC00" stroke-width="1.0"/><circle cx="189.3" cy="444.3" r="1.8" fill="#fff" stroke="#00DC00" stroke-width="1.0"/><circle cx="196.7" cy="440.1" r="1.8" fill="#fff" stroke="#00DC00" stroke-width="1.0"/><circle cx="204.1" cy="440.3" r="1.8" fill="#fff" stroke="#00DC00" stroke-width="1.0"/><circle cx="211.5" cy="450.7" r="1.8" fill="#fff" stroke="#00DC00" stroke-width="1.0"/><circle cx="218.9" cy="446.2" r="1.8" fill="#fff" stroke="#00DC00" stroke-width="1.0"/><circle cx="226.3" cy="446.7" r="1.8" fill="#fff" stroke="#00DC00" stroke-width="1.0"/><circle cx="233.7" cy="444.9" r="1.8" fill="#fff" stroke="#00DC00" stroke-width="1.0"/><circle cx="241.1" cy="447.9" r="1.8" fill="#fff" stroke="#00DC00" stroke-width="1.0"/><circle cx="248.4" cy="450.7" r="1.8" fill="#fff" stroke="#00DC00" stroke-width="1.0"/><circle cx="255.8" cy="453.7" r="1.8" fill="#fff" stroke="#00DC00" stroke-width="1.0"/><circle cx="263.2" cy="444.1" r="1.8" fill="#fff" stroke="#00DC00" stroke-width="1.0"/><circle cx="270.6" cy="450.3" r="1.8" fill="#fff" stroke="#00DC00" stroke-width="1.0"/><circle cx="278.0" cy="450.7" r="1.8" fill="#fff" stroke="#00DC00" stroke-width="1.0"/><circle cx="285.4" cy="453.5" r="1.8" fill="#fff" stroke="#00DC00" stroke-width="1.0"/><circle cx="292.8" cy="439.6" r="1.8" fill="#fff" stroke="#00DC00" stroke-width="1.0"/><circle cx="300.1" cy="447.5" r="1.8" fill="#fff" stroke="#00DC00" stroke-width="1.0"/><circle cx="307.5" cy="442.2" r="1.8" fill="#fff" stroke="#00DC00" stroke-width="1.0"/><circle cx="314.9" cy="439.9" r="1.8" fill="#fff" stroke="#00DC00" stroke-width="1.0"/><circle cx="322.3" cy="442.8" r="1.8" fill="#fff" stroke="#00DC00" stroke-width="1.0"/><circle cx="329.7" cy="435.2" r="1.8" fill="#fff" stroke="#00DC00" stroke-width="1.0"/><polyline fill="none" stroke="#1E3CFF" stroke-width="1.25" points="34.2,482.0 41.6,482.4 49.0,484.2 56.4,477.1 63.8,479.5 71.1,482.0 78.5,481.1 85.9,482.0 93.3,478.0 100.7,480.1 108.1,477.6 115.5,482.0 122.9,482.4 130.2,477.6 137.6,470.1 145.0,472.6 152.4,478.6 159.8,479.0 167.2,475.8 174.6,467.3 181.9,476.1 189.3,476.7 196.7,476.3 204.1,480.1 211.5,475.2 218.9,477.1 226.3,478.2 233.7,474.8 241.1,480.5 248.4,476.7 255.8,477.6 263.2,472.9 270.6,474.3 278.0,476.3 285.4,475.2 292.8,477.1 300.1,472.9 307.5,473.9 314.9,476.1 322.3,477.1 329.7,474.4"/><circle cx="34.2" cy="482.0" r="1.8" fill="#fff" stroke="#1E3CFF" stroke-width="1.0"/><circle cx="41.6" cy="482.4" r="1.8" fill="#fff" stroke="#1E3CFF" stroke-width="1.0"/><circle cx="49.0" cy="484.2" r="1.8" fill="#fff" stroke="#1E3CFF" stroke-width="1.0"/><circle cx="56.4" cy="477.1" r="1.8" fill="#fff" stroke="#1E3CFF" stroke-width="1.0"/><circle cx="63.8" cy="479.5" r="1.8" fill="#fff" stroke="#1E3CFF" stroke-width="1.0"/><circle cx="71.1" cy="482.0" r="1.8" fill="#fff" stroke="#1E3CFF" stroke-width="1.0"/><circle cx="78.5" cy="481.1" r="1.8" fill="#fff" stroke="#1E3CFF" stroke-width="1.0"/><circle cx="85.9" cy="482.0" r="1.8" fill="#fff" stroke="#1E3CFF" stroke-width="1.0"/><circle cx="93.3" cy="478.0" r="1.8" fill="#fff" stroke="#1E3CFF" stroke-width="1.0"/><circle cx="100.7" cy="480.1" r="1.8" fill="#fff" stroke="#1E3CFF" stroke-width="1.0"/><circle cx="108.1" cy="477.6" r="1.8" fill="#fff" stroke="#1E3CFF" stroke-width="1.0"/><circle cx="115.5" cy="482.0" r="1.8" fill="#fff" stroke="#1E3CFF" stroke-width="1.0"/><circle cx="122.9" cy="482.4" r="1.8" fill="#fff" stroke="#1E3CFF" stroke-width="1.0"/><circle cx="130.2" cy="477.6" r="1.8" fill="#fff" stroke="#1E3CFF" stroke-width="1.0"/><circle cx="137.6" cy="470.1" r="1.8" fill="#fff" stroke="#1E3CFF" stroke-width="1.0"/><circle cx="145.0" cy="472.6" r="1.8" fill="#fff" stroke="#1E3CFF" stroke-width="1.0"/><circle cx="152.4" cy="478.6" r="1.8" fill="#fff" stroke="#1E3CFF" stroke-width="1.0"/><circle cx="159.8" cy="479.0" r="1.8" fill="#fff" stroke="#1E3CFF" stroke-width="1.0"/><circle cx="167.2" cy="475.8" r="1.8" fill="#fff" stroke="#1E3CFF" stroke-width="1.0"/><circle cx="174.6" cy="467.3" r="1.8" fill="#fff" stroke="#1E3CFF" stroke-width="1.0"/><circle cx="181.9" cy="476.1" r="1.8" fill="#fff" stroke="#1E3CFF" stroke-width="1.0"/><circle cx="189.3" cy="476.7" r="1.8" fill="#fff" stroke="#1E3CFF" stroke-width="1.0"/><circle cx="196.7" cy="476.3" r="1.8" fill="#fff" stroke="#1E3CFF" stroke-width="1.0"/><circle cx="204.1" cy="480.1" r="1.8" fill="#fff" stroke="#1E3CFF" stroke-width="1.0"/><circle cx="211.5" cy="475.2" r="1.8" fill="#fff" stroke="#1E3CFF" stroke-width="1.0"/><circle cx="218.9" cy="477.1" r="1.8" fill="#fff" stroke="#1E3CFF" stroke-width="1.0"/><circle cx="226.3" cy="478.2" r="1.8" fill="#fff" stroke="#1E3CFF" stroke-width="1.0"/><circle cx="233.7" cy="474.8" r="1.8" fill="#fff" stroke="#1E3CFF" stroke-width="1.0"/><circle cx="241.1" cy="480.5" r="1.8" fill="#fff" stroke="#1E3CFF" stroke-width="1.0"/><circle cx="248.4" cy="476.7" r="1.8" fill="#fff" stroke="#1E3CFF" stroke-width="1.0"/><circle cx="255.8" cy="477.6" r="1.8" fill="#fff" stroke="#1E3CFF" stroke-width="1.0"/><circle cx="263.2" cy="472.9" r="1.8" fill="#fff" stroke="#1E3CFF" stroke-width="1.0"/><circle cx="270.6" cy="474.3" r="1.8" fill="#fff" stroke="#1E3CFF" stroke-width="1.0"/><circle cx="278.0" cy="476.3" r="1.8" fill="#fff" stroke="#1E3CFF" stroke-width="1.0"/><circle cx="285.4" cy="475.2" r="1.8" fill="#fff" stroke="#1E3CFF" stroke-width="1.0"/><circle cx="292.8" cy="477.1" r="1.8" fill="#fff" stroke="#1E3CFF" stroke-width="1.0"/><circle cx="300.1" cy="472.9" r="1.8" fill="#fff" stroke="#1E3CFF" stroke-width="1.0"/><circle cx="307.5" cy="473.9" r="1.8" fill="#fff" stroke="#1E3CFF" stroke-width="1.0"/><circle cx="314.9" cy="476.1" r="1.8" fill="#fff" stroke="#1E3CFF" stroke-width="1.0"/><circle cx="322.3" cy="477.1" r="1.8" fill="#fff" stroke="#1E3CFF" stroke-width="1.0"/><circle cx="329.7" cy="474.4" r="1.8" fill="#fff" stroke="#1E3CFF" stroke-width="1.0"/><polyline fill="none" stroke="#E6148C" stroke-width="1.25" points="34.2,472.9 41.6,471.1 49.0,477.6 56.4,471.1 63.8,472.9 71.1,475.4 78.5,472.9 85.9,477.1 93.3,471.6 100.7,471.6 108.1,470.1 115.5,475.4 122.9,474.1 130.2,468.2 137.6,465.0 145.0,465.0 152.4,468.2 159.8,470.1 167.2,466.0 174.6,461.2 181.9,468.2 189.3,468.2 196.7,467.3 204.1,469.2 211.5,468.8 218.9,469.6 226.3,471.1 233.7,467.7 241.1,472.0 248.4,470.7 255.8,472.0 263.2,466.9 270.6,469.2 278.0,470.7 285.4,470.1 292.8,467.7 300.1,467.3 307.5,466.3 314.9,467.9 322.3,468.8 329.7,465.4"/><circle cx="34.2" cy="472.9" r="1.8" fill="#fff" stroke="#E6148C" stroke-width="1.0"/><circle cx="41.6" cy="471.1" r="1.8" fill="#fff" stroke="#E6148C" stroke-width="1.0"/><circle cx="49.0" cy="477.6" r="1.8" fill="#fff" stroke="#E6148C" stroke-width="1.0"/><circle cx="56.4" cy="471.1" r="1.8" fill="#fff" stroke="#E6148C" stroke-width="1.0"/><circle cx="63.8" cy="472.9" r="1.8" fill="#fff" stroke="#E6148C" stroke-width="1.0"/><circle cx="71.1" cy="475.4" r="1.8" fill="#fff" stroke="#E6148C" stroke-width="1.0"/><circle cx="78.5" cy="472.9" r="1.8" fill="#fff" stroke="#E6148C" stroke-width="1.0"/><circle cx="85.9" cy="477.1" r="1.8" fill="#fff" stroke="#E6148C" stroke-width="1.0"/><circle cx="93.3" cy="471.6" r="1.8" fill="#fff" stroke="#E6148C" stroke-width="1.0"/><circle cx="100.7" cy="471.6" r="1.8" fill="#fff" stroke="#E6148C" stroke-width="1.0"/><circle cx="108.1" cy="470.1" r="1.8" fill="#fff" stroke="#E6148C" stroke-width="1.0"/><circle cx="115.5" cy="475.4" r="1.8" fill="#fff" stroke="#E6148C" stroke-width="1.0"/><circle cx="122.9" cy="474.1" r="1.8" fill="#fff" stroke="#E6148C" stroke-width="1.0"/><circle cx="130.2" cy="468.2" r="1.8" fill="#fff" stroke="#E6148C" stroke-width="1.0"/><circle cx="137.6" cy="465.0" r="1.8" fill="#fff" stroke="#E6148C" stroke-width="1.0"/><circle cx="145.0" cy="465.0" r="1.8" fill="#fff" stroke="#E6148C" stroke-width="1.0"/><circle cx="152.4" cy="468.2" r="1.8" fill="#fff" stroke="#E6148C" stroke-width="1.0"/><circle cx="159.8" cy="470.1" r="1.8" fill="#fff" stroke="#E6148C" stroke-width="1.0"/><circle cx="167.2" cy="466.0" r="1.8" fill="#fff" stroke="#E6148C" stroke-width="1.0"/><circle cx="174.6" cy="461.2" r="1.8" fill="#fff" stroke="#E6148C" stroke-width="1.0"/><circle cx="181.9" cy="468.2" r="1.8" fill="#fff" stroke="#E6148C" stroke-width="1.0"/><circle cx="189.3" cy="468.2" r="1.8" fill="#fff" stroke="#E6148C" stroke-width="1.0"/><circle cx="196.7" cy="467.3" r="1.8" fill="#fff" stroke="#E6148C" stroke-width="1.0"/><circle cx="204.1" cy="469.2" r="1.8" fill="#fff" stroke="#E6148C" stroke-width="1.0"/><circle cx="211.5" cy="468.8" r="1.8" fill="#fff" stroke="#E6148C" stroke-width="1.0"/><circle cx="218.9" cy="469.6" r="1.8" fill="#fff" stroke="#E6148C" stroke-width="1.0"/><circle cx="226.3" cy="471.1" r="1.8" fill="#fff" stroke="#E6148C" stroke-width="1.0"/><circle cx="233.7" cy="467.7" r="1.8" fill="#fff" stroke="#E6148C" stroke-width="1.0"/><circle cx="241.1" cy="472.0" r="1.8" fill="#fff" stroke="#E6148C" stroke-width="1.0"/><circle cx="248.4" cy="470.7" r="1.8" fill="#fff" stroke="#E6148C" stroke-width="1.0"/><circle cx="255.8" cy="472.0" r="1.8" fill="#fff" stroke="#E6148C" stroke-width="1.0"/><circle cx="263.2" cy="466.9" r="1.8" fill="#fff" stroke="#E6148C" stroke-width="1.0"/><circle cx="270.6" cy="469.2" r="1.8" fill="#fff" stroke="#E6148C" stroke-width="1.0"/><circle cx="278.0" cy="470.7" r="1.8" fill="#fff" stroke="#E6148C" stroke-width="1.0"/><circle cx="285.4" cy="470.1" r="1.8" fill="#fff" stroke="#E6148C" stroke-width="1.0"/><circle cx="292.8" cy="467.7" r="1.8" fill="#fff" stroke="#E6148C" stroke-width="1.0"/><circle cx="300.1" cy="467.3" r="1.8" fill="#fff" stroke="#E6148C" stroke-width="1.0"/><circle cx="307.5" cy="466.3" r="1.8" fill="#fff" stroke="#E6148C" stroke-width="1.0"/><circle cx="314.9" cy="467.9" r="1.8" fill="#fff" stroke="#E6148C" stroke-width="1.0"/><circle cx="322.3" cy="468.8" r="1.8" fill="#fff" stroke="#E6148C" stroke-width="1.0"/><circle cx="329.7" cy="465.4" r="1.8" fill="#fff" stroke="#E6148C" stroke-width="1.0"/></g>
<rect x="34.2" y="382.4" width="295.5" height="110.0" fill="none" stroke="#111" stroke-width="1.3"/>
<line x1="31.800000000000004" x2="34.2" y1="492.40" y2="492.40" stroke="#111" stroke-width="1"/>

<line x1="31.800000000000004" x2="34.2" y1="470.40" y2="470.40" stroke="#111" stroke-width="1"/>

<line x1="31.800000000000004" x2="34.2" y1="448.40" y2="448.40" stroke="#111" stroke-width="1"/>

<line x1="31.800000000000004" x2="34.2" y1="426.40" y2="426.40" stroke="#111" stroke-width="1"/>

<line x1="31.800000000000004" x2="34.2" y1="404.40" y2="404.40" stroke="#111" stroke-width="1"/>

<line x1="31.800000000000004" x2="34.2" y1="382.40" y2="382.40" stroke="#111" stroke-width="1"/>

<line x1="41.59" x2="41.59" y1="492.4" y2="494.59999999999997" stroke="#111" stroke-width="1"/>

<line x1="78.53" x2="78.53" y1="492.4" y2="494.59999999999997" stroke="#111" stroke-width="1"/>

<line x1="115.46" x2="115.46" y1="492.4" y2="494.59999999999997" stroke="#111" stroke-width="1"/>

<line x1="152.40" x2="152.40" y1="492.4" y2="494.59999999999997" stroke="#111" stroke-width="1"/>

<line x1="189.34" x2="189.34" y1="492.4" y2="494.59999999999997" stroke="#111" stroke-width="1"/>

<line x1="226.28" x2="226.28" y1="492.4" y2="494.59999999999997" stroke="#111" stroke-width="1"/>

<line x1="263.21" x2="263.21" y1="492.4" y2="494.59999999999997" stroke="#111" stroke-width="1"/>

<line x1="300.15" x2="300.15" y1="492.4" y2="494.59999999999997" stroke="#111" stroke-width="1"/>











<line x1="81.35" x2="109.35" y1="387.30" y2="387.30" stroke="#1a1a1a" stroke-width="0.9"/>
<circle cx="96.15" cy="387.30" r="1.5" fill="#1a1a1a"/>

<line x1="81.35" x2="109.35" y1="394.00" y2="394.00" stroke="#FA3C3C" stroke-width="0.9"/>
<circle cx="96.15" cy="394.00" r="1.5" fill="#FA3C3C"/>

<line x1="81.35" x2="109.35" y1="400.90" y2="400.90" stroke="#00DC00" stroke-width="0.9"/>
<circle cx="96.15" cy="400.90" r="1.5" fill="#00DC00"/>

<line x1="181.45" x2="209.25" y1="388.50" y2="388.50" stroke="#1E3CFF" stroke-width="0.9"/>
<circle cx="196.15" cy="388.50" r="1.5" fill="#1E3CFF"/>

<line x1="181.45" x2="209.25" y1="395.30" y2="395.30" stroke="#E6148C" stroke-width="0.9"/>
<circle cx="196.15" cy="395.30" r="1.5" fill="#E6148C"/>
<clipPath id="clipSON"><rect x="386.8" y="382.5" width="295.2" height="110.0"/></clipPath>
<g clip-path="url(#clipSON)"><polyline fill="none" stroke="#1a1a1a" stroke-width="1.25" points="386.8,476.4 394.2,475.1 401.6,476.6 408.9,476.1 416.3,477.0 423.7,479.8 431.1,476.1 438.5,478.3 445.8,472.7 453.2,478.9 460.6,477.6 468.0,476.4 475.4,471.3 482.7,472.7 490.1,469.5 497.5,471.3 504.9,468.5 512.3,472.7 519.6,469.5 527.0,468.5 534.4,471.0 541.8,471.0 549.2,471.0 556.5,474.2 563.9,477.0 571.3,476.1 578.7,472.3 586.1,471.9 593.4,472.3 600.8,472.7 608.2,472.3 615.6,473.2 623.0,473.2 630.3,473.2 637.7,474.2 645.1,471.9 652.5,468.5 659.9,471.3 667.2,472.7 674.6,470.8 682.0,472.7"/><circle cx="386.8" cy="476.4" r="1.8" fill="#fff" stroke="#1a1a1a" stroke-width="1.0"/><circle cx="394.2" cy="475.1" r="1.8" fill="#fff" stroke="#1a1a1a" stroke-width="1.0"/><circle cx="401.6" cy="476.6" r="1.8" fill="#fff" stroke="#1a1a1a" stroke-width="1.0"/><circle cx="408.9" cy="476.1" r="1.8" fill="#fff" stroke="#1a1a1a" stroke-width="1.0"/><circle cx="416.3" cy="477.0" r="1.8" fill="#fff" stroke="#1a1a1a" stroke-width="1.0"/><circle cx="423.7" cy="479.8" r="1.8" fill="#fff" stroke="#1a1a1a" stroke-width="1.0"/><circle cx="431.1" cy="476.1" r="1.8" fill="#fff" stroke="#1a1a1a" stroke-width="1.0"/><circle cx="438.5" cy="478.3" r="1.8" fill="#fff" stroke="#1a1a1a" stroke-width="1.0"/><circle cx="445.8" cy="472.7" r="1.8" fill="#fff" stroke="#1a1a1a" stroke-width="1.0"/><circle cx="453.2" cy="478.9" r="1.8" fill="#fff" stroke="#1a1a1a" stroke-width="1.0"/><circle cx="460.6" cy="477.6" r="1.8" fill="#fff" stroke="#1a1a1a" stroke-width="1.0"/><circle cx="468.0" cy="476.4" r="1.8" fill="#fff" stroke="#1a1a1a" stroke-width="1.0"/><circle cx="475.4" cy="471.3" r="1.8" fill="#fff" stroke="#1a1a1a" stroke-width="1.0"/><circle cx="482.7" cy="472.7" r="1.8" fill="#fff" stroke="#1a1a1a" stroke-width="1.0"/><circle cx="490.1" cy="469.5" r="1.8" fill="#fff" stroke="#1a1a1a" stroke-width="1.0"/><circle cx="497.5" cy="471.3" r="1.8" fill="#fff" stroke="#1a1a1a" stroke-width="1.0"/><circle cx="504.9" cy="468.5" r="1.8" fill="#fff" stroke="#1a1a1a" stroke-width="1.0"/><circle cx="512.3" cy="472.7" r="1.8" fill="#fff" stroke="#1a1a1a" stroke-width="1.0"/><circle cx="519.6" cy="469.5" r="1.8" fill="#fff" stroke="#1a1a1a" stroke-width="1.0"/><circle cx="527.0" cy="468.5" r="1.8" fill="#fff" stroke="#1a1a1a" stroke-width="1.0"/><circle cx="534.4" cy="471.0" r="1.8" fill="#fff" stroke="#1a1a1a" stroke-width="1.0"/><circle cx="541.8" cy="471.0" r="1.8" fill="#fff" stroke="#1a1a1a" stroke-width="1.0"/><circle cx="549.2" cy="471.0" r="1.8" fill="#fff" stroke="#1a1a1a" stroke-width="1.0"/><circle cx="556.5" cy="474.2" r="1.8" fill="#fff" stroke="#1a1a1a" stroke-width="1.0"/><circle cx="563.9" cy="477.0" r="1.8" fill="#fff" stroke="#1a1a1a" stroke-width="1.0"/><circle cx="571.3" cy="476.1" r="1.8" fill="#fff" stroke="#1a1a1a" stroke-width="1.0"/><circle cx="578.7" cy="472.3" r="1.8" fill="#fff" stroke="#1a1a1a" stroke-width="1.0"/><circle cx="586.1" cy="471.9" r="1.8" fill="#fff" stroke="#1a1a1a" stroke-width="1.0"/><circle cx="593.4" cy="472.3" r="1.8" fill="#fff" stroke="#1a1a1a" stroke-width="1.0"/><circle cx="600.8" cy="472.7" r="1.8" fill="#fff" stroke="#1a1a1a" stroke-width="1.0"/><circle cx="608.2" cy="472.3" r="1.8" fill="#fff" stroke="#1a1a1a" stroke-width="1.0"/><circle cx="615.6" cy="473.2" r="1.8" fill="#fff" stroke="#1a1a1a" stroke-width="1.0"/><circle cx="623.0" cy="473.2" r="1.8" fill="#fff" stroke="#1a1a1a" stroke-width="1.0"/><circle cx="630.3" cy="473.2" r="1.8" fill="#fff" stroke="#1a1a1a" stroke-width="1.0"/><circle cx="637.7" cy="474.2" r="1.8" fill="#fff" stroke="#1a1a1a" stroke-width="1.0"/><circle cx="645.1" cy="471.9" r="1.8" fill="#fff" stroke="#1a1a1a" stroke-width="1.0"/><circle cx="652.5" cy="468.5" r="1.8" fill="#fff" stroke="#1a1a1a" stroke-width="1.0"/><circle cx="659.9" cy="471.3" r="1.8" fill="#fff" stroke="#1a1a1a" stroke-width="1.0"/><circle cx="667.2" cy="472.7" r="1.8" fill="#fff" stroke="#1a1a1a" stroke-width="1.0"/><circle cx="674.6" cy="470.8" r="1.8" fill="#fff" stroke="#1a1a1a" stroke-width="1.0"/><circle cx="682.0" cy="472.7" r="1.8" fill="#fff" stroke="#1a1a1a" stroke-width="1.0"/><polyline fill="none" stroke="#FA3C3C" stroke-width="1.25" points="386.8,428.9 394.2,425.7 401.6,423.8 408.9,427.8 416.3,429.5 423.7,436.9 431.1,418.8 438.5,429.9 445.8,414.6 453.2,434.0 460.6,427.1 468.0,419.9 475.4,420.8 482.7,423.8 490.1,409.7 497.5,422.9 504.9,408.8 512.3,428.6 519.6,415.9 527.0,407.4 534.4,412.9 541.8,420.3 549.2,412.5 556.5,430.1 563.9,428.6 571.3,425.9 578.7,422.1 586.1,414.6 593.4,418.6 600.8,410.5 608.2,424.8 615.6,416.1 623.0,422.0 630.3,422.9 637.7,423.6 645.1,419.9 652.5,405.9 659.9,422.7 667.2,421.4 674.6,412.1 682.0,424.8"/><circle cx="386.8" cy="428.9" r="1.8" fill="#fff" stroke="#FA3C3C" stroke-width="1.0"/><circle cx="394.2" cy="425.7" r="1.8" fill="#fff" stroke="#FA3C3C" stroke-width="1.0"/><circle cx="401.6" cy="423.8" r="1.8" fill="#fff" stroke="#FA3C3C" stroke-width="1.0"/><circle cx="408.9" cy="427.8" r="1.8" fill="#fff" stroke="#FA3C3C" stroke-width="1.0"/><circle cx="416.3" cy="429.5" r="1.8" fill="#fff" stroke="#FA3C3C" stroke-width="1.0"/><circle cx="423.7" cy="436.9" r="1.8" fill="#fff" stroke="#FA3C3C" stroke-width="1.0"/><circle cx="431.1" cy="418.8" r="1.8" fill="#fff" stroke="#FA3C3C" stroke-width="1.0"/><circle cx="438.5" cy="429.9" r="1.8" fill="#fff" stroke="#FA3C3C" stroke-width="1.0"/><circle cx="445.8" cy="414.6" r="1.8" fill="#fff" stroke="#FA3C3C" stroke-width="1.0"/><circle cx="453.2" cy="434.0" r="1.8" fill="#fff" stroke="#FA3C3C" stroke-width="1.0"/><circle cx="460.6" cy="427.1" r="1.8" fill="#fff" stroke="#FA3C3C" stroke-width="1.0"/><circle cx="468.0" cy="419.9" r="1.8" fill="#fff" stroke="#FA3C3C" stroke-width="1.0"/><circle cx="475.4" cy="420.8" r="1.8" fill="#fff" stroke="#FA3C3C" stroke-width="1.0"/><circle cx="482.7" cy="423.8" r="1.8" fill="#fff" stroke="#FA3C3C" stroke-width="1.0"/><circle cx="490.1" cy="409.7" r="1.8" fill="#fff" stroke="#FA3C3C" stroke-width="1.0"/><circle cx="497.5" cy="422.9" r="1.8" fill="#fff" stroke="#FA3C3C" stroke-width="1.0"/><circle cx="504.9" cy="408.8" r="1.8" fill="#fff" stroke="#FA3C3C" stroke-width="1.0"/><circle cx="512.3" cy="428.6" r="1.8" fill="#fff" stroke="#FA3C3C" stroke-width="1.0"/><circle cx="519.6" cy="415.9" r="1.8" fill="#fff" stroke="#FA3C3C" stroke-width="1.0"/><circle cx="527.0" cy="407.4" r="1.8" fill="#fff" stroke="#FA3C3C" stroke-width="1.0"/><circle cx="534.4" cy="412.9" r="1.8" fill="#fff" stroke="#FA3C3C" stroke-width="1.0"/><circle cx="541.8" cy="420.3" r="1.8" fill="#fff" stroke="#FA3C3C" stroke-width="1.0"/><circle cx="549.2" cy="412.5" r="1.8" fill="#fff" stroke="#FA3C3C" stroke-width="1.0"/><circle cx="556.5" cy="430.1" r="1.8" fill="#fff" stroke="#FA3C3C" stroke-width="1.0"/><circle cx="563.9" cy="428.6" r="1.8" fill="#fff" stroke="#FA3C3C" stroke-width="1.0"/><circle cx="571.3" cy="425.9" r="1.8" fill="#fff" stroke="#FA3C3C" stroke-width="1.0"/><circle cx="578.7" cy="422.1" r="1.8" fill="#fff" stroke="#FA3C3C" stroke-width="1.0"/><circle cx="586.1" cy="414.6" r="1.8" fill="#fff" stroke="#FA3C3C" stroke-width="1.0"/><circle cx="593.4" cy="418.6" r="1.8" fill="#fff" stroke="#FA3C3C" stroke-width="1.0"/><circle cx="600.8" cy="410.5" r="1.8" fill="#fff" stroke="#FA3C3C" stroke-width="1.0"/><circle cx="608.2" cy="424.8" r="1.8" fill="#fff" stroke="#FA3C3C" stroke-width="1.0"/><circle cx="615.6" cy="416.1" r="1.8" fill="#fff" stroke="#FA3C3C" stroke-width="1.0"/><circle cx="623.0" cy="422.0" r="1.8" fill="#fff" stroke="#FA3C3C" stroke-width="1.0"/><circle cx="630.3" cy="422.9" r="1.8" fill="#fff" stroke="#FA3C3C" stroke-width="1.0"/><circle cx="637.7" cy="423.6" r="1.8" fill="#fff" stroke="#FA3C3C" stroke-width="1.0"/><circle cx="645.1" cy="419.9" r="1.8" fill="#fff" stroke="#FA3C3C" stroke-width="1.0"/><circle cx="652.5" cy="405.9" r="1.8" fill="#fff" stroke="#FA3C3C" stroke-width="1.0"/><circle cx="659.9" cy="422.7" r="1.8" fill="#fff" stroke="#FA3C3C" stroke-width="1.0"/><circle cx="667.2" cy="421.4" r="1.8" fill="#fff" stroke="#FA3C3C" stroke-width="1.0"/><circle cx="674.6" cy="412.1" r="1.8" fill="#fff" stroke="#FA3C3C" stroke-width="1.0"/><circle cx="682.0" cy="424.8" r="1.8" fill="#fff" stroke="#FA3C3C" stroke-width="1.0"/><polyline fill="none" stroke="#00DC00" stroke-width="1.25" points="386.8,463.8 394.2,457.8 401.6,466.6 408.9,468.1 416.3,470.4 423.7,471.7 431.1,467.8 438.5,464.8 445.8,462.3 453.2,468.1 460.6,466.6 468.0,466.6 475.4,458.5 482.7,462.9 490.1,459.1 497.5,460.0 504.9,458.1 512.3,467.2 519.6,461.0 527.0,456.1 534.4,461.0 541.8,455.3 549.2,460.4 556.5,460.0 563.9,467.2 571.3,467.2 578.7,454.4 586.1,460.0 593.4,458.7 600.8,460.6 608.2,461.4 615.6,466.2 623.0,461.9 630.3,459.7 637.7,461.4 645.1,458.7 652.5,459.1 659.9,457.2 667.2,464.8 674.6,465.3 682.0,461.9"/><circle cx="386.8" cy="463.8" r="1.8" fill="#fff" stroke="#00DC00" stroke-width="1.0"/><circle cx="394.2" cy="457.8" r="1.8" fill="#fff" stroke="#00DC00" stroke-width="1.0"/><circle cx="401.6" cy="466.6" r="1.8" fill="#fff" stroke="#00DC00" stroke-width="1.0"/><circle cx="408.9" cy="468.1" r="1.8" fill="#fff" stroke="#00DC00" stroke-width="1.0"/><circle cx="416.3" cy="470.4" r="1.8" fill="#fff" stroke="#00DC00" stroke-width="1.0"/><circle cx="423.7" cy="471.7" r="1.8" fill="#fff" stroke="#00DC00" stroke-width="1.0"/><circle cx="431.1" cy="467.8" r="1.8" fill="#fff" stroke="#00DC00" stroke-width="1.0"/><circle cx="438.5" cy="464.8" r="1.8" fill="#fff" stroke="#00DC00" stroke-width="1.0"/><circle cx="445.8" cy="462.3" r="1.8" fill="#fff" stroke="#00DC00" stroke-width="1.0"/><circle cx="453.2" cy="468.1" r="1.8" fill="#fff" stroke="#00DC00" stroke-width="1.0"/><circle cx="460.6" cy="466.6" r="1.8" fill="#fff" stroke="#00DC00" stroke-width="1.0"/><circle cx="468.0" cy="466.6" r="1.8" fill="#fff" stroke="#00DC00" stroke-width="1.0"/><circle cx="475.4" cy="458.5" r="1.8" fill="#fff" stroke="#00DC00" stroke-width="1.0"/><circle cx="482.7" cy="462.9" r="1.8" fill="#fff" stroke="#00DC00" stroke-width="1.0"/><circle cx="490.1" cy="459.1" r="1.8" fill="#fff" stroke="#00DC00" stroke-width="1.0"/><circle cx="497.5" cy="460.0" r="1.8" fill="#fff" stroke="#00DC00" stroke-width="1.0"/><circle cx="504.9" cy="458.1" r="1.8" fill="#fff" stroke="#00DC00" stroke-width="1.0"/><circle cx="512.3" cy="467.2" r="1.8" fill="#fff" stroke="#00DC00" stroke-width="1.0"/><circle cx="519.6" cy="461.0" r="1.8" fill="#fff" stroke="#00DC00" stroke-width="1.0"/><circle cx="527.0" cy="456.1" r="1.8" fill="#fff" stroke="#00DC00" stroke-width="1.0"/><circle cx="534.4" cy="461.0" r="1.8" fill="#fff" stroke="#00DC00" stroke-width="1.0"/><circle cx="541.8" cy="455.3" r="1.8" fill="#fff" stroke="#00DC00" stroke-width="1.0"/><circle cx="549.2" cy="460.4" r="1.8" fill="#fff" stroke="#00DC00" stroke-width="1.0"/><circle cx="556.5" cy="460.0" r="1.8" fill="#fff" stroke="#00DC00" stroke-width="1.0"/><circle cx="563.9" cy="467.2" r="1.8" fill="#fff" stroke="#00DC00" stroke-width="1.0"/><circle cx="571.3" cy="467.2" r="1.8" fill="#fff" stroke="#00DC00" stroke-width="1.0"/><circle cx="578.7" cy="454.4" r="1.8" fill="#fff" stroke="#00DC00" stroke-width="1.0"/><circle cx="586.1" cy="460.0" r="1.8" fill="#fff" stroke="#00DC00" stroke-width="1.0"/><circle cx="593.4" cy="458.7" r="1.8" fill="#fff" stroke="#00DC00" stroke-width="1.0"/><circle cx="600.8" cy="460.6" r="1.8" fill="#fff" stroke="#00DC00" stroke-width="1.0"/><circle cx="608.2" cy="461.4" r="1.8" fill="#fff" stroke="#00DC00" stroke-width="1.0"/><circle cx="615.6" cy="466.2" r="1.8" fill="#fff" stroke="#00DC00" stroke-width="1.0"/><circle cx="623.0" cy="461.9" r="1.8" fill="#fff" stroke="#00DC00" stroke-width="1.0"/><circle cx="630.3" cy="459.7" r="1.8" fill="#fff" stroke="#00DC00" stroke-width="1.0"/><circle cx="637.7" cy="461.4" r="1.8" fill="#fff" stroke="#00DC00" stroke-width="1.0"/><circle cx="645.1" cy="458.7" r="1.8" fill="#fff" stroke="#00DC00" stroke-width="1.0"/><circle cx="652.5" cy="459.1" r="1.8" fill="#fff" stroke="#00DC00" stroke-width="1.0"/><circle cx="659.9" cy="457.2" r="1.8" fill="#fff" stroke="#00DC00" stroke-width="1.0"/><circle cx="667.2" cy="464.8" r="1.8" fill="#fff" stroke="#00DC00" stroke-width="1.0"/><circle cx="674.6" cy="465.3" r="1.8" fill="#fff" stroke="#00DC00" stroke-width="1.0"/><circle cx="682.0" cy="461.9" r="1.8" fill="#fff" stroke="#00DC00" stroke-width="1.0"/><polyline fill="none" stroke="#1E3CFF" stroke-width="1.25" points="386.8,477.6 394.2,477.0 401.6,475.7 408.9,476.1 416.3,477.6 423.7,479.3 431.1,475.1 438.5,480.8 445.8,471.9 453.2,480.4 460.6,477.9 468.0,477.0 475.4,472.3 482.7,471.3 490.1,470.4 497.5,473.8 504.9,469.5 512.3,471.9 519.6,468.5 527.0,467.6 534.4,470.4 541.8,471.9 549.2,470.0 556.5,475.1 563.9,476.1 571.3,475.1 578.7,473.2 586.1,471.3 593.4,474.2 600.8,472.3 608.2,473.2 615.6,472.3 623.0,473.8 630.3,474.2 637.7,476.4 645.1,473.2 652.5,467.6 659.9,472.3 667.2,473.2 674.6,470.4 682.0,474.2"/><circle cx="386.8" cy="477.6" r="1.8" fill="#fff" stroke="#1E3CFF" stroke-width="1.0"/><circle cx="394.2" cy="477.0" r="1.8" fill="#fff" stroke="#1E3CFF" stroke-width="1.0"/><circle cx="401.6" cy="475.7" r="1.8" fill="#fff" stroke="#1E3CFF" stroke-width="1.0"/><circle cx="408.9" cy="476.1" r="1.8" fill="#fff" stroke="#1E3CFF" stroke-width="1.0"/><circle cx="416.3" cy="477.6" r="1.8" fill="#fff" stroke="#1E3CFF" stroke-width="1.0"/><circle cx="423.7" cy="479.3" r="1.8" fill="#fff" stroke="#1E3CFF" stroke-width="1.0"/><circle cx="431.1" cy="475.1" r="1.8" fill="#fff" stroke="#1E3CFF" stroke-width="1.0"/><circle cx="438.5" cy="480.8" r="1.8" fill="#fff" stroke="#1E3CFF" stroke-width="1.0"/><circle cx="445.8" cy="471.9" r="1.8" fill="#fff" stroke="#1E3CFF" stroke-width="1.0"/><circle cx="453.2" cy="480.4" r="1.8" fill="#fff" stroke="#1E3CFF" stroke-width="1.0"/><circle cx="460.6" cy="477.9" r="1.8" fill="#fff" stroke="#1E3CFF" stroke-width="1.0"/><circle cx="468.0" cy="477.0" r="1.8" fill="#fff" stroke="#1E3CFF" stroke-width="1.0"/><circle cx="475.4" cy="472.3" r="1.8" fill="#fff" stroke="#1E3CFF" stroke-width="1.0"/><circle cx="482.7" cy="471.3" r="1.8" fill="#fff" stroke="#1E3CFF" stroke-width="1.0"/><circle cx="490.1" cy="470.4" r="1.8" fill="#fff" stroke="#1E3CFF" stroke-width="1.0"/><circle cx="497.5" cy="473.8" r="1.8" fill="#fff" stroke="#1E3CFF" stroke-width="1.0"/><circle cx="504.9" cy="469.5" r="1.8" fill="#fff" stroke="#1E3CFF" stroke-width="1.0"/><circle cx="512.3" cy="471.9" r="1.8" fill="#fff" stroke="#1E3CFF" stroke-width="1.0"/><circle cx="519.6" cy="468.5" r="1.8" fill="#fff" stroke="#1E3CFF" stroke-width="1.0"/><circle cx="527.0" cy="467.6" r="1.8" fill="#fff" stroke="#1E3CFF" stroke-width="1.0"/><circle cx="534.4" cy="470.4" r="1.8" fill="#fff" stroke="#1E3CFF" stroke-width="1.0"/><circle cx="541.8" cy="471.9" r="1.8" fill="#fff" stroke="#1E3CFF" stroke-width="1.0"/><circle cx="549.2" cy="470.0" r="1.8" fill="#fff" stroke="#1E3CFF" stroke-width="1.0"/><circle cx="556.5" cy="475.1" r="1.8" fill="#fff" stroke="#1E3CFF" stroke-width="1.0"/><circle cx="563.9" cy="476.1" r="1.8" fill="#fff" stroke="#1E3CFF" stroke-width="1.0"/><circle cx="571.3" cy="475.1" r="1.8" fill="#fff" stroke="#1E3CFF" stroke-width="1.0"/><circle cx="578.7" cy="473.2" r="1.8" fill="#fff" stroke="#1E3CFF" stroke-width="1.0"/><circle cx="586.1" cy="471.3" r="1.8" fill="#fff" stroke="#1E3CFF" stroke-width="1.0"/><circle cx="593.4" cy="474.2" r="1.8" fill="#fff" stroke="#1E3CFF" stroke-width="1.0"/><circle cx="600.8" cy="472.3" r="1.8" fill="#fff" stroke="#1E3CFF" stroke-width="1.0"/><circle cx="608.2" cy="473.2" r="1.8" fill="#fff" stroke="#1E3CFF" stroke-width="1.0"/><circle cx="615.6" cy="472.3" r="1.8" fill="#fff" stroke="#1E3CFF" stroke-width="1.0"/><circle cx="623.0" cy="473.8" r="1.8" fill="#fff" stroke="#1E3CFF" stroke-width="1.0"/><circle cx="630.3" cy="474.2" r="1.8" fill="#fff" stroke="#1E3CFF" stroke-width="1.0"/><circle cx="637.7" cy="476.4" r="1.8" fill="#fff" stroke="#1E3CFF" stroke-width="1.0"/><circle cx="645.1" cy="473.2" r="1.8" fill="#fff" stroke="#1E3CFF" stroke-width="1.0"/><circle cx="652.5" cy="467.6" r="1.8" fill="#fff" stroke="#1E3CFF" stroke-width="1.0"/><circle cx="659.9" cy="472.3" r="1.8" fill="#fff" stroke="#1E3CFF" stroke-width="1.0"/><circle cx="667.2" cy="473.2" r="1.8" fill="#fff" stroke="#1E3CFF" stroke-width="1.0"/><circle cx="674.6" cy="470.4" r="1.8" fill="#fff" stroke="#1E3CFF" stroke-width="1.0"/><circle cx="682.0" cy="474.2" r="1.8" fill="#fff" stroke="#1E3CFF" stroke-width="1.0"/><polyline fill="none" stroke="#E6148C" stroke-width="1.25" points="386.8,475.1 394.2,472.9 401.6,473.8 408.9,475.1 416.3,476.6 423.7,478.3 431.1,474.2 438.5,477.4 445.8,470.4 453.2,477.9 460.6,476.1 468.0,475.1 475.4,470.0 482.7,470.4 490.1,468.1 497.5,471.0 504.9,467.0 512.3,471.3 519.6,467.0 527.0,465.9 534.4,468.5 541.8,468.5 549.2,468.1 556.5,472.3 563.9,474.6 571.3,473.2 578.7,470.0 586.1,469.1 593.4,471.3 600.8,470.0 608.2,471.7 615.6,471.0 623.0,472.3 630.3,471.9 637.7,473.2 645.1,471.0 652.5,466.2 659.9,470.0 667.2,472.3 674.6,470.4 682.0,472.3"/><circle cx="386.8" cy="475.1" r="1.8" fill="#fff" stroke="#E6148C" stroke-width="1.0"/><circle cx="394.2" cy="472.9" r="1.8" fill="#fff" stroke="#E6148C" stroke-width="1.0"/><circle cx="401.6" cy="473.8" r="1.8" fill="#fff" stroke="#E6148C" stroke-width="1.0"/><circle cx="408.9" cy="475.1" r="1.8" fill="#fff" stroke="#E6148C" stroke-width="1.0"/><circle cx="416.3" cy="476.6" r="1.8" fill="#fff" stroke="#E6148C" stroke-width="1.0"/><circle cx="423.7" cy="478.3" r="1.8" fill="#fff" stroke="#E6148C" stroke-width="1.0"/><circle cx="431.1" cy="474.2" r="1.8" fill="#fff" stroke="#E6148C" stroke-width="1.0"/><circle cx="438.5" cy="477.4" r="1.8" fill="#fff" stroke="#E6148C" stroke-width="1.0"/><circle cx="445.8" cy="470.4" r="1.8" fill="#fff" stroke="#E6148C" stroke-width="1.0"/><circle cx="453.2" cy="477.9" r="1.8" fill="#fff" stroke="#E6148C" stroke-width="1.0"/><circle cx="460.6" cy="476.1" r="1.8" fill="#fff" stroke="#E6148C" stroke-width="1.0"/><circle cx="468.0" cy="475.1" r="1.8" fill="#fff" stroke="#E6148C" stroke-width="1.0"/><circle cx="475.4" cy="470.0" r="1.8" fill="#fff" stroke="#E6148C" stroke-width="1.0"/><circle cx="482.7" cy="470.4" r="1.8" fill="#fff" stroke="#E6148C" stroke-width="1.0"/><circle cx="490.1" cy="468.1" r="1.8" fill="#fff" stroke="#E6148C" stroke-width="1.0"/><circle cx="497.5" cy="471.0" r="1.8" fill="#fff" stroke="#E6148C" stroke-width="1.0"/><circle cx="504.9" cy="467.0" r="1.8" fill="#fff" stroke="#E6148C" stroke-width="1.0"/><circle cx="512.3" cy="471.3" r="1.8" fill="#fff" stroke="#E6148C" stroke-width="1.0"/><circle cx="519.6" cy="467.0" r="1.8" fill="#fff" stroke="#E6148C" stroke-width="1.0"/><circle cx="527.0" cy="465.9" r="1.8" fill="#fff" stroke="#E6148C" stroke-width="1.0"/><circle cx="534.4" cy="468.5" r="1.8" fill="#fff" stroke="#E6148C" stroke-width="1.0"/><circle cx="541.8" cy="468.5" r="1.8" fill="#fff" stroke="#E6148C" stroke-width="1.0"/><circle cx="549.2" cy="468.1" r="1.8" fill="#fff" stroke="#E6148C" stroke-width="1.0"/><circle cx="556.5" cy="472.3" r="1.8" fill="#fff" stroke="#E6148C" stroke-width="1.0"/><circle cx="563.9" cy="474.6" r="1.8" fill="#fff" stroke="#E6148C" stroke-width="1.0"/><circle cx="571.3" cy="473.2" r="1.8" fill="#fff" stroke="#E6148C" stroke-width="1.0"/><circle cx="578.7" cy="470.0" r="1.8" fill="#fff" stroke="#E6148C" stroke-width="1.0"/><circle cx="586.1" cy="469.1" r="1.8" fill="#fff" stroke="#E6148C" stroke-width="1.0"/><circle cx="593.4" cy="471.3" r="1.8" fill="#fff" stroke="#E6148C" stroke-width="1.0"/><circle cx="600.8" cy="470.0" r="1.8" fill="#fff" stroke="#E6148C" stroke-width="1.0"/><circle cx="608.2" cy="471.7" r="1.8" fill="#fff" stroke="#E6148C" stroke-width="1.0"/><circle cx="615.6" cy="471.0" r="1.8" fill="#fff" stroke="#E6148C" stroke-width="1.0"/><circle cx="623.0" cy="472.3" r="1.8" fill="#fff" stroke="#E6148C" stroke-width="1.0"/><circle cx="630.3" cy="471.9" r="1.8" fill="#fff" stroke="#E6148C" stroke-width="1.0"/><circle cx="637.7" cy="473.2" r="1.8" fill="#fff" stroke="#E6148C" stroke-width="1.0"/><circle cx="645.1" cy="471.0" r="1.8" fill="#fff" stroke="#E6148C" stroke-width="1.0"/><circle cx="652.5" cy="466.2" r="1.8" fill="#fff" stroke="#E6148C" stroke-width="1.0"/><circle cx="659.9" cy="470.0" r="1.8" fill="#fff" stroke="#E6148C" stroke-width="1.0"/><circle cx="667.2" cy="472.3" r="1.8" fill="#fff" stroke="#E6148C" stroke-width="1.0"/><circle cx="674.6" cy="470.4" r="1.8" fill="#fff" stroke="#E6148C" stroke-width="1.0"/><circle cx="682.0" cy="472.3" r="1.8" fill="#fff" stroke="#E6148C" stroke-width="1.0"/></g>
<rect x="386.8" y="382.5" width="295.2" height="110.0" fill="none" stroke="#111" stroke-width="1.3"/>
<line x1="384.40000000000003" x2="386.8" y1="492.50" y2="492.50" stroke="#111" stroke-width="1"/>

<line x1="384.40000000000003" x2="386.8" y1="465.00" y2="465.00" stroke="#111" stroke-width="1"/>

<line x1="384.40000000000003" x2="386.8" y1="437.50" y2="437.50" stroke="#111" stroke-width="1"/>

<line x1="384.40000000000003" x2="386.8" y1="410.00" y2="410.00" stroke="#111" stroke-width="1"/>

<line x1="384.40000000000003" x2="386.8" y1="382.50" y2="382.50" stroke="#111" stroke-width="1"/>

<line x1="394.18" x2="394.18" y1="492.5" y2="494.7" stroke="#111" stroke-width="1"/>

<line x1="431.08" x2="431.08" y1="492.5" y2="494.7" stroke="#111" stroke-width="1"/>

<line x1="467.98" x2="467.98" y1="492.5" y2="494.7" stroke="#111" stroke-width="1"/>

<line x1="504.88" x2="504.88" y1="492.5" y2="494.7" stroke="#111" stroke-width="1"/>

<line x1="541.78" x2="541.78" y1="492.5" y2="494.7" stroke="#111" stroke-width="1"/>

<line x1="578.68" x2="578.68" y1="492.5" y2="494.7" stroke="#111" stroke-width="1"/>

<line x1="615.58" x2="615.58" y1="492.5" y2="494.7" stroke="#111" stroke-width="1"/>

<line x1="652.48" x2="652.48" y1="492.5" y2="494.7" stroke="#111" stroke-width="1"/>











<line x1="433.95" x2="461.95" y1="387.40" y2="387.40" stroke="#1a1a1a" stroke-width="0.9"/>
<circle cx="448.75" cy="387.40" r="1.5" fill="#1a1a1a"/>

<line x1="433.95" x2="461.95" y1="394.10" y2="394.10" stroke="#FA3C3C" stroke-width="0.9"/>
<circle cx="448.75" cy="394.10" r="1.5" fill="#FA3C3C"/>

<line x1="433.95" x2="461.95" y1="401.00" y2="401.00" stroke="#00DC00" stroke-width="0.9"/>
<circle cx="448.75" cy="401.00" r="1.5" fill="#00DC00"/>

<line x1="534.05" x2="561.85" y1="388.60" y2="388.60" stroke="#1E3CFF" stroke-width="0.9"/>
<circle cx="548.75" cy="388.60" r="1.5" fill="#1E3CFF"/>

<line x1="534.05" x2="561.85" y1="395.40" y2="395.40" stroke="#E6148C" stroke-width="0.9"/>
<circle cx="548.75" cy="395.40" r="1.5" fill="#E6148C"/>
</svg>
</body></html>
